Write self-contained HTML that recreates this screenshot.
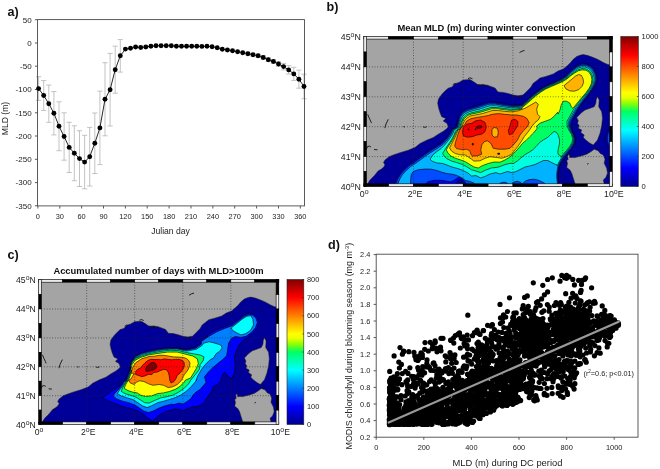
<!DOCTYPE html>
<html lang="en"><head><meta charset="utf-8"><title>MLD figure</title>
<style>html,body{margin:0;padding:0;background:#fff}svg{display:block}</style></head><body>
<svg width="660" height="469" viewBox="0 0 660 469">
<rect width="660" height="469" fill="#fff"/>
<g id="panel-a">
<g stroke="#b8b8b8" stroke-width="0.85" fill="none">
<path d="M38.6 76.7V100.4M36.0 76.7H41.2M36.0 100.4H41.2"/>
<path d="M43.7 80.6V110.4M41.1 80.6H46.3M41.1 110.4H46.3"/>
<path d="M48.8 85.1V122.3M46.2 85.1H51.4M46.2 122.3H51.4"/>
<path d="M53.9 91.6V134.9M51.3 91.6H56.5M51.3 134.9H56.5"/>
<path d="M59.0 101.8V150.7M56.4 101.8H61.6M56.4 150.7H61.6"/>
<path d="M64.1 112.8V160.2M61.5 112.8H66.7M61.5 160.2H66.7"/>
<path d="M69.2 122.3V172.5M66.6 122.3H71.8M66.6 172.5H71.8"/>
<path d="M74.3 125.8V180.7M71.8 125.8H76.9M71.8 180.7H76.9"/>
<path d="M79.5 130.7V186.5M76.9 130.7H82.1M76.9 186.5H82.1"/>
<path d="M84.6 135.3V188.8M82.0 135.3H87.2M82.0 188.8H87.2"/>
<path d="M89.7 127.4V186.0M87.1 127.4H92.3M87.1 186.0H92.3"/>
<path d="M94.8 113.0V173.5M92.2 113.0H97.4M92.2 173.5H97.4"/>
<path d="M99.9 91.1V164.6M97.3 91.1H102.5M97.3 164.6H102.5"/>
<path d="M105.0 62.7V135.8M102.4 62.7H107.6M102.4 135.8H107.6"/>
<path d="M110.1 53.4V126.0M107.5 53.4H112.7M107.5 126.0H112.7"/>
<path d="M115.2 46.2V93.2M112.6 46.2H117.8M112.6 93.2H117.8"/>
<path d="M120.3 39.6V72.1M117.7 39.6H122.9M117.7 72.1H122.9"/>
<path d="M247.9 52.3V55.1M245.3 52.3H250.5M245.3 55.1H250.5"/>
<path d="M253.0 53.4V56.2M250.4 53.4H255.6M250.4 56.2H255.6"/>
<path d="M258.1 54.2V57.5M255.5 54.2H260.7M255.5 57.5H260.7"/>
<path d="M263.2 55.6V59.3M260.6 55.6H265.8M260.6 59.3H265.8"/>
<path d="M268.3 57.8V61.5M265.7 57.8H270.9M265.7 61.5H270.9"/>
<path d="M273.4 59.6V63.3M270.8 59.6H276.0M270.8 63.3H276.0"/>
<path d="M278.5 61.7V66.3M275.9 61.7H281.1M275.9 66.3H281.1"/>
<path d="M283.6 63.4V69.9M281.0 63.4H286.2M281.0 69.9H286.2"/>
<path d="M288.7 65.7V74.0M286.1 65.7H291.3M286.1 74.0H291.3"/>
<path d="M293.8 67.3V80.4M291.2 67.3H296.4M291.2 80.4H296.4"/>
<path d="M298.9 70.1V88.2M296.3 70.1H301.5M296.3 88.2H301.5"/>
<path d="M304.0 74.2V98.8M301.4 74.2H306.6M301.4 98.8H306.6"/>
</g>
<rect x="37.5" y="19.6" width="267.0" height="186.3" fill="none" stroke="#4a4a4a" stroke-width="0.9"/>
<g stroke="#4a4a4a" stroke-width="0.9">
<line x1="37.9" y1="205.9" x2="37.9" y2="208.5"/>
<line x1="59.8" y1="205.9" x2="59.8" y2="208.5"/>
<line x1="81.6" y1="205.9" x2="81.6" y2="208.5"/>
<line x1="103.5" y1="205.9" x2="103.5" y2="208.5"/>
<line x1="125.4" y1="205.9" x2="125.4" y2="208.5"/>
<line x1="147.2" y1="205.9" x2="147.2" y2="208.5"/>
<line x1="169.1" y1="205.9" x2="169.1" y2="208.5"/>
<line x1="191.0" y1="205.9" x2="191.0" y2="208.5"/>
<line x1="212.9" y1="205.9" x2="212.9" y2="208.5"/>
<line x1="234.7" y1="205.9" x2="234.7" y2="208.5"/>
<line x1="256.6" y1="205.9" x2="256.6" y2="208.5"/>
<line x1="278.5" y1="205.9" x2="278.5" y2="208.5"/>
<line x1="300.3" y1="205.9" x2="300.3" y2="208.5"/>
<line x1="34.9" y1="19.7" x2="37.5" y2="19.7"/>
<line x1="34.9" y1="43.0" x2="37.5" y2="43.0"/>
<line x1="34.9" y1="66.2" x2="37.5" y2="66.2"/>
<line x1="34.9" y1="89.5" x2="37.5" y2="89.5"/>
<line x1="34.9" y1="112.8" x2="37.5" y2="112.8"/>
<line x1="34.9" y1="136.0" x2="37.5" y2="136.0"/>
<line x1="34.9" y1="159.3" x2="37.5" y2="159.3"/>
<line x1="34.9" y1="182.6" x2="37.5" y2="182.6"/>
<line x1="34.9" y1="205.8" x2="37.5" y2="205.8"/>
</g>
<polyline points="38.6,88.6 43.7,95.5 48.8,103.7 53.9,113.2 59.0,126.2 64.1,136.5 69.2,147.4 74.3,153.2 79.5,158.6 84.6,162.1 89.7,156.7 94.8,143.2 99.9,127.9 105.0,99.3 110.1,89.7 115.2,69.7 120.3,55.8 125.4,49.1 130.5,48.3 135.6,47.0 140.7,47.5 145.8,47.0 150.9,46.2 156.0,45.8 161.1,45.7 166.2,45.7 171.3,45.7 176.4,46.2 181.5,46.3 186.6,46.3 191.7,46.3 196.8,46.3 201.9,46.4 207.0,46.3 212.1,46.8 217.2,47.8 222.3,49.2 227.4,50.0 232.5,50.8 237.6,51.7 242.7,52.7 247.9,53.7 253.0,54.8 258.1,55.8 263.2,57.5 268.3,59.7 273.4,61.5 278.5,64.0 283.6,66.6 288.7,69.9 293.8,73.9 298.9,79.2 304.0,86.5" fill="none" stroke="#111" stroke-width="0.9"/>
<g fill="#000">
<circle cx="38.6" cy="88.6" r="2.45"/>
<circle cx="43.7" cy="95.5" r="2.45"/>
<circle cx="48.8" cy="103.7" r="2.45"/>
<circle cx="53.9" cy="113.2" r="2.45"/>
<circle cx="59.0" cy="126.2" r="2.45"/>
<circle cx="64.1" cy="136.5" r="2.45"/>
<circle cx="69.2" cy="147.4" r="2.45"/>
<circle cx="74.3" cy="153.2" r="2.45"/>
<circle cx="79.5" cy="158.6" r="2.45"/>
<circle cx="84.6" cy="162.1" r="2.45"/>
<circle cx="89.7" cy="156.7" r="2.45"/>
<circle cx="94.8" cy="143.2" r="2.45"/>
<circle cx="99.9" cy="127.9" r="2.45"/>
<circle cx="105.0" cy="99.3" r="2.45"/>
<circle cx="110.1" cy="89.7" r="2.45"/>
<circle cx="115.2" cy="69.7" r="2.45"/>
<circle cx="120.3" cy="55.8" r="2.45"/>
<circle cx="125.4" cy="49.1" r="2.45"/>
<circle cx="130.5" cy="48.3" r="2.45"/>
<circle cx="135.6" cy="47.0" r="2.45"/>
<circle cx="140.7" cy="47.5" r="2.45"/>
<circle cx="145.8" cy="47.0" r="2.45"/>
<circle cx="150.9" cy="46.2" r="2.45"/>
<circle cx="156.0" cy="45.8" r="2.45"/>
<circle cx="161.1" cy="45.7" r="2.45"/>
<circle cx="166.2" cy="45.7" r="2.45"/>
<circle cx="171.3" cy="45.7" r="2.45"/>
<circle cx="176.4" cy="46.2" r="2.45"/>
<circle cx="181.5" cy="46.3" r="2.45"/>
<circle cx="186.6" cy="46.3" r="2.45"/>
<circle cx="191.7" cy="46.3" r="2.45"/>
<circle cx="196.8" cy="46.3" r="2.45"/>
<circle cx="201.9" cy="46.4" r="2.45"/>
<circle cx="207.0" cy="46.3" r="2.45"/>
<circle cx="212.1" cy="46.8" r="2.45"/>
<circle cx="217.2" cy="47.8" r="2.45"/>
<circle cx="222.3" cy="49.2" r="2.45"/>
<circle cx="227.4" cy="50.0" r="2.45"/>
<circle cx="232.5" cy="50.8" r="2.45"/>
<circle cx="237.6" cy="51.7" r="2.45"/>
<circle cx="242.7" cy="52.7" r="2.45"/>
<circle cx="247.9" cy="53.7" r="2.45"/>
<circle cx="253.0" cy="54.8" r="2.45"/>
<circle cx="258.1" cy="55.8" r="2.45"/>
<circle cx="263.2" cy="57.5" r="2.45"/>
<circle cx="268.3" cy="59.7" r="2.45"/>
<circle cx="273.4" cy="61.5" r="2.45"/>
<circle cx="278.5" cy="64.0" r="2.45"/>
<circle cx="283.6" cy="66.6" r="2.45"/>
<circle cx="288.7" cy="69.9" r="2.45"/>
<circle cx="293.8" cy="73.9" r="2.45"/>
<circle cx="298.9" cy="79.2" r="2.45"/>
<circle cx="304.0" cy="86.5" r="2.45"/>
</g>
<g font-family='"Liberation Sans", Arial, sans-serif' font-size="7.4" fill="#222">
<text x="37.9" y="219.3" text-anchor="middle">0</text>
<text x="59.8" y="219.3" text-anchor="middle">30</text>
<text x="81.6" y="219.3" text-anchor="middle">60</text>
<text x="103.5" y="219.3" text-anchor="middle">90</text>
<text x="125.4" y="219.3" text-anchor="middle">120</text>
<text x="147.2" y="219.3" text-anchor="middle">150</text>
<text x="169.1" y="219.3" text-anchor="middle">180</text>
<text x="191.0" y="219.3" text-anchor="middle">210</text>
<text x="212.9" y="219.3" text-anchor="middle">240</text>
<text x="234.7" y="219.3" text-anchor="middle">270</text>
<text x="256.6" y="219.3" text-anchor="middle">300</text>
<text x="278.5" y="219.3" text-anchor="middle">330</text>
<text x="300.3" y="219.3" text-anchor="middle">360</text>
<text x="31.6" y="22.5" text-anchor="end" font-size="8">50</text>
<text x="31.6" y="45.8" text-anchor="end" font-size="8">0</text>
<text x="31.6" y="69.1" text-anchor="end" font-size="8">-50</text>
<text x="31.6" y="92.3" text-anchor="end" font-size="8">-100</text>
<text x="31.6" y="115.6" text-anchor="end" font-size="8">-150</text>
<text x="31.6" y="138.9" text-anchor="end" font-size="8">-200</text>
<text x="31.6" y="162.1" text-anchor="end" font-size="8">-250</text>
<text x="31.6" y="185.4" text-anchor="end" font-size="8">-300</text>
<text x="31.6" y="208.7" text-anchor="end" font-size="8">-350</text>
</g>
<text x="170.5" y="234.4" text-anchor="middle" font-family='"Liberation Sans", Arial, sans-serif' font-size="8.6" fill="#222">Julian day</text>
<text transform="translate(8.3,118.5) rotate(-90)" text-anchor="middle" font-family='"Liberation Sans", Arial, sans-serif' font-size="8.6" fill="#222">MLD (m)</text>
<text x="7.5" y="16.3" font-family='"Liberation Sans", Arial, sans-serif' font-size="12.6" font-weight="bold" fill="#111">a)</text>
</g>
<g id="map-b">
<clipPath id="clip-map-b"><rect x="363.8" y="36.4" width="248.5" height="150.1"/></clipPath>
<g clip-path="url(#clip-map-b)">
<rect x="363.8" y="36.4" width="248.5" height="150.1" fill="#000098"/>
<polygon points="612.0,128.5 609.7,128.5 607.5,131.0 606.0,135.0 605.6,139.0 606.2,143.0 608.0,146.5 609.7,147.0 612.0,147.0" fill="#0000f4" stroke="#000" stroke-width="0.62" stroke-linejoin="round"/>
<polygon points="612.0,131.0 609.7,131.0 608.2,133.0 607.3,137.0 607.4,141.0 608.6,144.5 609.7,145.0 612.0,145.0" fill="#004dff" stroke="#000" stroke-width="0.62" stroke-linejoin="round"/>
<polygon points="393.9,184.7 396.3,178.4 399.5,173.5 403.2,169.1 408.1,164.8 413.7,161.1 419.3,156.7 424.9,153.0 430.5,149.3 435.5,146.1 440.4,143.0 444.2,139.9 447.3,136.2 449.8,132.5 451.0,130.0 452.8,129.0 456.1,126.7 457.4,121.1 458.6,116.1 461.1,111.8 466.1,108.7 472.3,106.8 478.5,104.9 483.5,103.1 488.4,101.8 494.7,101.8 502.1,103.1 509.6,104.3 517.0,104.9 522.0,104.2 524.0,102.5 525.7,101.0 527.5,99.5 529.2,97.9 530.9,96.4 532.6,94.9 534.3,93.4 536.0,92.1 537.8,90.9 539.5,89.6 541.2,88.5 542.9,87.4 544.6,86.4 547.2,85.1 549.8,83.8 552.4,82.8 554.9,81.8 557.5,80.6 560.1,79.3 561.8,78.2 563.5,77.1 565.3,76.0 567.2,74.1 569.1,72.2 571.1,70.2 573.0,68.3 574.9,66.7 576.9,65.1 579.1,64.1 581.4,63.2 583.6,63.2 585.9,63.2 588.1,64.1 590.4,65.1 592.3,67.0 594.3,69.0 595.5,71.5 596.8,74.1 597.2,76.7 597.5,79.3 596.8,81.2 596.2,83.1 595.5,85.1 594.5,86.8 593.4,88.5 592.3,90.2 591.0,91.9 589.7,93.7 588.5,95.4 587.2,97.1 585.9,98.8 584.6,100.5 583.3,102.2 582.0,104.0 580.7,105.7 579.6,107.4 578.6,109.1 577.5,110.8 576.2,113.4 574.9,116.0 572.5,121.0 571.5,126.0 572.5,131.0 574.5,135.0 575.8,139.0 575.2,143.5 572.5,148.0 569.3,152.0 566.0,156.0 563.5,159.5 561.0,163.5 559.3,167.5 558.5,172.0 558.1,177.0 558.5,181.5 559.3,187.0" fill="#0000f4" stroke="#000" stroke-width="0.62" stroke-linejoin="round"/>
<polygon points="395.5,184.7 397.7,179.0 400.6,174.3 404.3,170.0 409.3,165.6 414.9,161.9 420.4,157.7 426.0,153.8 431.6,150.1 436.6,147.0 441.3,143.9 445.0,140.6 448.1,136.8 450.6,133.0 451.8,130.0 456.9,127.0 458.2,121.5 459.6,116.5 462.3,112.4 467.1,109.6 472.8,107.9 479.0,106.1 484.0,104.4 488.9,103.0 495.2,103.0 502.5,104.3 509.8,105.3 517.0,105.8 522.0,105.0 524.3,102.8 526.1,101.3 527.8,99.8 529.5,98.3 531.2,96.8 532.9,95.3 534.6,93.8 536.3,92.5 538.1,91.3 539.7,90.0 541.5,88.9 543.2,87.8 544.9,86.8 547.4,85.5 550.0,84.3 552.6,83.3 555.1,82.3 557.7,81.0 560.4,79.7 562.1,78.7 563.8,77.6 565.6,76.5 567.6,74.6 569.5,72.7 571.5,70.8 573.4,69.0 575.4,67.5 577.1,66.1 579.4,65.2 581.5,64.3 583.5,64.3 585.8,64.4 587.7,65.2 589.8,66.1 591.8,67.9 593.4,69.5 594.7,72.1 595.8,74.3 596.2,76.9 596.5,79.3 596.0,81.1 595.4,83.0 594.8,84.8 593.8,86.5 592.8,88.2 591.8,89.9 590.5,91.6 589.2,93.3 588.0,95.0 586.7,96.7 585.4,98.4 584.1,100.1 582.7,101.8 581.4,103.5 580.1,105.2 579.0,106.9 577.9,108.6 576.8,110.3 575.7,112.5 574.6,114.7 571.1,121.1 570.4,126.0 571.6,130.9 573.7,134.8 575.0,138.9 574.4,143.2 571.8,147.6 568.6,151.6 565.4,155.5 562.9,158.9 560.4,163.0 558.6,167.0 557.8,171.5 557.4,176.6 557.8,181.2 558.6,187.0" fill="#004dff" stroke="#000" stroke-width="0.62" stroke-linejoin="round"/>
<polygon points="424.3,185.3 428.0,181.6 434.2,180.3 440.4,180.3 445.4,180.9 450.4,181.9 454.1,180.3 457.8,177.8 460.3,177.2 462.8,179.1 465.3,182.2 466.5,185.3" fill="#0000f4" stroke="#000" stroke-width="0.62" stroke-linejoin="round"/>
<polygon points="456.0,185.3 457.8,180.9 460.3,179.1 462.6,180.9 464.0,185.3" fill="#000098" stroke="#000" stroke-width="0.62" stroke-linejoin="round"/>
<polygon points="522.5,185.8 524.2,181.3 528.3,180.0 532.5,181.3 534.2,185.8" fill="#0000f4" stroke="#000" stroke-width="0.62" stroke-linejoin="round"/>
<polygon points="397.6,184.7 399.5,179.7 401.9,175.3 405.7,171.0 410.6,166.6 416.2,162.9 421.8,158.8 427.4,154.8 433.0,151.1 438.0,148.0 442.3,144.9 446.0,141.4 449.1,137.5 451.6,133.7 452.9,130.0 457.7,127.2 459.0,121.8 460.5,117.0 463.5,113.0 468.0,110.5 473.3,109.1 479.5,107.3 484.5,105.6 489.5,104.2 495.7,104.2 502.8,105.4 509.9,106.4 517.0,106.6 522.0,105.9 524.7,103.2 526.4,101.7 528.1,100.2 529.8,98.7 531.5,97.2 533.2,95.7 534.9,94.2 536.6,92.9 538.4,91.6 540.0,90.4 541.7,89.3 543.4,88.3 545.1,87.2 547.6,86.0 550.2,84.8 552.8,83.8 555.3,82.8 557.9,81.5 560.7,80.2 562.4,79.2 564.1,78.1 566.0,76.9 568.0,75.1 569.9,73.3 571.9,71.4 573.9,69.8 575.9,68.3 577.4,67.1 579.7,66.2 581.6,65.5 583.4,65.5 585.6,65.6 587.4,66.2 589.2,67.1 591.2,68.8 592.5,70.1 593.8,72.6 594.8,74.6 595.2,77.1 595.6,79.3 595.1,80.9 594.6,82.9 594.1,84.6 593.2,86.1 592.2,87.9 591.2,89.5 590.0,91.2 588.7,92.9 587.5,94.6 586.2,96.2 584.8,97.9 583.5,99.6 582.2,101.3 580.9,103.0 579.6,104.7 578.4,106.4 577.3,108.1 576.1,109.7 575.1,111.6 574.3,113.3 569.7,121.2 569.4,126.0 570.8,130.8 573.0,134.6 574.2,138.8 573.6,142.9 571.0,147.3 567.9,151.2 564.7,155.0 562.2,158.3 559.7,162.5 557.9,166.4 557.1,171.1 556.7,176.1 557.1,180.9 557.9,187.0 475.5,187.0 474.0,183.0 470.0,181.5 465.3,180.3 461.6,177.8 456.6,175.3 451.6,174.1 446.7,173.5 441.7,172.2 436.7,170.4 430.5,169.1 424.3,169.1 418.1,169.8 413.1,171.6 411.3,174.7 410.6,179.7 410.6,184.7" fill="#00b2ff" stroke="#000" stroke-width="0.62" stroke-linejoin="round"/>
<polygon points="500.0,186.4 500.0,183.3 501.9,182.4 505.0,182.2 507.5,183.3 507.5,186.4" fill="#004dff" stroke="#000" stroke-width="0.62" stroke-linejoin="round"/>
<polygon points="523.0,186.4 523.0,183.3 525.5,180.8 529.8,179.6 534.2,179.2 538.5,180.2 542.2,182.0 544.7,183.3 544.7,186.4" fill="#004dff" stroke="#000" stroke-width="0.62" stroke-linejoin="round"/>
<polygon points="510.9,185.5 513.2,182.4 517.0,181.2 520.8,182.4 523.0,185.5" fill="#004dff" stroke="#000" stroke-width="0.62" stroke-linejoin="round"/>
<polygon points="430.5,158.6 433.0,154.8 436.7,151.7 441.1,148.6 444.2,145.5 447.3,141.8 450.1,138.1 452.6,134.3 454.1,130.0 458.7,127.5 460.0,122.2 461.8,117.5 465.1,113.8 469.3,111.7 474.0,110.5 480.2,108.9 485.2,107.2 490.1,105.8 496.4,105.8 503.2,106.9 510.2,107.7 517.0,107.8 522.0,107.0 525.1,103.7 526.8,102.1 528.5,100.6 530.2,99.1 531.9,97.6 533.7,96.1 535.3,94.7 537.0,93.4 538.7,92.1 540.3,91.0 542.1,89.9 543.8,88.8 545.4,87.8 547.9,86.6 550.5,85.4 553.0,84.4 555.6,83.3 558.2,82.1 561.0,80.8 562.8,79.8 564.5,78.8 566.5,77.5 568.5,75.7 570.4,74.0 572.5,72.2 574.4,70.7 576.5,69.3 577.7,68.3 580.0,67.6 581.7,67.0 583.2,67.0 585.5,67.1 586.9,67.6 588.4,68.4 590.5,69.9 591.3,70.8 592.7,73.2 593.5,74.9 594.0,77.4 594.3,79.3 594.0,80.8 593.5,82.7 593.1,84.3 592.3,85.7 591.4,87.5 590.5,89.1 589.3,90.7 588.1,92.4 586.9,94.0 585.5,95.7 584.2,97.4 582.8,99.1 581.5,100.7 580.2,102.4 578.8,104.1 577.6,105.7 576.4,107.4 575.2,109.0 574.4,110.5 573.8,111.6 568.3,121.4 568.3,126.0 569.9,130.6 572.2,134.4 573.5,138.7 572.8,142.6 570.3,146.9 567.2,150.8 564.0,154.6 561.5,157.8 559.0,162.0 557.2,165.8 556.5,164.6 555.3,164.3 552.2,162.8 547.8,160.5 543.5,160.5 539.8,162.2 534.8,164.6 529.8,165.9 524.8,167.1 519.9,169.6 516.1,171.5 512.4,172.7 507.5,171.5 503.7,172.7 500.0,174.0 495.8,172.6 489.7,174.1 485.2,176.4 480.6,177.9 476.1,175.6 471.5,176.0 467.8,172.9 462.8,170.4 457.8,168.5 452.9,167.3 447.9,165.4 442.9,163.5 436.7,162.9 431.8,161.1 430.3,159.2" fill="#00ffe0" stroke="#000" stroke-width="0.62" stroke-linejoin="round"/>
<polygon points="442.9,153.0 444.8,149.9 447.3,146.1 449.8,142.4 452.2,138.7 454.1,135.0 455.4,131.2 459.7,127.9 461.0,122.7 463.1,118.1 466.8,114.6 470.6,113.0 474.7,112.1 480.9,110.6 485.9,109.0 490.9,107.5 497.1,107.5 503.7,108.5 510.4,109.2 517.0,108.9 522.0,108.1 525.5,104.1 527.2,102.6 528.9,101.1 530.6,99.6 532.4,98.1 534.1,96.6 535.7,95.3 537.4,94.0 539.1,92.7 540.7,91.5 542.4,90.5 544.1,89.4 545.7,88.4 548.2,87.3 550.8,86.1 553.3,85.0 555.9,84.0 558.5,82.8 561.4,81.5 563.1,80.5 564.9,79.5 567.0,78.1 569.0,76.3 571.0,74.7 573.1,73.0 575.0,71.7 577.1,70.3 578.1,69.7 580.4,69.0 581.9,68.5 583.1,68.6 585.3,68.8 586.3,69.0 587.6,69.7 589.7,71.2 590.1,71.5 591.5,73.9 592.2,75.2 592.7,77.7 593.0,79.3 592.8,80.6 592.4,82.6 592.1,84.0 591.5,85.3 590.5,87.1 589.7,88.7 588.6,90.2 587.4,92.0 586.2,93.5 584.9,95.1 583.5,96.8 582.1,98.4 580.7,100.1 579.4,101.8 578.0,103.4 576.8,105.0 575.5,106.7 574.3,108.3 573.6,109.3 573.4,109.8 566.9,121.5 567.2,126.0 569.0,130.5 571.4,134.2 572.7,138.6 572.0,142.3 569.6,146.6 566.5,150.4 563.4,154.1 560.9,157.2 561.1,157.2 560.9,156.0 558.4,154.7 557.8,152.2 558.4,148.5 559.4,144.1 559.6,139.8 558.4,135.5 556.5,132.3 554.0,131.5 550.9,134.2 547.8,137.3 543.5,139.8 539.8,142.3 536.0,146.6 532.9,149.7 529.2,152.2 524.8,154.7 521.1,157.8 517.4,160.9 513.7,163.4 509.9,163.4 505.0,164.6 500.0,166.5 497.3,167.3 491.2,168.0 485.2,170.3 480.6,172.6 476.1,171.1 471.5,169.8 466.5,166.6 461.6,164.2 456.6,162.5 451.6,161.1 446.7,158.6 444.2,156.1 442.7,153.6" fill="#00ff64" stroke="#000" stroke-width="0.62" stroke-linejoin="round"/>
<polygon points="446.7,149.3 448.5,146.1 450.6,143.0 452.9,139.3 454.7,135.6 456.3,131.9 460.6,128.2 461.9,123.1 464.2,118.6 468.1,115.3 471.7,114.0 475.3,113.4 481.5,111.9 486.5,110.4 491.5,108.8 497.7,108.8 504.1,109.8 510.6,110.4 517.0,109.9 522.0,109.1 522.0,107.6 525.3,105.0 530.5,100.5 535.6,96.0 540.8,92.1 545.9,88.9 551.1,86.6 556.2,84.4 561.4,82.2 566.5,79.3 570.4,76.0 574.3,73.2 578.1,70.9 582.0,69.9 585.9,70.2 589.1,72.2 591.0,75.4 591.9,79.3 591.3,83.8 589.1,88.3 585.9,92.8 582.0,97.3 578.8,101.2 575.6,105.0 573.0,108.3 571.4,107.0 569.8,103.1 566.5,101.2 563.3,101.2 561.4,104.4 560.1,109.5 558.2,114.1 557.5,112.3 554.3,116.1 550.5,119.3 545.4,121.2 540.2,123.1 536.4,126.3 537.3,128.0 536.6,129.2 533.5,133.0 529.8,136.7 526.1,140.4 522.4,143.5 519.3,147.3 516.1,151.0 512.4,154.7 508.7,157.8 504.3,160.3 500.0,162.2 494.2,162.0 488.2,163.5 482.1,165.8 478.3,168.0 474.0,167.0 470.3,164.8 465.3,161.7 460.3,159.8 455.4,158.3 451.0,156.1 447.9,153.0 446.4,149.9" fill="#faff00" stroke="#000" stroke-width="0.62" stroke-linejoin="round"/>
<polygon points="449.8,147.4 451.4,144.3 453.1,140.9 455.1,137.2 456.6,133.7 457.8,130.0 461.7,128.5 463.0,123.6 465.5,119.2 469.8,116.1 473.0,115.3 476.0,114.9 482.2,113.6 487.2,112.1 492.2,110.5 498.4,110.5 504.6,111.4 510.8,111.8 517.0,111.1 518.3,110.8 525.0,108.3 530.8,105.0 535.8,102.0 538.3,104.2 536.7,109.2 537.5,114.2 540.0,116.7 538.3,120.0 535.0,122.5 531.7,126.7 528.3,131.7 524.2,136.7 521.7,140.8 518.3,145.8 515.0,150.0 511.7,154.2 506.7,156.7 501.7,158.3 496.7,157.5 490.0,156.7 485.0,158.3 480.0,160.8 474.0,161.1 471.5,159.2 467.8,156.7 464.7,154.8 460.3,154.8 455.4,153.6 451.6,151.1 449.5,148.0" fill="#ffb300" stroke="#000" stroke-width="0.62" stroke-linejoin="round"/>
<polygon points="564.0,85.7 567.8,82.5 571.7,79.3 575.6,76.0 578.8,74.5 581.4,75.4 583.0,78.6 583.6,82.5 582.0,86.4 578.8,89.6 574.3,91.2 569.8,90.9 565.9,88.9" fill="#ffb300" stroke="#000" stroke-width="0.62" stroke-linejoin="round"/>
<polygon points="454.7,146.1 455.4,142.4 456.6,138.7 457.8,135.0 459.1,131.2 461.1,127.5 464.2,125.4 466.7,121.1 471.1,118.6 477.3,117.4 483.5,116.4 488.4,115.5 492.2,114.3 498.4,113.6 504.6,114.3 510.8,114.9 516.7,115.0 523.3,116.3 526.7,118.3 529.2,122.5 527.5,126.7 523.3,130.8 520.0,135.0 517.5,140.0 513.3,145.0 510.0,148.3 505.0,149.2 498.3,149.2 493.3,148.3 490.8,143.3 487.5,140.8 484.2,141.7 481.7,145.0 480.8,150.0 481.7,154.2 477.5,155.8 473.7,155.8 472.7,156.7 470.9,154.2 469.6,150.5 466.5,149.3 461.6,149.6 456.6,148.6" fill="#ff4c00" stroke="#000" stroke-width="0.62" stroke-linejoin="round"/>
<polygon points="492.0,129.2 494.2,127.5 497.5,128.3 498.3,132.5 497.5,136.7 494.2,137.2 492.0,135.0" fill="#ffb300" stroke="#000" stroke-width="0.62" stroke-linejoin="round"/>
<polygon points="463.3,127.5 466.7,124.2 471.7,123.3 475.8,120.8 480.8,120.0 485.0,122.5 486.3,126.7 485.0,131.7 481.7,134.2 476.7,135.0 472.5,136.7 467.5,137.2 463.3,135.8 462.5,131.7" fill="#f40000" stroke="#000" stroke-width="0.62" stroke-linejoin="round"/>
<polygon points="511.7,120.0 515.0,119.2 518.0,121.7 517.5,125.8 515.0,130.0 512.5,133.7 509.2,134.7 508.3,130.8 510.0,125.8 510.8,122.5" fill="#f40000" stroke="#000" stroke-width="0.62" stroke-linejoin="round"/>
<polygon points="476.3,127.0 478.3,125.7 481.3,125.7 482.0,127.0 480.0,128.3 477.3,128.3" fill="#900000" stroke="#000" stroke-width="0.62" stroke-linejoin="round"/>
<polygon points="467.8,129.2 468.8,128.8 469.2,129.8 468.2,130.2" fill="#900000" stroke="#000" stroke-width="0.62" stroke-linejoin="round"/>
<polygon points="475.0,128.8 476.2,128.7 476.2,129.7 475.2,129.8" fill="#900000" stroke="#000" stroke-width="0.62" stroke-linejoin="round"/>
<polygon points="472.3,143.5 473.3,143.5 473.3,145.0 472.3,145.0" fill="#900000" stroke="#000" stroke-width="0.8" stroke-linejoin="round"/>
<polygon points="497.7,153.3 499.5,153.2 499.7,154.2 497.8,154.3" fill="#900000" stroke="#000" stroke-width="0.8" stroke-linejoin="round"/>
<polygon points="360.0,190.0 367.5,183.9 370.0,180.0 374.2,175.8 378.3,170.8 380.8,169.4 383.3,167.5 385.0,165.0 383.5,162.5 385.0,160.0 389.2,156.7 393.3,155.0 400.0,152.7 408.3,150.2 415.0,147.5 420.0,143.6 426.7,140.2 433.3,137.5 438.3,134.2 443.3,131.3 446.7,128.8 448.3,126.8 446.9,123.3 443.2,121.0 445.8,118.5 441.7,116.7 440.0,112.5 438.5,107.5 437.7,103.3 438.5,99.0 441.9,94.2 445.0,91.0 448.2,88.2 452.0,87.0 455.0,83.8 459.0,82.4 463.0,80.0 470.0,79.6 474.0,82.0 478.0,84.8 483.0,84.4 488.0,85.4 495.0,88.0 498.0,92.0 503.0,92.4 507.0,93.2 513.0,95.0 518.0,95.8 523.0,95.0 528.0,90.2 531.0,87.0 533.0,83.4 537.0,80.4 540.0,78.0 546.0,76.4 553.3,74.0 558.0,71.0 563.3,69.0 567.0,66.0 570.0,63.2 573.0,59.6 576.7,56.6 580.0,55.2 583.3,54.6 588.0,55.6 593.3,57.5 598.0,59.6 603.3,62.5 607.0,64.2 611.0,65.3 616.0,65.0 616.0,30.0 360.0,30.0" fill="#a4a4a4" stroke="#1a1a1a" stroke-width="0.5" stroke-linejoin="round"/>
<polygon points="597.5,96.7 599.2,100.0 598.7,106.7 601.7,111.7 602.5,118.3 601.7,125.8 600.0,133.3 597.5,140.0 593.3,145.0 590.0,143.3 585.8,140.0 583.3,137.5 584.2,135.0 580.8,132.5 581.7,130.0 578.3,128.3 579.2,125.8 577.5,123.3 578.3,120.8 576.7,117.5 579.2,115.0 581.7,112.5 585.0,110.0 590.0,108.3 594.2,106.7 595.8,103.3 596.3,99.2" fill="#a4a4a4" stroke="#1a1a1a" stroke-width="0.5" stroke-linejoin="round"/>
<polygon points="575.0,190.0 575.0,183.7 573.3,178.3 571.7,173.3 570.0,170.0 566.7,167.5 567.5,163.3 566.7,160.8 568.2,159.3 567.6,156.2 568.6,154.6 569.6,155.6 569.8,157.6 571.7,157.4 575.0,157.5 581.7,155.8 586.7,154.2 590.8,151.7 594.2,149.2 598.3,150.8 600.0,153.3 603.3,155.0 605.0,159.2 604.2,163.3 606.7,168.3 607.5,173.3 605.8,177.5 603.3,180.0 604.2,183.7 604.2,190.0" fill="#a4a4a4" stroke="#1a1a1a" stroke-width="0.5" stroke-linejoin="round"/>
<polyline points="367.7,114.3 369.2,118.0 370.6,121.0 371.5,123.1" fill="none" stroke="#111" stroke-width="0.9"/>
<polyline points="384.8,128.1 386.0,124.0 388.3,119.3" fill="none" stroke="#111" stroke-width="0.9"/>
<polyline points="403.4,126.7 405.0,127.0" fill="none" stroke="#111" stroke-width="0.9"/>
<polyline points="423.0,126.9 425.0,127.3 426.8,126.7" fill="none" stroke="#111" stroke-width="0.9"/>
<polyline points="366.5,149.0 367.5,146.5 369.5,146.2 371.0,147.0" fill="none" stroke="#111" stroke-width="0.9"/>
<polyline points="374.0,149.5 377.5,149.8" fill="none" stroke="#111" stroke-width="0.9"/>
<polyline points="519.5,52.6 522.0,51.2 524.5,50.4" fill="none" stroke="#111" stroke-width="0.9"/>
<polyline points="587.5,164.5 588.3,163.0" fill="none" stroke="#111" stroke-width="0.9"/>
<polyline points="468.0,78.6 470.0,77.8 472.5,78.8" fill="none" stroke="#111" stroke-width="0.9"/>
<polyline points="452.8,84.8 454.5,83.6 455.8,83.8" fill="none" stroke="#111" stroke-width="0.9"/>
<polyline points="478.0,84.5 480.5,85.8 483.0,85.2 485.5,86.2 487.5,85.4" fill="none" stroke="#111" stroke-width="0.9"/>
<polyline points="516.8,96.8 519.5,97.2 522.5,96.6" fill="none" stroke="#111" stroke-width="0.9"/>
<polyline points="607.4,95.8 608.4,96.4" fill="none" stroke="#111" stroke-width="0.9"/>
<polyline points="594.6,147.6 596.4,148.6 597.6,148.2" fill="none" stroke="#111" stroke-width="0.9"/>
<g stroke="#222" stroke-width="0.7" stroke-dasharray="0.8 1.9">
<line x1="413.5" y1="36.4" x2="413.5" y2="186.5"/>
<line x1="463.2" y1="36.4" x2="463.2" y2="186.5"/>
<line x1="512.9" y1="36.4" x2="512.9" y2="186.5"/>
<line x1="562.6" y1="36.4" x2="562.6" y2="186.5"/>
<line x1="363.8" y1="156.6" x2="612.3" y2="156.6"/>
<line x1="363.8" y1="126.7" x2="612.3" y2="126.7"/>
<line x1="363.8" y1="96.8" x2="612.3" y2="96.8"/>
<line x1="363.8" y1="66.9" x2="612.3" y2="66.9"/>
</g>
</g>
<g stroke="#000" stroke-width="0.6">
<rect x="363.8" y="36.4" width="24.9" height="2.7" fill="#ebebeb"/>
<rect x="363.8" y="183.8" width="24.9" height="2.7" fill="#000"/>
<rect x="388.7" y="36.4" width="24.8" height="2.7" fill="#000"/>
<rect x="388.7" y="183.8" width="24.8" height="2.7" fill="#ebebeb"/>
<rect x="413.5" y="36.4" width="24.9" height="2.7" fill="#ebebeb"/>
<rect x="413.5" y="183.8" width="24.9" height="2.7" fill="#000"/>
<rect x="438.4" y="36.4" width="24.9" height="2.7" fill="#000"/>
<rect x="438.4" y="183.8" width="24.9" height="2.7" fill="#ebebeb"/>
<rect x="463.2" y="36.4" width="24.8" height="2.7" fill="#ebebeb"/>
<rect x="463.2" y="183.8" width="24.8" height="2.7" fill="#000"/>
<rect x="488.1" y="36.4" width="24.9" height="2.7" fill="#000"/>
<rect x="488.1" y="183.8" width="24.9" height="2.7" fill="#ebebeb"/>
<rect x="512.9" y="36.4" width="24.8" height="2.7" fill="#ebebeb"/>
<rect x="512.9" y="183.8" width="24.8" height="2.7" fill="#000"/>
<rect x="537.8" y="36.4" width="24.9" height="2.7" fill="#000"/>
<rect x="537.8" y="183.8" width="24.9" height="2.7" fill="#ebebeb"/>
<rect x="562.6" y="36.4" width="24.9" height="2.7" fill="#ebebeb"/>
<rect x="562.6" y="183.8" width="24.9" height="2.7" fill="#000"/>
<rect x="587.5" y="36.4" width="24.8" height="2.7" fill="#000"/>
<rect x="587.5" y="183.8" width="24.8" height="2.7" fill="#ebebeb"/>
<rect x="363.8" y="36.4" width="2.7" height="15.6" fill="#ebebeb"/>
<rect x="609.6" y="36.4" width="2.7" height="15.6" fill="#000"/>
<rect x="363.8" y="52.0" width="2.7" height="15.0" fill="#000"/>
<rect x="609.6" y="52.0" width="2.7" height="15.0" fill="#ebebeb"/>
<rect x="363.8" y="66.9" width="2.7" height="14.9" fill="#ebebeb"/>
<rect x="609.6" y="66.9" width="2.7" height="14.9" fill="#000"/>
<rect x="363.8" y="81.8" width="2.7" height="15.0" fill="#000"/>
<rect x="609.6" y="81.8" width="2.7" height="15.0" fill="#ebebeb"/>
<rect x="363.8" y="96.8" width="2.7" height="15.0" fill="#ebebeb"/>
<rect x="609.6" y="96.8" width="2.7" height="15.0" fill="#000"/>
<rect x="363.8" y="111.8" width="2.7" height="14.9" fill="#000"/>
<rect x="609.6" y="111.8" width="2.7" height="14.9" fill="#ebebeb"/>
<rect x="363.8" y="126.7" width="2.7" height="14.9" fill="#ebebeb"/>
<rect x="609.6" y="126.7" width="2.7" height="14.9" fill="#000"/>
<rect x="363.8" y="141.6" width="2.7" height="15.0" fill="#000"/>
<rect x="609.6" y="141.6" width="2.7" height="15.0" fill="#ebebeb"/>
<rect x="363.8" y="156.6" width="2.7" height="14.9" fill="#ebebeb"/>
<rect x="609.6" y="156.6" width="2.7" height="14.9" fill="#000"/>
<rect x="363.8" y="171.5" width="2.7" height="15.0" fill="#000"/>
<rect x="609.6" y="171.5" width="2.7" height="15.0" fill="#ebebeb"/>
</g>
<g font-family='"Liberation Sans", Arial, sans-serif' font-size="8.8" fill="#222">
<text x="360.8" y="189.8" text-anchor="end">40<tspan dy="-3" font-size="7.0">o</tspan><tspan dy="3">N</tspan></text>
<text x="360.8" y="159.9" text-anchor="end">41<tspan dy="-3" font-size="7.0">o</tspan><tspan dy="3">N</tspan></text>
<text x="360.8" y="130.0" text-anchor="end">42<tspan dy="-3" font-size="7.0">o</tspan><tspan dy="3">N</tspan></text>
<text x="360.8" y="100.1" text-anchor="end">43<tspan dy="-3" font-size="7.0">o</tspan><tspan dy="3">N</tspan></text>
<text x="360.8" y="70.2" text-anchor="end">44<tspan dy="-3" font-size="7.0">o</tspan><tspan dy="3">N</tspan></text>
<text x="360.8" y="40.3" text-anchor="end">45<tspan dy="-3" font-size="7.0">o</tspan><tspan dy="3">N</tspan></text>
<text x="364.2" y="196.7" text-anchor="middle">0<tspan dy="-3" font-size="7.0">o</tspan></text>
<text x="415.0" y="196.7" text-anchor="middle">2<tspan dy="-3" font-size="7.0">o</tspan><tspan dy="3">E</tspan></text>
<text x="464.7" y="196.7" text-anchor="middle">4<tspan dy="-3" font-size="7.0">o</tspan><tspan dy="3">E</tspan></text>
<text x="514.4" y="196.7" text-anchor="middle">6<tspan dy="-3" font-size="7.0">o</tspan><tspan dy="3">E</tspan></text>
<text x="564.1" y="196.7" text-anchor="middle">8<tspan dy="-3" font-size="7.0">o</tspan><tspan dy="3">E</tspan></text>
<text x="613.8" y="196.7" text-anchor="middle">10<tspan dy="-3" font-size="7.0">o</tspan><tspan dy="3">E</tspan></text>
</g>
<text x="486.5" y="30.8" text-anchor="middle" font-family='"Liberation Sans", Arial, sans-serif' font-size="9.4" font-weight="bold" fill="#111">Mean MLD (m) during winter convection</text>
</g>
<defs><linearGradient id="cbB" x1="0" y1="1" x2="0" y2="0">
<stop offset="0.0000" stop-color="#00008f"/>
<stop offset="0.0312" stop-color="#0000ab"/>
<stop offset="0.0625" stop-color="#0000c7"/>
<stop offset="0.0938" stop-color="#0000e3"/>
<stop offset="0.1250" stop-color="#0000ff"/>
<stop offset="0.1562" stop-color="#0020ff"/>
<stop offset="0.1875" stop-color="#0040ff"/>
<stop offset="0.2188" stop-color="#0060ff"/>
<stop offset="0.2500" stop-color="#0080ff"/>
<stop offset="0.2812" stop-color="#009fff"/>
<stop offset="0.3125" stop-color="#00bfff"/>
<stop offset="0.3438" stop-color="#00dfff"/>
<stop offset="0.3750" stop-color="#00ffff"/>
<stop offset="0.4062" stop-color="#00ffd8"/>
<stop offset="0.4375" stop-color="#00ffb2"/>
<stop offset="0.4688" stop-color="#00ff8b"/>
<stop offset="0.5000" stop-color="#00ff64"/>
<stop offset="0.5312" stop-color="#51ff26"/>
<stop offset="0.5625" stop-color="#a0ff00"/>
<stop offset="0.5938" stop-color="#ebff00"/>
<stop offset="0.6250" stop-color="#ffff00"/>
<stop offset="0.6562" stop-color="#ffdf00"/>
<stop offset="0.6875" stop-color="#ffbf00"/>
<stop offset="0.7188" stop-color="#ff9f00"/>
<stop offset="0.7500" stop-color="#ff8000"/>
<stop offset="0.7812" stop-color="#ff6000"/>
<stop offset="0.8125" stop-color="#ff4000"/>
<stop offset="0.8438" stop-color="#ff2000"/>
<stop offset="0.8750" stop-color="#ff0000"/>
<stop offset="0.9062" stop-color="#df0000"/>
<stop offset="0.9375" stop-color="#c00000"/>
<stop offset="0.9688" stop-color="#a00000"/>
<stop offset="1.0000" stop-color="#800000"/>
</linearGradient></defs>
<rect x="620.8" y="36.5" width="17.5" height="150.0" fill="url(#cbB)" stroke="#222" stroke-width="0.6"/>
<g font-family='"Liberation Sans", Arial, sans-serif' font-size="7.6" fill="#222">
<line x1="636.8" y1="186.5" x2="638.3" y2="186.5" stroke="#222" stroke-width="0.6"/>
<text x="641.5" y="189.2">0</text>
<line x1="636.8" y1="156.5" x2="638.3" y2="156.5" stroke="#222" stroke-width="0.6"/>
<text x="641.5" y="159.2">200</text>
<line x1="636.8" y1="126.5" x2="638.3" y2="126.5" stroke="#222" stroke-width="0.6"/>
<text x="641.5" y="129.2">400</text>
<line x1="636.8" y1="96.5" x2="638.3" y2="96.5" stroke="#222" stroke-width="0.6"/>
<text x="641.5" y="99.2">600</text>
<line x1="636.8" y1="66.5" x2="638.3" y2="66.5" stroke="#222" stroke-width="0.6"/>
<text x="641.5" y="69.2">800</text>
<line x1="636.8" y1="36.5" x2="638.3" y2="36.5" stroke="#222" stroke-width="0.6"/>
<text x="641.5" y="39.2">1000</text>
</g>
<text x="326.6" y="11.2" font-family='"Liberation Sans", Arial, sans-serif' font-size="12.6" font-weight="bold" fill="#111">b)</text>
<g id="map-c">
<clipPath id="clip-map-c"><rect x="38.7" y="279.5" width="240.1" height="145.1"/></clipPath>
<g clip-path="url(#clip-map-c)">
<rect x="38.7" y="279.5" width="240.1" height="145.1" fill="#000098"/>
<polygon points="102.7,397.9 106.1,395.2 110.6,392.1 115.2,389.1 119.7,386.1 122.7,382.3 125.5,380.2 128.0,374.2 130.2,368.2 131.1,362.6 134.0,356.9 140.7,353.0 148.4,350.7 158.0,348.8 167.6,347.7 177.2,347.7 186.8,349.2 194.5,347.3 200.2,343.4 206.0,339.6 208.4,334.5 216.1,329.8 223.7,326.9 231.4,324.0 238.1,319.2 243.9,315.0 248.7,313.1 253.5,313.8 257.3,317.3 259.3,322.1 257.3,327.8 253.5,332.6 247.7,337.4 242.9,340.3 239.1,345.1 236.2,350.9 234.3,357.6 235.3,365.3 234.3,372.9 231.4,378.7 227.6,375.8 224.7,372.0 221.8,375.8 220.9,380.6 218.0,384.5 213.2,386.4 212.0,391.0 209.0,395.0 206.0,399.0 204.0,402.5 201.0,405.0 197.0,406.5 192.0,407.0 187.0,409.0 183.0,410.5 179.0,409.5 175.8,408.8 169.7,410.3 163.6,412.6 158.3,415.6 155.3,418.6 152.3,420.9 147.7,417.9 143.2,414.1 137.9,411.1 131.8,408.8 124.2,407.0 116.7,404.2 109.1,401.2" fill="#0000ff" stroke="#000" stroke-width="0.62" stroke-linejoin="round"/>
<polygon points="112.9,395.9 115.2,392.9 118.9,389.1 122.0,385.3 124.2,381.5 126.0,380.6 128.5,374.6 130.6,368.8 132.1,361.7 135.0,356.9 141.7,353.4 149.3,351.5 158.9,349.6 168.5,348.4 177.2,348.4 186.8,350.2 195.4,348.2 201.2,344.4 201.7,341.3 209.3,336.1 217.0,331.7 224.7,328.4 231.8,325.9 238.7,320.7 244.5,316.3 248.7,314.6 252.9,315.4 256.0,318.2 257.3,322.6 255.4,327.8 251.6,332.2 246.4,336.1 241.0,337.4 235.3,336.5 231.4,338.4 228.5,343.2 227.6,349.9 226.6,355.7 222.8,359.5 218.0,363.3 213.2,367.2 208.4,372.0 204.5,376.8 206.0,382.5 203.0,386.0 200.0,389.5 196.0,392.0 193.0,395.0 191.0,398.5 187.0,401.5 183.0,404.0 179.0,403.0 174.0,404.5 171.2,404.2 165.2,405.8 159.1,408.0 153.0,411.1 148.5,412.6 143.9,411.1 139.4,408.0 134.8,405.0 128.8,402.7 122.7,401.2 116.7,398.9" fill="#0080ff" stroke="#000" stroke-width="0.62" stroke-linejoin="round"/>
<polygon points="117.4,393.6 119.7,389.8 122.7,386.1 125.0,382.3 126.5,381.0 129.0,375.0 131.0,369.3 131.5,362.6 134.6,358.4 141.7,354.6 150.3,352.3 159.9,350.3 169.5,349.2 177.2,349.2 186.8,351.1 196.4,349.2 202.1,345.4 203.6,343.2 209.3,341.8 215.1,343.2 220.9,345.1 222.2,348.0 219.5,351.4 216.1,353.7 213.8,357.6 209.3,360.5 205.5,364.3 201.7,369.1 197.8,375.8 195.9,380.6 197.0,380.0 195.5,381.5 191.7,386.1 187.1,390.6 181.8,394.4 175.8,397.4 169.7,399.4 163.6,401.2 157.6,402.7 151.5,405.8 147.0,407.6 142.4,405.8 137.9,402.7 133.3,399.7 127.3,397.9 121.2,395.9" fill="#00ffff" stroke="#000" stroke-width="0.62" stroke-linejoin="round"/>
<polygon points="231.4,327.8 236.2,324.0 242.0,319.2 246.8,316.3 250.6,315.7 252.9,319.2 253.5,325.0 250.6,330.3 245.8,333.6 241.0,334.9 236.2,332.6 232.4,330.3" fill="#00ffff" stroke="#000" stroke-width="0.62" stroke-linejoin="round"/>
<polygon points="121.2,391.4 122.7,387.6 125.0,383.8 126.5,380.8 127.0,381.4 129.5,375.4 131.4,369.8 130.7,365.5 133.0,360.7 136.9,357.8 142.6,355.5 151.3,353.2 160.9,351.3 170.5,350.2 179.1,350.7 186.8,352.6 194.5,354.0 200.2,355.0 204.0,356.9 203.1,360.7 200.2,364.5 199.3,369.3 196.4,373.2 192.5,378.0 190.9,380.0 188.6,383.8 184.1,388.3 178.8,392.1 172.7,395.2 166.7,396.7 160.6,397.9 154.5,400.5 149.2,403.0 144.7,402.7 140.2,399.7 135.6,397.0 130.3,395.2 125.0,393.6" fill="#00ff64" stroke="#000" stroke-width="0.62" stroke-linejoin="round"/>
<polygon points="124.2,388.3 125.8,384.5 127.3,381.5 127.8,381.8 130.2,375.8 132.0,370.3 130.7,370.3 132.1,364.5 135.0,360.3 140.7,357.4 148.4,355.0 158.0,353.4 167.6,352.1 177.2,352.1 184.9,354.0 192.5,355.9 197.3,358.8 198.3,363.6 196.4,368.4 193.5,373.2 190.6,378.0 185.6,380.0 184.1,382.3 180.3,386.1 175.8,389.1 169.7,391.4 163.6,392.9 157.6,393.6 151.5,395.9 145.5,396.4 140.9,395.2 137.1,392.9 132.6,392.1 128.0,390.6" fill="#ffff00" stroke="#000" stroke-width="0.62" stroke-linejoin="round"/>
<polygon points="128.8,380.0 130.8,379.2 134.2,373.3 131.1,373.2 132.6,367.4 135.9,362.6 141.7,358.8 149.3,356.5 154.5,356.2 159.1,355.3 163.6,355.3 168.2,356.0 173.6,356.9 179.1,357.1 183.6,357.5 186.4,358.5 188.6,360.3 190.0,363.0 189.5,366.2 188.2,369.4 186.4,372.1 184.5,374.4 183.2,376.6 182.2,379.0 181.1,380.8 177.3,384.5 172.7,386.8 168.2,387.6 163.6,385.3 159.1,384.5 153.0,385.3 148.5,383.8 143.9,381.5 139.4,380.8 136.4,382.3 134.1,384.5 130.3,383.0" fill="#ff8000" stroke="#000" stroke-width="0.62" stroke-linejoin="round"/>
<polygon points="135.7,371.6 137.4,369.5 140.8,367.8 143.0,364.8 145.1,362.7 147.7,360.5 151.1,359.3 155.0,359.6 157.3,359.4 160.9,359.8 164.5,358.9 168.2,359.4 171.8,359.8 175.5,359.4 179.1,359.4 182.3,360.3 184.1,362.5 184.4,365.7 183.2,368.9 181.4,371.6 179.1,373.9 177.3,375.3 176.0,378.5 174.0,381.5 171.0,383.0 169.8,380.5 169.5,378.0 169.1,375.3 168.2,372.1 166.4,369.8 163.6,369.4 160.0,370.7 157.3,372.1 153.6,372.4 151.9,374.6 148.5,374.4 145.1,375.9 141.7,376.7 138.7,375.5 135.7,374.6" fill="#ff0000" stroke="#000" stroke-width="0.62" stroke-linejoin="round"/>
<polygon points="145.5,369.1 146.8,366.5 149.4,363.9 151.9,362.5 154.0,362.3 155.5,363.5 156.8,365.7 155.9,368.5 153.2,370.0 150.0,370.8 148.0,371.3 146.0,371.2" fill="#800000" stroke="#000" stroke-width="0.62" stroke-linejoin="round"/>
<polygon points="35.0,428.0 42.3,422.1 44.7,418.3 48.7,414.3 52.7,409.4 55.1,408.1 57.5,406.2 59.2,403.8 57.7,401.4 59.2,399.0 63.2,395.8 67.2,394.2 73.7,391.9 81.7,389.5 88.2,386.9 93.0,383.1 99.5,379.8 105.9,377.2 110.7,374.0 115.5,371.2 118.8,368.8 120.3,366.9 119.0,363.5 115.4,361.3 117.9,358.9 114.0,357.1 112.3,353.1 110.9,348.2 110.1,344.2 110.9,340.0 114.2,335.4 117.2,332.3 120.2,329.6 123.9,328.4 126.8,325.3 130.7,324.0 134.5,321.7 141.3,321.3 145.2,323.6 149.0,326.3 153.9,325.9 158.7,326.9 165.5,329.4 168.4,333.3 173.2,333.6 177.1,334.4 182.9,336.2 187.7,336.9 192.5,336.2 197.3,331.5 200.2,328.4 202.2,324.9 206.0,322.0 208.9,319.7 214.7,318.2 221.8,315.9 226.3,313.0 231.5,311.0 235.0,308.1 237.9,305.4 240.8,301.9 244.4,299.0 247.6,297.7 250.8,297.1 255.3,298.1 260.4,299.9 265.0,301.9 270.1,304.7 273.7,306.4 277.5,307.5 282.4,307.2 282.4,273.3 35.0,273.3" fill="#a4a4a4" stroke="#1a1a1a" stroke-width="0.5" stroke-linejoin="round"/>
<polygon points="264.5,337.8 266.1,341.0 265.7,347.5 268.6,352.3 269.3,358.7 268.6,365.9 266.9,373.2 264.5,379.7 260.4,384.5 257.3,382.8 253.2,379.7 250.8,377.2 251.6,374.8 248.4,372.4 249.2,370.0 245.9,368.3 246.8,365.9 245.2,363.5 245.9,361.1 244.4,357.9 246.8,355.5 249.2,353.1 252.4,350.7 257.3,349.0 261.3,347.5 262.9,344.2 263.3,340.2" fill="#a4a4a4" stroke="#1a1a1a" stroke-width="0.5" stroke-linejoin="round"/>
<polygon points="242.8,428.0 242.8,421.9 241.1,416.7 239.6,411.8 237.9,408.7 234.7,406.2 235.5,402.2 234.7,399.8 236.2,398.3 235.6,395.3 236.6,393.8 237.5,394.7 237.7,396.7 239.6,396.5 242.8,396.6 249.2,394.9 254.1,393.4 258.0,391.0 261.3,388.5 265.3,390.1 266.9,392.5 270.1,394.2 271.7,398.2 271.0,402.2 273.4,407.0 274.2,411.8 272.5,415.9 270.1,418.3 271.0,421.9 271.0,428.0" fill="#a4a4a4" stroke="#1a1a1a" stroke-width="0.5" stroke-linejoin="round"/>
<polyline points="42.5,354.8 43.9,358.4 45.3,361.3 46.1,363.3" fill="none" stroke="#111" stroke-width="0.9"/>
<polyline points="59.0,368.2 60.1,364.2 62.4,359.6" fill="none" stroke="#111" stroke-width="0.9"/>
<polyline points="77.0,366.8 78.5,367.1" fill="none" stroke="#111" stroke-width="0.9"/>
<polyline points="95.9,367.0 97.8,367.4 99.6,366.8" fill="none" stroke="#111" stroke-width="0.9"/>
<polyline points="41.3,388.4 42.3,385.9 44.2,385.6 45.7,386.4" fill="none" stroke="#111" stroke-width="0.9"/>
<polyline points="48.6,388.8 51.9,389.1" fill="none" stroke="#111" stroke-width="0.9"/>
<polyline points="189.1,295.2 191.6,293.8 194.0,293.1" fill="none" stroke="#111" stroke-width="0.9"/>
<polyline points="254.8,403.3 255.6,401.9" fill="none" stroke="#111" stroke-width="0.9"/>
<polyline points="139.4,320.3 141.3,319.5 143.7,320.5" fill="none" stroke="#111" stroke-width="0.9"/>
<polyline points="124.7,326.3 126.3,325.1 127.6,325.3" fill="none" stroke="#111" stroke-width="0.9"/>
<polyline points="149.0,326.0 151.5,327.3 153.9,326.7 156.3,327.7 158.2,326.9" fill="none" stroke="#111" stroke-width="0.9"/>
<polyline points="186.5,337.9 189.1,338.3 192.0,337.7" fill="none" stroke="#111" stroke-width="0.9"/>
<polyline points="274.1,336.9 275.0,337.5" fill="none" stroke="#111" stroke-width="0.9"/>
<polyline points="261.7,387.0 263.4,388.0 264.6,387.6" fill="none" stroke="#111" stroke-width="0.9"/>
<g stroke="#222" stroke-width="0.7" stroke-dasharray="0.8 1.9">
<line x1="86.7" y1="279.5" x2="86.7" y2="424.6"/>
<line x1="134.7" y1="279.5" x2="134.7" y2="424.6"/>
<line x1="182.8" y1="279.5" x2="182.8" y2="424.6"/>
<line x1="230.8" y1="279.5" x2="230.8" y2="424.6"/>
<line x1="38.7" y1="395.7" x2="278.8" y2="395.7"/>
<line x1="38.7" y1="366.8" x2="278.8" y2="366.8"/>
<line x1="38.7" y1="337.9" x2="278.8" y2="337.9"/>
<line x1="38.7" y1="309.0" x2="278.8" y2="309.0"/>
</g>
</g>
<g stroke="#000" stroke-width="0.6">
<rect x="38.7" y="279.5" width="24.0" height="2.7" fill="#ebebeb"/>
<rect x="38.7" y="421.9" width="24.0" height="2.7" fill="#000"/>
<rect x="62.7" y="279.5" width="24.0" height="2.7" fill="#000"/>
<rect x="62.7" y="421.9" width="24.0" height="2.7" fill="#ebebeb"/>
<rect x="86.7" y="279.5" width="24.0" height="2.7" fill="#ebebeb"/>
<rect x="86.7" y="421.9" width="24.0" height="2.7" fill="#000"/>
<rect x="110.7" y="279.5" width="24.0" height="2.7" fill="#000"/>
<rect x="110.7" y="421.9" width="24.0" height="2.7" fill="#ebebeb"/>
<rect x="134.7" y="279.5" width="24.0" height="2.7" fill="#ebebeb"/>
<rect x="134.7" y="421.9" width="24.0" height="2.7" fill="#000"/>
<rect x="158.8" y="279.5" width="24.0" height="2.7" fill="#000"/>
<rect x="158.8" y="421.9" width="24.0" height="2.7" fill="#ebebeb"/>
<rect x="182.8" y="279.5" width="24.0" height="2.7" fill="#ebebeb"/>
<rect x="182.8" y="421.9" width="24.0" height="2.7" fill="#000"/>
<rect x="206.8" y="279.5" width="24.0" height="2.7" fill="#000"/>
<rect x="206.8" y="421.9" width="24.0" height="2.7" fill="#ebebeb"/>
<rect x="230.8" y="279.5" width="24.0" height="2.7" fill="#ebebeb"/>
<rect x="230.8" y="421.9" width="24.0" height="2.7" fill="#000"/>
<rect x="254.8" y="279.5" width="24.0" height="2.7" fill="#000"/>
<rect x="254.8" y="421.9" width="24.0" height="2.7" fill="#ebebeb"/>
<rect x="38.7" y="279.5" width="2.7" height="15.1" fill="#ebebeb"/>
<rect x="276.1" y="279.5" width="2.7" height="15.1" fill="#000"/>
<rect x="38.7" y="294.6" width="2.7" height="14.4" fill="#000"/>
<rect x="276.1" y="294.6" width="2.7" height="14.4" fill="#ebebeb"/>
<rect x="38.7" y="309.0" width="2.7" height="14.5" fill="#ebebeb"/>
<rect x="276.1" y="309.0" width="2.7" height="14.5" fill="#000"/>
<rect x="38.7" y="323.5" width="2.7" height="14.4" fill="#000"/>
<rect x="276.1" y="323.5" width="2.7" height="14.4" fill="#ebebeb"/>
<rect x="38.7" y="337.9" width="2.7" height="14.4" fill="#ebebeb"/>
<rect x="276.1" y="337.9" width="2.7" height="14.4" fill="#000"/>
<rect x="38.7" y="352.4" width="2.7" height="14.4" fill="#000"/>
<rect x="276.1" y="352.4" width="2.7" height="14.4" fill="#ebebeb"/>
<rect x="38.7" y="366.8" width="2.7" height="14.4" fill="#ebebeb"/>
<rect x="276.1" y="366.8" width="2.7" height="14.4" fill="#000"/>
<rect x="38.7" y="381.2" width="2.7" height="14.5" fill="#000"/>
<rect x="276.1" y="381.2" width="2.7" height="14.5" fill="#ebebeb"/>
<rect x="38.7" y="395.7" width="2.7" height="14.4" fill="#ebebeb"/>
<rect x="276.1" y="395.7" width="2.7" height="14.4" fill="#000"/>
<rect x="38.7" y="410.1" width="2.7" height="14.5" fill="#000"/>
<rect x="276.1" y="410.1" width="2.7" height="14.5" fill="#ebebeb"/>
</g>
<g font-family='"Liberation Sans", Arial, sans-serif' font-size="8.6" fill="#222">
<text x="35.7" y="427.9" text-anchor="end">40<tspan dy="-3" font-size="6.9">o</tspan><tspan dy="3">N</tspan></text>
<text x="35.7" y="399.0" text-anchor="end">41<tspan dy="-3" font-size="6.9">o</tspan><tspan dy="3">N</tspan></text>
<text x="35.7" y="370.1" text-anchor="end">42<tspan dy="-3" font-size="6.9">o</tspan><tspan dy="3">N</tspan></text>
<text x="35.7" y="341.2" text-anchor="end">43<tspan dy="-3" font-size="6.9">o</tspan><tspan dy="3">N</tspan></text>
<text x="35.7" y="312.3" text-anchor="end">44<tspan dy="-3" font-size="6.9">o</tspan><tspan dy="3">N</tspan></text>
<text x="35.7" y="283.4" text-anchor="end">45<tspan dy="-3" font-size="6.9">o</tspan><tspan dy="3">N</tspan></text>
<text x="39.1" y="434.8" text-anchor="middle">0<tspan dy="-3" font-size="6.9">o</tspan></text>
<text x="88.2" y="434.8" text-anchor="middle">2<tspan dy="-3" font-size="6.9">o</tspan><tspan dy="3">E</tspan></text>
<text x="136.2" y="434.8" text-anchor="middle">4<tspan dy="-3" font-size="6.9">o</tspan><tspan dy="3">E</tspan></text>
<text x="184.3" y="434.8" text-anchor="middle">6<tspan dy="-3" font-size="6.9">o</tspan><tspan dy="3">E</tspan></text>
<text x="232.3" y="434.8" text-anchor="middle">8<tspan dy="-3" font-size="6.9">o</tspan><tspan dy="3">E</tspan></text>
<text x="280.3" y="434.8" text-anchor="middle">10<tspan dy="-3" font-size="6.9">o</tspan><tspan dy="3">E</tspan></text>
</g>
<text x="158.5" y="273.9" text-anchor="middle" font-family='"Liberation Sans", Arial, sans-serif' font-size="9.4" font-weight="bold" fill="#111">Accumulated number of days with MLD&gt;1000m</text>
</g>
<defs><linearGradient id="cbC" x1="0" y1="1" x2="0" y2="0">
<stop offset="0.0000" stop-color="#00008f"/>
<stop offset="0.0312" stop-color="#0000ab"/>
<stop offset="0.0625" stop-color="#0000c7"/>
<stop offset="0.0938" stop-color="#0000e3"/>
<stop offset="0.1250" stop-color="#0000ff"/>
<stop offset="0.1562" stop-color="#0020ff"/>
<stop offset="0.1875" stop-color="#0040ff"/>
<stop offset="0.2188" stop-color="#0060ff"/>
<stop offset="0.2500" stop-color="#0080ff"/>
<stop offset="0.2812" stop-color="#009fff"/>
<stop offset="0.3125" stop-color="#00bfff"/>
<stop offset="0.3438" stop-color="#00dfff"/>
<stop offset="0.3750" stop-color="#00ffff"/>
<stop offset="0.4062" stop-color="#00ffd8"/>
<stop offset="0.4375" stop-color="#00ffb2"/>
<stop offset="0.4688" stop-color="#00ff8b"/>
<stop offset="0.5000" stop-color="#00ff64"/>
<stop offset="0.5312" stop-color="#51ff26"/>
<stop offset="0.5625" stop-color="#a0ff00"/>
<stop offset="0.5938" stop-color="#ebff00"/>
<stop offset="0.6250" stop-color="#ffff00"/>
<stop offset="0.6562" stop-color="#ffdf00"/>
<stop offset="0.6875" stop-color="#ffbf00"/>
<stop offset="0.7188" stop-color="#ff9f00"/>
<stop offset="0.7500" stop-color="#ff8000"/>
<stop offset="0.7812" stop-color="#ff6000"/>
<stop offset="0.8125" stop-color="#ff4000"/>
<stop offset="0.8438" stop-color="#ff2000"/>
<stop offset="0.8750" stop-color="#ff0000"/>
<stop offset="0.9062" stop-color="#df0000"/>
<stop offset="0.9375" stop-color="#c00000"/>
<stop offset="0.9688" stop-color="#a00000"/>
<stop offset="1.0000" stop-color="#800000"/>
</linearGradient></defs>
<rect x="287.0" y="279.5" width="16.8" height="145.0" fill="url(#cbC)" stroke="#222" stroke-width="0.6"/>
<g font-family='"Liberation Sans", Arial, sans-serif' font-size="7.4" fill="#222">
<line x1="302.3" y1="424.5" x2="303.8" y2="424.5" stroke="#222" stroke-width="0.6"/>
<text x="307.0" y="427.2">0</text>
<line x1="302.3" y1="406.4" x2="303.8" y2="406.4" stroke="#222" stroke-width="0.6"/>
<text x="307.0" y="409.0">100</text>
<line x1="302.3" y1="388.2" x2="303.8" y2="388.2" stroke="#222" stroke-width="0.6"/>
<text x="307.0" y="390.9">200</text>
<line x1="302.3" y1="370.1" x2="303.8" y2="370.1" stroke="#222" stroke-width="0.6"/>
<text x="307.0" y="372.8">300</text>
<line x1="302.3" y1="352.0" x2="303.8" y2="352.0" stroke="#222" stroke-width="0.6"/>
<text x="307.0" y="354.7">400</text>
<line x1="302.3" y1="333.9" x2="303.8" y2="333.9" stroke="#222" stroke-width="0.6"/>
<text x="307.0" y="336.5">500</text>
<line x1="302.3" y1="315.8" x2="303.8" y2="315.8" stroke="#222" stroke-width="0.6"/>
<text x="307.0" y="318.4">600</text>
<line x1="302.3" y1="297.6" x2="303.8" y2="297.6" stroke="#222" stroke-width="0.6"/>
<text x="307.0" y="300.3">700</text>
<line x1="302.3" y1="279.5" x2="303.8" y2="279.5" stroke="#222" stroke-width="0.6"/>
<text x="307.0" y="282.2">800</text>
</g>
<text x="7.5" y="258.5" font-family='"Liberation Sans", Arial, sans-serif' font-size="12.6" font-weight="bold" fill="#111">c)</text>
<g id="panel-d">
<g fill="#000">
<circle cx="448.0" cy="407.6" r="2.6"/>
<circle cx="509.2" cy="387.7" r="2.6"/>
<circle cx="455.2" cy="404.9" r="2.6"/>
<circle cx="413.2" cy="416.8" r="2.6"/>
<circle cx="471.0" cy="392.4" r="2.6"/>
<circle cx="401.5" cy="421.6" r="2.6"/>
<circle cx="401.1" cy="416.5" r="2.6"/>
<circle cx="479.2" cy="418.2" r="2.6"/>
<circle cx="516.7" cy="365.4" r="2.6"/>
<circle cx="474.1" cy="398.2" r="2.6"/>
<circle cx="409.7" cy="424.5" r="2.6"/>
<circle cx="457.8" cy="422.7" r="2.6"/>
<circle cx="414.0" cy="420.9" r="2.6"/>
<circle cx="393.2" cy="421.6" r="2.6"/>
<circle cx="446.4" cy="399.5" r="2.6"/>
<circle cx="456.6" cy="402.7" r="2.6"/>
<circle cx="454.1" cy="402.6" r="2.6"/>
<circle cx="448.6" cy="416.1" r="2.6"/>
<circle cx="518.7" cy="363.3" r="2.6"/>
<circle cx="498.3" cy="382.8" r="2.6"/>
<circle cx="430.2" cy="419.5" r="2.6"/>
<circle cx="426.8" cy="423.2" r="2.6"/>
<circle cx="488.7" cy="398.8" r="2.6"/>
<circle cx="499.1" cy="394.3" r="2.6"/>
<circle cx="513.6" cy="371.3" r="2.6"/>
<circle cx="389.4" cy="423.7" r="2.6"/>
<circle cx="507.4" cy="388.2" r="2.6"/>
<circle cx="516.5" cy="387.6" r="2.6"/>
<circle cx="398.8" cy="419.0" r="2.6"/>
<circle cx="490.3" cy="402.8" r="2.6"/>
<circle cx="400.6" cy="421.4" r="2.6"/>
<circle cx="514.3" cy="374.4" r="2.6"/>
<circle cx="404.6" cy="421.9" r="2.6"/>
<circle cx="402.4" cy="424.1" r="2.6"/>
<circle cx="492.7" cy="404.8" r="2.6"/>
<circle cx="461.8" cy="408.3" r="2.6"/>
<circle cx="414.0" cy="413.2" r="2.6"/>
<circle cx="406.3" cy="416.8" r="2.6"/>
<circle cx="404.4" cy="419.9" r="2.6"/>
<circle cx="416.9" cy="420.1" r="2.6"/>
<circle cx="515.2" cy="372.3" r="2.6"/>
<circle cx="428.7" cy="405.1" r="2.6"/>
<circle cx="416.6" cy="418.1" r="2.6"/>
<circle cx="500.1" cy="384.5" r="2.6"/>
<circle cx="402.3" cy="414.2" r="2.6"/>
<circle cx="416.9" cy="420.3" r="2.6"/>
<circle cx="489.5" cy="401.0" r="2.6"/>
<circle cx="427.7" cy="423.1" r="2.6"/>
<circle cx="401.0" cy="418.9" r="2.6"/>
<circle cx="420.8" cy="413.5" r="2.6"/>
<circle cx="437.5" cy="412.9" r="2.6"/>
<circle cx="513.7" cy="385.3" r="2.6"/>
<circle cx="463.8" cy="392.2" r="2.6"/>
<circle cx="413.0" cy="422.4" r="2.6"/>
<circle cx="507.1" cy="375.1" r="2.6"/>
<circle cx="421.7" cy="421.1" r="2.6"/>
<circle cx="485.2" cy="380.1" r="2.6"/>
<circle cx="414.8" cy="409.4" r="2.6"/>
<circle cx="503.7" cy="384.5" r="2.6"/>
<circle cx="444.0" cy="421.7" r="2.6"/>
<circle cx="394.3" cy="417.8" r="2.6"/>
<circle cx="420.2" cy="411.7" r="2.6"/>
<circle cx="422.6" cy="408.6" r="2.6"/>
<circle cx="466.7" cy="413.3" r="2.6"/>
<circle cx="412.0" cy="414.0" r="2.6"/>
<circle cx="398.2" cy="422.7" r="2.6"/>
<circle cx="461.8" cy="393.4" r="2.6"/>
<circle cx="469.0" cy="413.6" r="2.6"/>
<circle cx="508.3" cy="397.9" r="2.6"/>
<circle cx="391.4" cy="423.2" r="2.6"/>
<circle cx="447.1" cy="422.9" r="2.6"/>
<circle cx="412.2" cy="419.2" r="2.6"/>
<circle cx="463.5" cy="419.8" r="2.6"/>
<circle cx="436.3" cy="402.0" r="2.6"/>
<circle cx="516.5" cy="377.5" r="2.6"/>
<circle cx="478.9" cy="396.9" r="2.6"/>
<circle cx="407.5" cy="424.3" r="2.6"/>
<circle cx="391.6" cy="419.3" r="2.6"/>
<circle cx="480.2" cy="381.4" r="2.6"/>
<circle cx="392.0" cy="420.8" r="2.6"/>
<circle cx="451.8" cy="401.1" r="2.6"/>
<circle cx="430.7" cy="401.7" r="2.6"/>
<circle cx="399.1" cy="419.7" r="2.6"/>
<circle cx="484.9" cy="381.7" r="2.6"/>
<circle cx="484.9" cy="389.3" r="2.6"/>
<circle cx="492.2" cy="377.9" r="2.6"/>
<circle cx="434.9" cy="407.6" r="2.6"/>
<circle cx="506.1" cy="373.5" r="2.6"/>
<circle cx="443.4" cy="402.1" r="2.6"/>
<circle cx="501.3" cy="386.6" r="2.6"/>
<circle cx="470.4" cy="409.3" r="2.6"/>
<circle cx="464.9" cy="401.6" r="2.6"/>
<circle cx="399.7" cy="418.6" r="2.6"/>
<circle cx="518.1" cy="368.1" r="2.6"/>
<circle cx="483.7" cy="402.0" r="2.6"/>
<circle cx="484.6" cy="394.1" r="2.6"/>
<circle cx="446.4" cy="399.6" r="2.6"/>
<circle cx="400.2" cy="417.4" r="2.6"/>
<circle cx="393.2" cy="420.7" r="2.6"/>
<circle cx="451.7" cy="417.3" r="2.6"/>
<circle cx="479.9" cy="399.9" r="2.6"/>
<circle cx="469.0" cy="388.0" r="2.6"/>
<circle cx="422.5" cy="424.5" r="2.6"/>
<circle cx="428.3" cy="409.8" r="2.6"/>
<circle cx="415.6" cy="422.0" r="2.6"/>
<circle cx="506.8" cy="381.2" r="2.6"/>
<circle cx="446.6" cy="397.9" r="2.6"/>
<circle cx="431.7" cy="409.1" r="2.6"/>
<circle cx="415.0" cy="417.7" r="2.6"/>
<circle cx="493.8" cy="377.1" r="2.6"/>
<circle cx="503.5" cy="392.8" r="2.6"/>
<circle cx="464.9" cy="412.7" r="2.6"/>
<circle cx="407.0" cy="418.4" r="2.6"/>
<circle cx="497.9" cy="377.8" r="2.6"/>
<circle cx="481.5" cy="381.3" r="2.6"/>
<circle cx="425.2" cy="421.2" r="2.6"/>
<circle cx="447.7" cy="416.3" r="2.6"/>
<circle cx="417.1" cy="417.7" r="2.6"/>
<circle cx="470.5" cy="404.7" r="2.6"/>
<circle cx="430.2" cy="405.5" r="2.6"/>
<circle cx="516.7" cy="385.4" r="2.6"/>
<circle cx="399.0" cy="424.5" r="2.6"/>
<circle cx="502.5" cy="406.0" r="2.6"/>
<circle cx="481.2" cy="396.3" r="2.6"/>
<circle cx="429.4" cy="406.9" r="2.6"/>
<circle cx="391.8" cy="423.9" r="2.6"/>
<circle cx="448.3" cy="424.0" r="2.6"/>
<circle cx="496.9" cy="400.6" r="2.6"/>
<circle cx="407.6" cy="424.1" r="2.6"/>
<circle cx="470.9" cy="406.6" r="2.6"/>
<circle cx="471.0" cy="398.1" r="2.6"/>
<circle cx="494.0" cy="375.4" r="2.6"/>
<circle cx="478.1" cy="412.7" r="2.6"/>
<circle cx="450.9" cy="419.0" r="2.6"/>
<circle cx="390.7" cy="422.1" r="2.6"/>
<circle cx="481.9" cy="411.2" r="2.6"/>
<circle cx="424.6" cy="417.7" r="2.6"/>
<circle cx="479.7" cy="399.0" r="2.6"/>
<circle cx="469.0" cy="394.6" r="2.6"/>
<circle cx="440.3" cy="403.1" r="2.6"/>
<circle cx="506.8" cy="402.9" r="2.6"/>
<circle cx="510.3" cy="377.4" r="2.6"/>
<circle cx="406.1" cy="419.1" r="2.6"/>
<circle cx="470.4" cy="387.9" r="2.6"/>
<circle cx="438.2" cy="409.7" r="2.6"/>
<circle cx="503.3" cy="377.4" r="2.6"/>
<circle cx="511.8" cy="386.8" r="2.6"/>
<circle cx="473.8" cy="415.0" r="2.6"/>
<circle cx="482.9" cy="385.8" r="2.6"/>
<circle cx="472.5" cy="394.8" r="2.6"/>
<circle cx="417.0" cy="409.4" r="2.6"/>
<circle cx="516.5" cy="365.0" r="2.6"/>
<circle cx="458.9" cy="396.7" r="2.6"/>
<circle cx="430.8" cy="403.7" r="2.6"/>
<circle cx="500.3" cy="395.3" r="2.6"/>
<circle cx="400.0" cy="420.5" r="2.6"/>
<circle cx="460.7" cy="396.9" r="2.6"/>
<circle cx="452.5" cy="423.8" r="2.6"/>
<circle cx="494.2" cy="408.1" r="2.6"/>
<circle cx="493.0" cy="404.8" r="2.6"/>
<circle cx="432.7" cy="405.8" r="2.6"/>
<circle cx="407.5" cy="422.8" r="2.6"/>
<circle cx="456.3" cy="399.9" r="2.6"/>
<circle cx="498.2" cy="383.5" r="2.6"/>
<circle cx="512.0" cy="385.6" r="2.6"/>
<circle cx="512.4" cy="401.1" r="2.6"/>
<circle cx="418.0" cy="415.5" r="2.6"/>
<circle cx="426.9" cy="409.1" r="2.6"/>
<circle cx="472.2" cy="403.0" r="2.6"/>
<circle cx="498.7" cy="388.1" r="2.6"/>
<circle cx="429.7" cy="416.1" r="2.6"/>
<circle cx="498.9" cy="375.4" r="2.6"/>
<circle cx="416.3" cy="410.4" r="2.6"/>
<circle cx="514.9" cy="383.3" r="2.6"/>
<circle cx="463.6" cy="417.2" r="2.6"/>
<circle cx="458.8" cy="406.9" r="2.6"/>
<circle cx="467.8" cy="423.7" r="2.6"/>
<circle cx="515.0" cy="383.5" r="2.6"/>
<circle cx="441.2" cy="402.5" r="2.6"/>
<circle cx="462.3" cy="406.6" r="2.6"/>
<circle cx="478.9" cy="417.4" r="2.6"/>
<circle cx="459.2" cy="410.0" r="2.6"/>
<circle cx="513.4" cy="368.4" r="2.6"/>
<circle cx="424.2" cy="415.2" r="2.6"/>
<circle cx="405.8" cy="419.5" r="2.6"/>
<circle cx="495.1" cy="377.1" r="2.6"/>
<circle cx="451.1" cy="414.6" r="2.6"/>
<circle cx="414.1" cy="414.9" r="2.6"/>
<circle cx="509.3" cy="400.4" r="2.6"/>
<circle cx="490.4" cy="412.0" r="2.6"/>
<circle cx="414.5" cy="421.1" r="2.6"/>
<circle cx="478.4" cy="407.6" r="2.6"/>
<circle cx="435.4" cy="409.2" r="2.6"/>
<circle cx="402.9" cy="416.7" r="2.6"/>
<circle cx="405.2" cy="418.6" r="2.6"/>
<circle cx="421.8" cy="421.0" r="2.6"/>
<circle cx="458.1" cy="409.4" r="2.6"/>
<circle cx="438.0" cy="413.9" r="2.6"/>
<circle cx="458.0" cy="419.2" r="2.6"/>
<circle cx="415.8" cy="414.3" r="2.6"/>
<circle cx="472.1" cy="402.7" r="2.6"/>
<circle cx="499.7" cy="385.8" r="2.6"/>
<circle cx="500.4" cy="399.6" r="2.6"/>
<circle cx="485.4" cy="385.0" r="2.6"/>
<circle cx="506.4" cy="394.4" r="2.6"/>
<circle cx="430.1" cy="403.6" r="2.6"/>
<circle cx="417.6" cy="407.4" r="2.6"/>
<circle cx="504.4" cy="401.9" r="2.6"/>
<circle cx="420.3" cy="411.3" r="2.6"/>
<circle cx="422.9" cy="422.8" r="2.6"/>
<circle cx="497.2" cy="393.7" r="2.6"/>
<circle cx="491.8" cy="407.3" r="2.6"/>
<circle cx="441.5" cy="405.7" r="2.6"/>
<circle cx="391.6" cy="423.5" r="2.6"/>
<circle cx="477.8" cy="384.5" r="2.6"/>
<circle cx="514.9" cy="399.1" r="2.6"/>
<circle cx="454.9" cy="399.2" r="2.6"/>
<circle cx="454.5" cy="401.8" r="2.6"/>
<circle cx="413.8" cy="423.6" r="2.6"/>
<circle cx="403.1" cy="424.3" r="2.6"/>
<circle cx="460.8" cy="406.1" r="2.6"/>
<circle cx="463.1" cy="419.3" r="2.6"/>
<circle cx="413.2" cy="421.6" r="2.6"/>
<circle cx="498.3" cy="372.4" r="2.6"/>
<circle cx="509.5" cy="401.7" r="2.6"/>
<circle cx="397.3" cy="416.7" r="2.6"/>
<circle cx="449.2" cy="400.9" r="2.6"/>
<circle cx="431.7" cy="413.8" r="2.6"/>
<circle cx="456.1" cy="410.0" r="2.6"/>
<circle cx="467.2" cy="424.2" r="2.6"/>
<circle cx="480.2" cy="386.1" r="2.6"/>
<circle cx="412.8" cy="417.8" r="2.6"/>
<circle cx="485.2" cy="400.6" r="2.6"/>
<circle cx="414.6" cy="422.1" r="2.6"/>
<circle cx="455.8" cy="424.2" r="2.6"/>
<circle cx="505.1" cy="376.5" r="2.6"/>
<circle cx="480.7" cy="385.2" r="2.6"/>
<circle cx="470.9" cy="408.3" r="2.6"/>
<circle cx="467.1" cy="405.1" r="2.6"/>
<circle cx="516.8" cy="371.6" r="2.6"/>
<circle cx="422.8" cy="406.8" r="2.6"/>
<circle cx="485.9" cy="386.0" r="2.6"/>
<circle cx="495.0" cy="395.2" r="2.6"/>
<circle cx="505.6" cy="373.4" r="2.6"/>
<circle cx="479.4" cy="389.5" r="2.6"/>
<circle cx="488.5" cy="398.7" r="2.6"/>
<circle cx="483.0" cy="414.7" r="2.6"/>
<circle cx="433.6" cy="413.3" r="2.6"/>
<circle cx="390.7" cy="422.8" r="2.6"/>
<circle cx="472.1" cy="398.8" r="2.6"/>
<circle cx="419.4" cy="407.6" r="2.6"/>
<circle cx="475.7" cy="408.5" r="2.6"/>
<circle cx="474.9" cy="399.6" r="2.6"/>
<circle cx="458.4" cy="411.0" r="2.6"/>
<circle cx="519.0" cy="377.1" r="2.6"/>
<circle cx="480.2" cy="389.3" r="2.6"/>
<circle cx="516.4" cy="402.3" r="2.6"/>
<circle cx="469.1" cy="395.3" r="2.6"/>
<circle cx="422.6" cy="416.9" r="2.6"/>
<circle cx="395.8" cy="423.2" r="2.6"/>
<circle cx="438.0" cy="422.2" r="2.6"/>
<circle cx="421.8" cy="407.3" r="2.6"/>
<circle cx="460.6" cy="406.4" r="2.6"/>
<circle cx="514.7" cy="381.6" r="2.6"/>
<circle cx="518.4" cy="377.5" r="2.6"/>
<circle cx="494.3" cy="407.6" r="2.6"/>
<circle cx="466.8" cy="395.2" r="2.6"/>
<circle cx="395.1" cy="417.7" r="2.6"/>
<circle cx="410.0" cy="418.1" r="2.6"/>
<circle cx="411.2" cy="417.5" r="2.6"/>
<circle cx="468.6" cy="422.4" r="2.6"/>
<circle cx="511.9" cy="388.4" r="2.6"/>
<circle cx="457.6" cy="403.9" r="2.6"/>
<circle cx="436.7" cy="417.4" r="2.6"/>
<circle cx="474.3" cy="400.3" r="2.6"/>
<circle cx="426.1" cy="409.6" r="2.6"/>
<circle cx="427.7" cy="424.4" r="2.6"/>
<circle cx="421.1" cy="423.9" r="2.6"/>
<circle cx="409.6" cy="414.3" r="2.6"/>
<circle cx="439.9" cy="400.4" r="2.6"/>
<circle cx="486.4" cy="413.4" r="2.6"/>
<circle cx="517.5" cy="365.8" r="2.6"/>
<circle cx="398.8" cy="416.5" r="2.6"/>
<circle cx="445.0" cy="410.7" r="2.6"/>
<circle cx="515.5" cy="393.9" r="2.6"/>
<circle cx="457.2" cy="392.2" r="2.6"/>
<circle cx="483.0" cy="399.3" r="2.6"/>
<circle cx="516.3" cy="371.3" r="2.6"/>
<circle cx="467.6" cy="420.2" r="2.6"/>
<circle cx="470.3" cy="406.3" r="2.6"/>
<circle cx="415.7" cy="423.9" r="2.6"/>
<circle cx="457.8" cy="420.4" r="2.6"/>
<circle cx="446.7" cy="404.6" r="2.6"/>
<circle cx="448.4" cy="416.7" r="2.6"/>
<circle cx="464.8" cy="408.8" r="2.6"/>
<circle cx="490.2" cy="393.1" r="2.6"/>
<circle cx="518.7" cy="365.0" r="2.6"/>
<circle cx="484.5" cy="407.3" r="2.6"/>
<circle cx="404.1" cy="414.5" r="2.6"/>
<circle cx="491.0" cy="389.2" r="2.6"/>
<circle cx="435.9" cy="417.9" r="2.6"/>
<circle cx="478.1" cy="398.1" r="2.6"/>
<circle cx="466.0" cy="400.3" r="2.6"/>
<circle cx="487.0" cy="407.7" r="2.6"/>
<circle cx="421.6" cy="406.0" r="2.6"/>
<circle cx="508.1" cy="372.4" r="2.6"/>
<circle cx="394.4" cy="424.3" r="2.6"/>
<circle cx="424.4" cy="416.1" r="2.6"/>
<circle cx="470.1" cy="420.6" r="2.6"/>
<circle cx="459.5" cy="422.2" r="2.6"/>
<circle cx="400.5" cy="418.1" r="2.6"/>
<circle cx="460.7" cy="401.9" r="2.6"/>
<circle cx="437.7" cy="412.2" r="2.6"/>
<circle cx="416.6" cy="418.9" r="2.6"/>
<circle cx="485.9" cy="383.6" r="2.6"/>
<circle cx="398.9" cy="423.6" r="2.6"/>
<circle cx="494.2" cy="387.6" r="2.6"/>
<circle cx="489.0" cy="405.7" r="2.6"/>
<circle cx="444.3" cy="417.2" r="2.6"/>
<circle cx="494.3" cy="396.9" r="2.6"/>
<circle cx="474.1" cy="383.1" r="2.6"/>
<circle cx="431.5" cy="411.9" r="2.6"/>
<circle cx="486.1" cy="380.4" r="2.6"/>
<circle cx="444.8" cy="413.9" r="2.6"/>
<circle cx="401.9" cy="415.6" r="2.6"/>
<circle cx="399.5" cy="424.0" r="2.6"/>
<circle cx="462.5" cy="406.8" r="2.6"/>
<circle cx="478.2" cy="408.6" r="2.6"/>
<circle cx="489.9" cy="410.3" r="2.6"/>
<circle cx="417.0" cy="413.4" r="2.6"/>
<circle cx="399.9" cy="421.8" r="2.6"/>
<circle cx="483.3" cy="390.4" r="2.6"/>
<circle cx="426.0" cy="421.7" r="2.6"/>
<circle cx="435.7" cy="406.4" r="2.6"/>
<circle cx="436.8" cy="421.7" r="2.6"/>
<circle cx="481.3" cy="396.3" r="2.6"/>
<circle cx="508.4" cy="369.9" r="2.6"/>
<circle cx="507.8" cy="389.2" r="2.6"/>
<circle cx="493.5" cy="399.7" r="2.6"/>
<circle cx="430.5" cy="415.6" r="2.6"/>
<circle cx="510.5" cy="370.7" r="2.6"/>
<circle cx="421.5" cy="417.8" r="2.6"/>
<circle cx="436.7" cy="415.4" r="2.6"/>
<circle cx="440.6" cy="414.1" r="2.6"/>
<circle cx="414.6" cy="415.7" r="2.6"/>
<circle cx="492.7" cy="391.5" r="2.6"/>
<circle cx="497.8" cy="388.3" r="2.6"/>
<circle cx="412.2" cy="413.4" r="2.6"/>
<circle cx="503.6" cy="396.7" r="2.6"/>
<circle cx="392.2" cy="421.5" r="2.6"/>
<circle cx="459.9" cy="404.4" r="2.6"/>
<circle cx="514.6" cy="378.4" r="2.6"/>
<circle cx="493.6" cy="408.5" r="2.6"/>
<circle cx="460.2" cy="396.4" r="2.6"/>
<circle cx="400.2" cy="424.0" r="2.6"/>
<circle cx="484.9" cy="381.8" r="2.6"/>
<circle cx="400.3" cy="418.5" r="2.6"/>
<circle cx="408.0" cy="414.9" r="2.6"/>
<circle cx="473.5" cy="413.5" r="2.6"/>
<circle cx="417.9" cy="411.4" r="2.6"/>
<circle cx="456.9" cy="398.3" r="2.6"/>
<circle cx="440.4" cy="415.5" r="2.6"/>
<circle cx="514.9" cy="377.5" r="2.6"/>
<circle cx="453.3" cy="407.0" r="2.6"/>
<circle cx="482.8" cy="390.1" r="2.6"/>
<circle cx="508.0" cy="390.2" r="2.6"/>
<circle cx="496.5" cy="385.0" r="2.6"/>
<circle cx="500.0" cy="378.5" r="2.6"/>
<circle cx="497.4" cy="376.5" r="2.6"/>
<circle cx="513.5" cy="379.3" r="2.6"/>
<circle cx="457.2" cy="400.1" r="2.6"/>
<circle cx="493.4" cy="395.5" r="2.6"/>
<circle cx="443.8" cy="420.5" r="2.6"/>
<circle cx="485.4" cy="378.0" r="2.6"/>
<circle cx="438.0" cy="420.3" r="2.6"/>
<circle cx="415.8" cy="417.7" r="2.6"/>
<circle cx="427.2" cy="403.8" r="2.6"/>
<circle cx="397.0" cy="422.2" r="2.6"/>
<circle cx="404.2" cy="417.3" r="2.6"/>
<circle cx="489.9" cy="406.4" r="2.6"/>
<circle cx="397.4" cy="420.8" r="2.6"/>
<circle cx="465.0" cy="390.1" r="2.6"/>
<circle cx="394.0" cy="424.0" r="2.6"/>
<circle cx="413.2" cy="421.4" r="2.6"/>
<circle cx="419.8" cy="411.6" r="2.6"/>
<circle cx="466.4" cy="416.1" r="2.6"/>
<circle cx="413.3" cy="420.4" r="2.6"/>
<circle cx="411.7" cy="413.6" r="2.6"/>
<circle cx="429.7" cy="412.3" r="2.6"/>
<circle cx="495.3" cy="392.3" r="2.6"/>
<circle cx="423.1" cy="407.2" r="2.6"/>
<circle cx="507.9" cy="392.8" r="2.6"/>
<circle cx="460.3" cy="390.2" r="2.6"/>
<circle cx="451.9" cy="417.6" r="2.6"/>
<circle cx="395.7" cy="417.3" r="2.6"/>
<circle cx="493.2" cy="396.9" r="2.6"/>
<circle cx="457.7" cy="406.7" r="2.6"/>
<circle cx="424.9" cy="404.4" r="2.6"/>
<circle cx="474.6" cy="413.2" r="2.6"/>
<circle cx="390.7" cy="422.1" r="2.6"/>
<circle cx="437.5" cy="404.0" r="2.6"/>
<circle cx="481.8" cy="394.6" r="2.6"/>
<circle cx="409.7" cy="422.6" r="2.6"/>
<circle cx="431.0" cy="418.7" r="2.6"/>
<circle cx="502.0" cy="388.4" r="2.6"/>
<circle cx="471.9" cy="383.9" r="2.6"/>
<circle cx="423.9" cy="414.0" r="2.6"/>
<circle cx="408.8" cy="414.3" r="2.6"/>
<circle cx="389.5" cy="420.6" r="2.6"/>
<circle cx="499.0" cy="378.3" r="2.6"/>
<circle cx="400.0" cy="422.1" r="2.6"/>
<circle cx="482.2" cy="414.2" r="2.6"/>
<circle cx="451.6" cy="409.6" r="2.6"/>
<circle cx="513.2" cy="381.5" r="2.6"/>
<circle cx="500.5" cy="396.9" r="2.6"/>
<circle cx="491.7" cy="396.6" r="2.6"/>
<circle cx="508.2" cy="402.3" r="2.6"/>
<circle cx="496.5" cy="401.8" r="2.6"/>
<circle cx="459.8" cy="405.9" r="2.6"/>
<circle cx="409.7" cy="413.2" r="2.6"/>
<circle cx="429.7" cy="417.7" r="2.6"/>
<circle cx="399.2" cy="421.9" r="2.6"/>
<circle cx="449.9" cy="402.2" r="2.6"/>
<circle cx="435.9" cy="407.3" r="2.6"/>
<circle cx="403.0" cy="420.4" r="2.6"/>
<circle cx="449.2" cy="394.6" r="2.6"/>
<circle cx="496.9" cy="385.3" r="2.6"/>
<circle cx="390.9" cy="422.6" r="2.6"/>
<circle cx="481.4" cy="409.2" r="2.6"/>
<circle cx="462.5" cy="407.8" r="2.6"/>
<circle cx="390.6" cy="419.2" r="2.6"/>
<circle cx="493.0" cy="403.6" r="2.6"/>
<circle cx="469.2" cy="413.1" r="2.6"/>
<circle cx="438.1" cy="410.5" r="2.6"/>
<circle cx="428.0" cy="417.4" r="2.6"/>
<circle cx="440.2" cy="406.6" r="2.6"/>
<circle cx="422.6" cy="420.8" r="2.6"/>
<circle cx="484.2" cy="404.1" r="2.6"/>
<circle cx="511.9" cy="382.9" r="2.6"/>
<circle cx="483.2" cy="404.5" r="2.6"/>
<circle cx="496.5" cy="406.0" r="2.6"/>
<circle cx="407.6" cy="423.5" r="2.6"/>
<circle cx="477.2" cy="392.9" r="2.6"/>
<circle cx="412.6" cy="418.6" r="2.6"/>
<circle cx="497.8" cy="387.2" r="2.6"/>
<circle cx="401.0" cy="422.5" r="2.6"/>
<circle cx="409.7" cy="423.0" r="2.6"/>
<circle cx="442.1" cy="422.7" r="2.6"/>
<circle cx="508.7" cy="389.3" r="2.6"/>
<circle cx="455.6" cy="402.7" r="2.6"/>
<circle cx="488.8" cy="383.0" r="2.6"/>
<circle cx="439.4" cy="415.8" r="2.6"/>
<circle cx="442.7" cy="424.3" r="2.6"/>
<circle cx="441.3" cy="405.3" r="2.6"/>
<circle cx="516.7" cy="372.2" r="2.6"/>
<circle cx="474.9" cy="398.0" r="2.6"/>
<circle cx="391.7" cy="422.7" r="2.6"/>
<circle cx="433.7" cy="408.9" r="2.6"/>
<circle cx="403.1" cy="420.6" r="2.6"/>
<circle cx="455.4" cy="398.0" r="2.6"/>
<circle cx="496.3" cy="387.1" r="2.6"/>
<circle cx="409.8" cy="414.0" r="2.6"/>
<circle cx="506.4" cy="385.6" r="2.6"/>
<circle cx="435.0" cy="412.2" r="2.6"/>
<circle cx="407.7" cy="415.4" r="2.6"/>
<circle cx="517.3" cy="382.7" r="2.6"/>
<circle cx="482.1" cy="385.5" r="2.6"/>
<circle cx="414.9" cy="409.5" r="2.6"/>
<circle cx="470.6" cy="416.7" r="2.6"/>
<circle cx="400.1" cy="422.4" r="2.6"/>
<circle cx="464.1" cy="398.5" r="2.6"/>
<circle cx="432.0" cy="402.7" r="2.6"/>
<circle cx="436.1" cy="412.9" r="2.6"/>
<circle cx="405.4" cy="413.0" r="2.6"/>
<circle cx="406.9" cy="413.3" r="2.6"/>
<circle cx="459.8" cy="404.7" r="2.6"/>
<circle cx="462.0" cy="415.0" r="2.6"/>
<circle cx="507.2" cy="368.4" r="2.6"/>
<circle cx="495.3" cy="387.9" r="2.6"/>
<circle cx="405.2" cy="414.9" r="2.6"/>
<circle cx="426.7" cy="405.6" r="2.6"/>
<circle cx="420.5" cy="414.0" r="2.6"/>
<circle cx="497.0" cy="402.4" r="2.6"/>
<circle cx="460.4" cy="422.0" r="2.6"/>
<circle cx="393.4" cy="423.5" r="2.6"/>
<circle cx="517.3" cy="366.1" r="2.6"/>
<circle cx="474.7" cy="410.3" r="2.6"/>
<circle cx="476.4" cy="392.1" r="2.6"/>
<circle cx="438.8" cy="409.0" r="2.6"/>
<circle cx="493.6" cy="410.2" r="2.6"/>
<circle cx="415.2" cy="417.1" r="2.6"/>
<circle cx="407.8" cy="419.7" r="2.6"/>
<circle cx="463.2" cy="418.3" r="2.6"/>
<circle cx="456.7" cy="415.7" r="2.6"/>
<circle cx="463.0" cy="412.4" r="2.6"/>
<circle cx="472.5" cy="422.5" r="2.6"/>
<circle cx="476.3" cy="415.9" r="2.6"/>
<circle cx="513.7" cy="380.8" r="2.6"/>
<circle cx="450.2" cy="411.7" r="2.6"/>
<circle cx="470.2" cy="396.9" r="2.6"/>
<circle cx="487.6" cy="386.1" r="2.6"/>
<circle cx="452.3" cy="392.4" r="2.6"/>
<circle cx="498.0" cy="377.5" r="2.6"/>
<circle cx="442.3" cy="412.5" r="2.6"/>
<circle cx="462.7" cy="391.1" r="2.6"/>
<circle cx="457.5" cy="406.5" r="2.6"/>
<circle cx="445.4" cy="398.0" r="2.6"/>
<circle cx="430.9" cy="423.5" r="2.6"/>
<circle cx="483.4" cy="382.4" r="2.6"/>
<circle cx="484.2" cy="393.7" r="2.6"/>
<circle cx="486.8" cy="403.5" r="2.6"/>
<circle cx="466.3" cy="422.1" r="2.6"/>
<circle cx="405.4" cy="419.4" r="2.6"/>
<circle cx="454.5" cy="411.4" r="2.6"/>
<circle cx="396.0" cy="419.2" r="2.6"/>
<circle cx="457.5" cy="416.4" r="2.6"/>
<circle cx="429.0" cy="415.9" r="2.6"/>
<circle cx="419.9" cy="423.5" r="2.6"/>
<circle cx="507.5" cy="369.3" r="2.6"/>
<circle cx="475.6" cy="387.3" r="2.6"/>
<circle cx="444.0" cy="401.5" r="2.6"/>
<circle cx="418.1" cy="411.6" r="2.6"/>
<circle cx="462.8" cy="391.2" r="2.6"/>
<circle cx="402.1" cy="416.4" r="2.6"/>
<circle cx="405.3" cy="418.3" r="2.6"/>
<circle cx="512.6" cy="404.3" r="2.6"/>
<circle cx="420.9" cy="419.1" r="2.6"/>
<circle cx="431.4" cy="423.3" r="2.6"/>
<circle cx="505.4" cy="375.9" r="2.6"/>
<circle cx="440.8" cy="414.9" r="2.6"/>
<circle cx="465.2" cy="423.0" r="2.6"/>
<circle cx="393.3" cy="418.7" r="2.6"/>
<circle cx="429.2" cy="413.6" r="2.6"/>
<circle cx="510.4" cy="367.6" r="2.6"/>
<circle cx="450.6" cy="418.2" r="2.6"/>
<circle cx="427.6" cy="404.7" r="2.6"/>
<circle cx="505.6" cy="399.2" r="2.6"/>
<circle cx="498.0" cy="395.9" r="2.6"/>
<circle cx="450.6" cy="419.3" r="2.6"/>
<circle cx="503.4" cy="370.0" r="2.6"/>
<circle cx="415.5" cy="414.3" r="2.6"/>
<circle cx="414.1" cy="410.8" r="2.6"/>
<circle cx="395.8" cy="423.9" r="2.6"/>
<circle cx="483.4" cy="405.1" r="2.6"/>
<circle cx="506.1" cy="373.6" r="2.6"/>
<circle cx="481.8" cy="413.0" r="2.6"/>
<circle cx="479.6" cy="382.7" r="2.6"/>
<circle cx="447.0" cy="422.4" r="2.6"/>
<circle cx="418.2" cy="419.3" r="2.6"/>
<circle cx="481.5" cy="410.8" r="2.6"/>
<circle cx="412.8" cy="421.2" r="2.6"/>
<circle cx="475.5" cy="390.4" r="2.6"/>
<circle cx="437.6" cy="407.4" r="2.6"/>
<circle cx="504.0" cy="384.9" r="2.6"/>
<circle cx="419.0" cy="419.3" r="2.6"/>
<circle cx="509.5" cy="379.9" r="2.6"/>
<circle cx="425.2" cy="411.5" r="2.6"/>
<circle cx="401.0" cy="414.8" r="2.6"/>
<circle cx="446.4" cy="408.9" r="2.6"/>
<circle cx="458.1" cy="423.2" r="2.6"/>
<circle cx="467.1" cy="413.6" r="2.6"/>
<circle cx="421.8" cy="409.3" r="2.6"/>
<circle cx="400.6" cy="421.9" r="2.6"/>
<circle cx="487.3" cy="405.4" r="2.6"/>
<circle cx="425.5" cy="413.3" r="2.6"/>
<circle cx="413.5" cy="410.8" r="2.6"/>
<circle cx="517.4" cy="401.5" r="2.6"/>
<circle cx="449.2" cy="401.3" r="2.6"/>
<circle cx="439.2" cy="399.8" r="2.6"/>
<circle cx="454.1" cy="418.7" r="2.6"/>
<circle cx="461.4" cy="401.2" r="2.6"/>
<circle cx="435.9" cy="408.0" r="2.6"/>
<circle cx="490.9" cy="393.3" r="2.6"/>
<circle cx="454.9" cy="396.3" r="2.6"/>
<circle cx="478.0" cy="399.9" r="2.6"/>
<circle cx="512.7" cy="397.6" r="2.6"/>
<circle cx="490.4" cy="406.6" r="2.6"/>
<circle cx="468.2" cy="415.5" r="2.6"/>
<circle cx="446.4" cy="401.6" r="2.6"/>
<circle cx="491.3" cy="382.9" r="2.6"/>
<circle cx="419.9" cy="415.8" r="2.6"/>
<circle cx="418.0" cy="414.6" r="2.6"/>
<circle cx="454.0" cy="423.6" r="2.6"/>
<circle cx="466.7" cy="397.0" r="2.6"/>
<circle cx="463.6" cy="392.0" r="2.6"/>
<circle cx="412.6" cy="422.4" r="2.6"/>
<circle cx="391.6" cy="421.8" r="2.6"/>
<circle cx="445.7" cy="411.6" r="2.6"/>
<circle cx="423.4" cy="408.8" r="2.6"/>
<circle cx="398.7" cy="416.5" r="2.6"/>
<circle cx="463.1" cy="404.5" r="2.6"/>
<circle cx="492.0" cy="403.0" r="2.6"/>
<circle cx="408.3" cy="420.6" r="2.6"/>
<circle cx="394.8" cy="422.4" r="2.6"/>
<circle cx="469.9" cy="403.6" r="2.6"/>
<circle cx="423.6" cy="413.0" r="2.6"/>
<circle cx="400.8" cy="416.5" r="2.6"/>
<circle cx="411.5" cy="421.0" r="2.6"/>
<circle cx="410.0" cy="415.0" r="2.6"/>
<circle cx="497.1" cy="380.4" r="2.6"/>
<circle cx="397.2" cy="421.3" r="2.6"/>
<circle cx="436.6" cy="419.2" r="2.6"/>
<circle cx="515.2" cy="401.9" r="2.6"/>
<circle cx="452.8" cy="399.8" r="2.6"/>
<circle cx="517.2" cy="397.2" r="2.6"/>
<circle cx="448.3" cy="401.8" r="2.6"/>
<circle cx="394.4" cy="423.0" r="2.6"/>
<circle cx="504.7" cy="401.5" r="2.6"/>
<circle cx="440.3" cy="416.6" r="2.6"/>
<circle cx="444.3" cy="422.5" r="2.6"/>
<circle cx="393.7" cy="417.8" r="2.6"/>
<circle cx="488.3" cy="386.5" r="2.6"/>
<circle cx="419.1" cy="420.2" r="2.6"/>
<circle cx="460.9" cy="416.0" r="2.6"/>
<circle cx="449.2" cy="395.7" r="2.6"/>
<circle cx="436.5" cy="416.1" r="2.6"/>
<circle cx="516.6" cy="379.2" r="2.6"/>
<circle cx="394.4" cy="421.8" r="2.6"/>
<circle cx="473.6" cy="421.0" r="2.6"/>
<circle cx="433.8" cy="407.7" r="2.6"/>
<circle cx="501.4" cy="385.9" r="2.6"/>
<circle cx="504.3" cy="389.6" r="2.6"/>
<circle cx="440.3" cy="401.7" r="2.6"/>
<circle cx="438.7" cy="403.9" r="2.6"/>
<circle cx="417.2" cy="418.8" r="2.6"/>
<circle cx="413.1" cy="416.3" r="2.6"/>
<circle cx="410.5" cy="421.8" r="2.6"/>
<circle cx="417.1" cy="416.7" r="2.6"/>
<circle cx="429.3" cy="414.7" r="2.6"/>
<circle cx="518.1" cy="376.0" r="2.6"/>
<circle cx="501.2" cy="400.3" r="2.6"/>
<circle cx="439.0" cy="422.8" r="2.6"/>
<circle cx="479.0" cy="405.7" r="2.6"/>
<circle cx="424.9" cy="424.4" r="2.6"/>
<circle cx="412.9" cy="420.7" r="2.6"/>
<circle cx="440.3" cy="399.5" r="2.6"/>
<circle cx="482.1" cy="407.6" r="2.6"/>
<circle cx="436.1" cy="420.8" r="2.6"/>
<circle cx="510.8" cy="391.1" r="2.6"/>
<circle cx="488.6" cy="386.7" r="2.6"/>
<circle cx="506.9" cy="405.4" r="2.6"/>
<circle cx="431.1" cy="415.8" r="2.6"/>
<circle cx="400.1" cy="416.2" r="2.6"/>
<circle cx="431.5" cy="406.7" r="2.6"/>
<circle cx="456.6" cy="422.9" r="2.6"/>
<circle cx="440.4" cy="418.2" r="2.6"/>
<circle cx="394.6" cy="423.6" r="2.6"/>
<circle cx="466.5" cy="423.5" r="2.6"/>
<circle cx="429.8" cy="415.1" r="2.6"/>
<circle cx="459.9" cy="419.9" r="2.6"/>
<circle cx="480.9" cy="408.6" r="2.6"/>
<circle cx="483.4" cy="391.5" r="2.6"/>
<circle cx="408.4" cy="422.0" r="2.6"/>
<circle cx="425.7" cy="409.8" r="2.6"/>
<circle cx="441.9" cy="413.9" r="2.6"/>
<circle cx="501.6" cy="399.4" r="2.6"/>
<circle cx="427.2" cy="417.3" r="2.6"/>
<circle cx="417.3" cy="424.0" r="2.6"/>
<circle cx="392.5" cy="420.7" r="2.6"/>
<circle cx="462.7" cy="394.7" r="2.6"/>
<circle cx="515.8" cy="391.7" r="2.6"/>
<circle cx="476.3" cy="384.9" r="2.6"/>
<circle cx="417.3" cy="412.9" r="2.6"/>
<circle cx="475.8" cy="383.7" r="2.6"/>
<circle cx="501.9" cy="399.0" r="2.6"/>
<circle cx="471.3" cy="421.1" r="2.6"/>
<circle cx="444.8" cy="413.3" r="2.6"/>
<circle cx="397.1" cy="421.5" r="2.6"/>
<circle cx="431.9" cy="413.0" r="2.6"/>
<circle cx="425.6" cy="421.4" r="2.6"/>
<circle cx="441.5" cy="411.5" r="2.6"/>
<circle cx="410.9" cy="415.1" r="2.6"/>
<circle cx="420.4" cy="423.0" r="2.6"/>
<circle cx="433.6" cy="414.4" r="2.6"/>
<circle cx="408.8" cy="416.9" r="2.6"/>
<circle cx="480.3" cy="397.5" r="2.6"/>
<circle cx="480.1" cy="418.4" r="2.6"/>
<circle cx="440.1" cy="414.8" r="2.6"/>
<circle cx="397.5" cy="421.3" r="2.6"/>
<circle cx="396.4" cy="420.7" r="2.6"/>
<circle cx="465.3" cy="406.8" r="2.6"/>
<circle cx="431.5" cy="418.8" r="2.6"/>
<circle cx="392.3" cy="422.6" r="2.6"/>
<circle cx="505.0" cy="385.5" r="2.6"/>
<circle cx="423.3" cy="411.5" r="2.6"/>
<circle cx="413.4" cy="417.5" r="2.6"/>
<circle cx="469.1" cy="386.6" r="2.6"/>
<circle cx="436.3" cy="410.0" r="2.6"/>
<circle cx="511.5" cy="375.0" r="2.6"/>
<circle cx="470.7" cy="399.5" r="2.6"/>
<circle cx="442.6" cy="413.0" r="2.6"/>
<circle cx="425.1" cy="407.6" r="2.6"/>
<circle cx="503.4" cy="392.9" r="2.6"/>
<circle cx="507.3" cy="404.6" r="2.6"/>
<circle cx="406.9" cy="418.3" r="2.6"/>
<circle cx="429.3" cy="416.6" r="2.6"/>
<circle cx="516.0" cy="397.4" r="2.6"/>
<circle cx="414.3" cy="421.1" r="2.6"/>
<circle cx="477.5" cy="411.6" r="2.6"/>
<circle cx="389.4" cy="422.0" r="2.6"/>
<circle cx="440.4" cy="418.2" r="2.6"/>
<circle cx="453.3" cy="403.3" r="2.6"/>
<circle cx="460.4" cy="402.2" r="2.6"/>
<circle cx="462.0" cy="394.1" r="2.6"/>
<circle cx="515.0" cy="390.7" r="2.6"/>
<circle cx="434.3" cy="402.9" r="2.6"/>
<circle cx="429.9" cy="408.4" r="2.6"/>
<circle cx="479.5" cy="392.6" r="2.6"/>
<circle cx="514.3" cy="371.8" r="2.6"/>
<circle cx="410.0" cy="416.0" r="2.6"/>
<circle cx="452.9" cy="406.2" r="2.6"/>
<circle cx="437.2" cy="417.3" r="2.6"/>
<circle cx="486.4" cy="395.0" r="2.6"/>
<circle cx="420.0" cy="420.2" r="2.6"/>
<circle cx="431.4" cy="420.6" r="2.6"/>
<circle cx="455.9" cy="420.4" r="2.6"/>
<circle cx="397.5" cy="424.2" r="2.6"/>
<circle cx="402.5" cy="417.1" r="2.6"/>
<circle cx="403.9" cy="419.6" r="2.6"/>
<circle cx="489.4" cy="395.4" r="2.6"/>
<circle cx="410.4" cy="412.4" r="2.6"/>
<circle cx="502.1" cy="405.6" r="2.6"/>
<circle cx="422.2" cy="414.9" r="2.6"/>
<circle cx="492.6" cy="397.0" r="2.6"/>
<circle cx="482.2" cy="408.2" r="2.6"/>
<circle cx="482.1" cy="405.3" r="2.6"/>
<circle cx="432.6" cy="406.6" r="2.6"/>
<circle cx="498.6" cy="378.2" r="2.6"/>
<circle cx="462.9" cy="409.1" r="2.6"/>
<circle cx="481.0" cy="394.4" r="2.6"/>
<circle cx="497.1" cy="379.9" r="2.6"/>
<circle cx="405.5" cy="420.2" r="2.6"/>
<circle cx="476.1" cy="412.5" r="2.6"/>
<circle cx="413.2" cy="424.5" r="2.6"/>
<circle cx="465.2" cy="388.8" r="2.6"/>
<circle cx="515.2" cy="398.3" r="2.6"/>
<circle cx="478.5" cy="403.7" r="2.6"/>
<circle cx="471.2" cy="408.5" r="2.6"/>
<circle cx="510.4" cy="367.2" r="2.6"/>
<circle cx="395.6" cy="419.2" r="2.6"/>
<circle cx="404.6" cy="424.3" r="2.6"/>
<circle cx="426.4" cy="409.2" r="2.6"/>
<circle cx="518.2" cy="397.9" r="2.6"/>
<circle cx="432.1" cy="424.1" r="2.6"/>
<circle cx="459.7" cy="407.5" r="2.6"/>
<circle cx="437.7" cy="416.7" r="2.6"/>
<circle cx="493.1" cy="380.3" r="2.6"/>
<circle cx="426.1" cy="416.5" r="2.6"/>
<circle cx="469.4" cy="394.1" r="2.6"/>
<circle cx="516.5" cy="387.9" r="2.6"/>
<circle cx="479.3" cy="398.3" r="2.6"/>
<circle cx="493.1" cy="405.7" r="2.6"/>
<circle cx="412.0" cy="423.2" r="2.6"/>
<circle cx="510.4" cy="395.4" r="2.6"/>
<circle cx="452.6" cy="420.8" r="2.6"/>
<circle cx="431.3" cy="424.3" r="2.6"/>
<circle cx="462.7" cy="419.4" r="2.6"/>
<circle cx="470.4" cy="413.7" r="2.6"/>
<circle cx="418.8" cy="416.1" r="2.6"/>
<circle cx="436.7" cy="418.1" r="2.6"/>
<circle cx="395.9" cy="424.2" r="2.6"/>
<circle cx="505.1" cy="395.1" r="2.6"/>
<circle cx="399.5" cy="423.0" r="2.6"/>
<circle cx="452.0" cy="392.4" r="2.6"/>
<circle cx="415.5" cy="410.5" r="2.6"/>
<circle cx="452.1" cy="411.3" r="2.6"/>
<circle cx="494.0" cy="396.1" r="2.6"/>
<circle cx="396.8" cy="420.2" r="2.6"/>
<circle cx="474.5" cy="397.7" r="2.6"/>
<circle cx="425.2" cy="405.3" r="2.6"/>
<circle cx="501.4" cy="370.9" r="2.6"/>
<circle cx="446.8" cy="399.6" r="2.6"/>
<circle cx="483.3" cy="410.5" r="2.6"/>
<circle cx="392.8" cy="423.7" r="2.6"/>
<circle cx="404.7" cy="423.9" r="2.6"/>
<circle cx="435.8" cy="405.6" r="2.6"/>
<circle cx="429.5" cy="413.1" r="2.6"/>
<circle cx="390.6" cy="423.6" r="2.6"/>
<circle cx="513.7" cy="403.6" r="2.6"/>
<circle cx="457.7" cy="396.5" r="2.6"/>
<circle cx="492.1" cy="384.6" r="2.6"/>
<circle cx="441.1" cy="402.5" r="2.6"/>
<circle cx="496.6" cy="381.3" r="2.6"/>
<circle cx="517.2" cy="399.0" r="2.6"/>
<circle cx="512.6" cy="388.9" r="2.6"/>
<circle cx="480.8" cy="409.1" r="2.6"/>
<circle cx="507.3" cy="405.1" r="2.6"/>
<circle cx="464.1" cy="416.2" r="2.6"/>
<circle cx="439.7" cy="414.8" r="2.6"/>
<circle cx="474.5" cy="390.1" r="2.6"/>
<circle cx="436.6" cy="408.4" r="2.6"/>
<circle cx="435.2" cy="417.7" r="2.6"/>
<circle cx="506.7" cy="394.0" r="2.6"/>
<circle cx="401.5" cy="421.3" r="2.6"/>
<circle cx="485.5" cy="407.8" r="2.6"/>
<circle cx="485.7" cy="394.9" r="2.6"/>
<circle cx="477.5" cy="413.9" r="2.6"/>
<circle cx="403.0" cy="423.2" r="2.6"/>
<circle cx="434.7" cy="414.0" r="2.6"/>
<circle cx="390.5" cy="422.0" r="2.6"/>
<circle cx="441.6" cy="415.8" r="2.6"/>
<circle cx="459.0" cy="391.0" r="2.6"/>
<circle cx="415.8" cy="410.1" r="2.6"/>
<circle cx="430.9" cy="407.2" r="2.6"/>
<circle cx="403.3" cy="413.7" r="2.6"/>
<circle cx="445.1" cy="396.4" r="2.6"/>
<circle cx="417.8" cy="417.6" r="2.6"/>
<circle cx="480.9" cy="411.8" r="2.6"/>
<circle cx="424.7" cy="410.9" r="2.6"/>
<circle cx="512.2" cy="392.1" r="2.6"/>
<circle cx="413.1" cy="419.2" r="2.6"/>
<circle cx="517.6" cy="397.0" r="2.6"/>
<circle cx="471.6" cy="409.2" r="2.6"/>
<circle cx="472.8" cy="415.2" r="2.6"/>
<circle cx="469.2" cy="389.3" r="2.6"/>
<circle cx="500.4" cy="384.9" r="2.6"/>
<circle cx="454.8" cy="405.6" r="2.6"/>
<circle cx="404.1" cy="415.1" r="2.6"/>
<circle cx="478.8" cy="402.2" r="2.6"/>
<circle cx="475.6" cy="405.3" r="2.6"/>
<circle cx="439.2" cy="418.6" r="2.6"/>
<circle cx="467.2" cy="402.4" r="2.6"/>
<circle cx="456.1" cy="423.6" r="2.6"/>
<circle cx="470.7" cy="406.6" r="2.6"/>
<circle cx="466.3" cy="401.8" r="2.6"/>
<circle cx="510.1" cy="399.3" r="2.6"/>
<circle cx="450.1" cy="393.4" r="2.6"/>
<circle cx="485.0" cy="404.2" r="2.6"/>
<circle cx="484.9" cy="378.3" r="2.6"/>
<circle cx="441.4" cy="400.6" r="2.6"/>
<circle cx="405.7" cy="412.7" r="2.6"/>
<circle cx="453.0" cy="417.1" r="2.6"/>
<circle cx="498.3" cy="385.0" r="2.6"/>
<circle cx="510.9" cy="373.1" r="2.6"/>
<circle cx="492.8" cy="392.5" r="2.6"/>
<circle cx="518.2" cy="400.1" r="2.6"/>
<circle cx="502.2" cy="381.1" r="2.6"/>
<circle cx="421.8" cy="409.2" r="2.6"/>
<circle cx="448.2" cy="408.2" r="2.6"/>
<circle cx="501.6" cy="400.5" r="2.6"/>
<circle cx="425.6" cy="411.3" r="2.6"/>
<circle cx="398.8" cy="419.7" r="2.6"/>
<circle cx="491.4" cy="394.0" r="2.6"/>
<circle cx="420.7" cy="409.8" r="2.6"/>
<circle cx="500.2" cy="379.7" r="2.6"/>
<circle cx="460.5" cy="392.0" r="2.6"/>
<circle cx="492.6" cy="405.8" r="2.6"/>
<circle cx="436.7" cy="422.2" r="2.6"/>
<circle cx="394.1" cy="422.3" r="2.6"/>
<circle cx="501.5" cy="376.8" r="2.6"/>
<circle cx="404.5" cy="422.6" r="2.6"/>
<circle cx="439.7" cy="401.8" r="2.6"/>
<circle cx="469.3" cy="388.7" r="2.6"/>
<circle cx="398.6" cy="415.8" r="2.6"/>
<circle cx="416.1" cy="414.2" r="2.6"/>
<circle cx="503.0" cy="380.2" r="2.6"/>
<circle cx="414.9" cy="413.9" r="2.6"/>
<circle cx="445.2" cy="424.3" r="2.6"/>
<circle cx="433.3" cy="417.1" r="2.6"/>
<circle cx="471.0" cy="413.4" r="2.6"/>
<circle cx="467.5" cy="397.5" r="2.6"/>
<circle cx="412.7" cy="422.8" r="2.6"/>
<circle cx="479.3" cy="401.4" r="2.6"/>
<circle cx="406.0" cy="423.3" r="2.6"/>
<circle cx="511.4" cy="381.3" r="2.6"/>
<circle cx="435.7" cy="419.8" r="2.6"/>
<circle cx="518.3" cy="375.4" r="2.6"/>
<circle cx="484.8" cy="402.5" r="2.6"/>
<circle cx="429.5" cy="415.5" r="2.6"/>
<circle cx="408.3" cy="416.4" r="2.6"/>
<circle cx="444.4" cy="400.9" r="2.6"/>
<circle cx="442.3" cy="411.9" r="2.6"/>
<circle cx="455.0" cy="393.0" r="2.6"/>
<circle cx="434.2" cy="407.4" r="2.6"/>
<circle cx="419.8" cy="414.1" r="2.6"/>
<circle cx="426.2" cy="406.3" r="2.6"/>
<circle cx="426.5" cy="406.6" r="2.6"/>
<circle cx="477.1" cy="403.1" r="2.6"/>
<circle cx="510.4" cy="390.2" r="2.6"/>
<circle cx="485.7" cy="392.8" r="2.6"/>
<circle cx="447.5" cy="422.8" r="2.6"/>
<circle cx="443.7" cy="416.7" r="2.6"/>
<circle cx="446.5" cy="396.1" r="2.6"/>
<circle cx="427.3" cy="409.7" r="2.6"/>
<circle cx="476.5" cy="411.8" r="2.6"/>
<circle cx="442.7" cy="421.0" r="2.6"/>
<circle cx="505.4" cy="397.1" r="2.6"/>
<circle cx="443.9" cy="414.9" r="2.6"/>
<circle cx="495.7" cy="378.6" r="2.6"/>
<circle cx="465.9" cy="403.7" r="2.6"/>
<circle cx="402.2" cy="415.2" r="2.6"/>
<circle cx="400.8" cy="421.1" r="2.6"/>
<circle cx="437.9" cy="405.8" r="2.6"/>
<circle cx="476.1" cy="408.0" r="2.6"/>
<circle cx="505.8" cy="370.7" r="2.6"/>
<circle cx="392.3" cy="420.8" r="2.6"/>
<circle cx="450.1" cy="413.3" r="2.6"/>
<circle cx="449.6" cy="414.8" r="2.6"/>
<circle cx="476.3" cy="397.4" r="2.6"/>
<circle cx="515.2" cy="365.6" r="2.6"/>
<circle cx="518.0" cy="387.1" r="2.6"/>
<circle cx="496.8" cy="385.5" r="2.6"/>
<circle cx="480.2" cy="380.1" r="2.6"/>
<circle cx="397.9" cy="420.7" r="2.6"/>
<circle cx="441.3" cy="406.5" r="2.6"/>
<circle cx="417.6" cy="407.6" r="2.6"/>
<circle cx="416.5" cy="418.5" r="2.6"/>
<circle cx="407.8" cy="419.6" r="2.6"/>
<circle cx="485.5" cy="412.7" r="2.6"/>
<circle cx="410.9" cy="415.4" r="2.6"/>
<circle cx="470.1" cy="394.8" r="2.6"/>
<circle cx="422.2" cy="409.0" r="2.6"/>
<circle cx="484.1" cy="386.9" r="2.6"/>
<circle cx="404.8" cy="419.2" r="2.6"/>
<circle cx="391.3" cy="419.7" r="2.6"/>
<circle cx="511.8" cy="370.1" r="2.6"/>
<circle cx="392.4" cy="422.5" r="2.6"/>
<circle cx="458.8" cy="405.9" r="2.6"/>
<circle cx="403.7" cy="415.8" r="2.6"/>
<circle cx="428.4" cy="413.5" r="2.6"/>
<circle cx="405.5" cy="417.9" r="2.6"/>
<circle cx="406.1" cy="423.7" r="2.6"/>
<circle cx="455.7" cy="414.7" r="2.6"/>
<circle cx="490.1" cy="403.8" r="2.6"/>
<circle cx="443.0" cy="423.2" r="2.6"/>
<circle cx="417.5" cy="416.9" r="2.6"/>
<circle cx="461.7" cy="407.9" r="2.6"/>
<circle cx="499.6" cy="404.6" r="2.6"/>
<circle cx="499.6" cy="402.7" r="2.6"/>
<circle cx="515.1" cy="383.1" r="2.6"/>
<circle cx="442.0" cy="407.6" r="2.6"/>
<circle cx="501.3" cy="372.1" r="2.6"/>
<circle cx="442.9" cy="424.4" r="2.6"/>
<circle cx="409.2" cy="413.5" r="2.6"/>
<circle cx="484.6" cy="389.1" r="2.6"/>
<circle cx="409.6" cy="417.4" r="2.6"/>
<circle cx="393.0" cy="424.0" r="2.6"/>
<circle cx="428.3" cy="403.4" r="2.6"/>
<circle cx="472.7" cy="389.4" r="2.6"/>
<circle cx="395.3" cy="421.6" r="2.6"/>
<circle cx="399.5" cy="422.3" r="2.6"/>
<circle cx="403.8" cy="414.3" r="2.6"/>
<circle cx="431.9" cy="413.2" r="2.6"/>
<circle cx="474.1" cy="387.2" r="2.6"/>
<circle cx="512.1" cy="382.7" r="2.6"/>
<circle cx="454.3" cy="394.5" r="2.6"/>
<circle cx="440.5" cy="416.6" r="2.6"/>
<circle cx="485.2" cy="406.2" r="2.6"/>
<circle cx="437.0" cy="413.6" r="2.6"/>
<circle cx="451.1" cy="413.3" r="2.6"/>
<circle cx="393.1" cy="422.4" r="2.6"/>
<circle cx="391.1" cy="385.2" r="2.6"/>
<circle cx="393.6" cy="398.8" r="2.6"/>
<circle cx="391.1" cy="405.8" r="2.6"/>
<circle cx="389.6" cy="407.2" r="2.6"/>
<circle cx="391.0" cy="409.9" r="2.6"/>
<circle cx="392.0" cy="389.3" r="2.6"/>
<circle cx="389.6" cy="401.7" r="2.6"/>
<circle cx="393.2" cy="379.0" r="2.6"/>
<circle cx="389.5" cy="424.4" r="2.6"/>
<circle cx="397.4" cy="407.5" r="2.6"/>
<circle cx="394.7" cy="396.5" r="2.6"/>
<circle cx="391.5" cy="395.9" r="2.6"/>
<circle cx="391.7" cy="396.9" r="2.6"/>
<circle cx="391.1" cy="400.3" r="2.6"/>
<circle cx="393.4" cy="389.1" r="2.6"/>
<circle cx="390.9" cy="412.8" r="2.6"/>
<circle cx="389.8" cy="412.0" r="2.6"/>
<circle cx="390.4" cy="384.1" r="2.6"/>
<circle cx="393.1" cy="405.7" r="2.6"/>
<circle cx="390.6" cy="420.7" r="2.6"/>
<circle cx="394.9" cy="378.2" r="2.6"/>
<circle cx="391.0" cy="409.7" r="2.6"/>
<circle cx="392.3" cy="386.0" r="2.6"/>
<circle cx="390.6" cy="422.1" r="2.6"/>
<circle cx="394.6" cy="388.6" r="2.6"/>
<circle cx="394.4" cy="398.6" r="2.6"/>
<circle cx="390.9" cy="380.9" r="2.6"/>
<circle cx="389.8" cy="380.5" r="2.6"/>
<circle cx="389.9" cy="389.1" r="2.6"/>
<circle cx="389.6" cy="389.9" r="2.6"/>
<circle cx="389.5" cy="405.0" r="2.6"/>
<circle cx="394.0" cy="381.4" r="2.6"/>
<circle cx="399.2" cy="421.2" r="2.6"/>
<circle cx="390.1" cy="389.2" r="2.6"/>
<circle cx="393.3" cy="406.9" r="2.6"/>
<circle cx="393.2" cy="419.2" r="2.6"/>
<circle cx="390.6" cy="409.6" r="2.6"/>
<circle cx="389.4" cy="419.3" r="2.6"/>
<circle cx="390.7" cy="385.3" r="2.6"/>
<circle cx="391.7" cy="419.4" r="2.6"/>
<circle cx="393.4" cy="419.1" r="2.6"/>
<circle cx="392.8" cy="398.2" r="2.6"/>
<circle cx="398.1" cy="381.1" r="2.6"/>
<circle cx="390.2" cy="399.4" r="2.6"/>
<circle cx="393.1" cy="385.0" r="2.6"/>
<circle cx="394.8" cy="402.4" r="2.6"/>
<circle cx="394.7" cy="423.3" r="2.6"/>
<circle cx="392.7" cy="392.8" r="2.6"/>
<circle cx="390.8" cy="380.8" r="2.6"/>
<circle cx="395.1" cy="406.4" r="2.6"/>
<circle cx="389.5" cy="387.9" r="2.6"/>
<circle cx="394.2" cy="416.9" r="2.6"/>
<circle cx="393.1" cy="397.0" r="2.6"/>
<circle cx="390.3" cy="417.0" r="2.6"/>
<circle cx="392.6" cy="408.2" r="2.6"/>
<circle cx="393.2" cy="406.4" r="2.6"/>
<circle cx="391.8" cy="397.6" r="2.6"/>
<circle cx="391.3" cy="397.1" r="2.6"/>
<circle cx="392.3" cy="402.0" r="2.6"/>
<circle cx="392.7" cy="391.8" r="2.6"/>
<circle cx="389.7" cy="413.7" r="2.6"/>
<circle cx="389.7" cy="397.5" r="2.6"/>
<circle cx="395.4" cy="412.6" r="2.6"/>
<circle cx="395.8" cy="406.9" r="2.6"/>
<circle cx="392.1" cy="390.9" r="2.6"/>
<circle cx="394.1" cy="398.3" r="2.6"/>
<circle cx="391.5" cy="378.6" r="2.6"/>
<circle cx="392.8" cy="401.7" r="2.6"/>
<circle cx="391.5" cy="413.8" r="2.6"/>
<circle cx="389.3" cy="410.2" r="2.6"/>
<circle cx="391.1" cy="384.7" r="2.6"/>
<circle cx="395.0" cy="397.9" r="2.6"/>
<circle cx="390.6" cy="398.7" r="2.6"/>
<circle cx="390.4" cy="379.8" r="2.6"/>
<circle cx="391.2" cy="388.6" r="2.6"/>
<circle cx="389.9" cy="387.7" r="2.6"/>
<circle cx="390.9" cy="414.4" r="2.6"/>
<circle cx="390.8" cy="395.9" r="2.6"/>
<circle cx="393.8" cy="419.0" r="2.6"/>
<circle cx="389.8" cy="382.2" r="2.6"/>
<circle cx="394.3" cy="381.0" r="2.6"/>
<circle cx="390.6" cy="379.8" r="2.6"/>
<circle cx="392.7" cy="390.8" r="2.6"/>
<circle cx="391.2" cy="390.4" r="2.6"/>
<circle cx="396.6" cy="412.2" r="2.6"/>
<circle cx="389.3" cy="399.3" r="2.6"/>
<circle cx="390.1" cy="412.8" r="2.6"/>
<circle cx="390.1" cy="418.5" r="2.6"/>
<circle cx="392.1" cy="401.8" r="2.6"/>
<circle cx="389.7" cy="411.6" r="2.6"/>
<circle cx="392.4" cy="400.7" r="2.6"/>
<circle cx="390.9" cy="384.1" r="2.6"/>
<circle cx="390.9" cy="384.3" r="2.6"/>
<circle cx="393.0" cy="390.0" r="2.6"/>
<circle cx="392.3" cy="399.5" r="2.6"/>
<circle cx="393.9" cy="388.1" r="2.6"/>
<circle cx="396.5" cy="412.5" r="2.6"/>
<circle cx="397.7" cy="407.6" r="2.6"/>
<circle cx="392.3" cy="387.5" r="2.6"/>
<circle cx="389.7" cy="407.2" r="2.6"/>
<circle cx="393.4" cy="390.3" r="2.6"/>
<circle cx="393.5" cy="398.0" r="2.6"/>
<circle cx="390.9" cy="408.3" r="2.6"/>
<circle cx="390.3" cy="419.5" r="2.6"/>
<circle cx="398.5" cy="380.3" r="2.6"/>
<circle cx="390.1" cy="382.1" r="2.6"/>
<circle cx="390.5" cy="419.9" r="2.6"/>
<circle cx="391.1" cy="378.0" r="2.6"/>
<circle cx="390.1" cy="410.1" r="2.6"/>
<circle cx="390.2" cy="393.2" r="2.6"/>
<circle cx="390.3" cy="421.5" r="2.6"/>
<circle cx="394.2" cy="378.3" r="2.6"/>
<circle cx="390.2" cy="392.3" r="2.6"/>
<circle cx="393.4" cy="400.1" r="2.6"/>
<circle cx="394.6" cy="421.1" r="2.6"/>
<circle cx="391.7" cy="399.8" r="2.6"/>
<circle cx="389.7" cy="408.0" r="2.6"/>
<circle cx="391.8" cy="391.4" r="2.6"/>
<circle cx="389.3" cy="405.0" r="2.6"/>
<circle cx="390.8" cy="401.7" r="2.6"/>
<circle cx="389.4" cy="398.4" r="2.6"/>
<circle cx="394.1" cy="418.4" r="2.6"/>
<circle cx="390.1" cy="410.5" r="2.6"/>
<circle cx="392.3" cy="380.3" r="2.6"/>
<circle cx="394.4" cy="378.6" r="2.6"/>
<circle cx="397.5" cy="384.1" r="2.6"/>
<circle cx="392.0" cy="380.5" r="2.6"/>
<circle cx="393.7" cy="396.8" r="2.6"/>
<circle cx="389.8" cy="392.3" r="2.6"/>
<circle cx="393.3" cy="380.6" r="2.6"/>
<circle cx="392.7" cy="420.7" r="2.6"/>
<circle cx="398.9" cy="423.2" r="2.6"/>
<circle cx="390.5" cy="419.5" r="2.6"/>
<circle cx="395.8" cy="423.6" r="2.6"/>
<circle cx="396.3" cy="423.2" r="2.6"/>
<circle cx="392.1" cy="400.2" r="2.6"/>
<circle cx="394.4" cy="397.3" r="2.6"/>
<circle cx="389.6" cy="424.7" r="2.6"/>
<circle cx="396.2" cy="421.5" r="2.6"/>
<circle cx="492.3" cy="324.7" r="2.6"/>
<circle cx="497.4" cy="364.3" r="2.6"/>
<circle cx="432.8" cy="394.1" r="2.6"/>
<circle cx="391.2" cy="388.9" r="2.6"/>
<circle cx="423.3" cy="384.4" r="2.6"/>
<circle cx="457.5" cy="384.2" r="2.6"/>
<circle cx="476.8" cy="371.1" r="2.6"/>
<circle cx="419.7" cy="357.9" r="2.6"/>
<circle cx="412.1" cy="408.6" r="2.6"/>
<circle cx="422.2" cy="391.9" r="2.6"/>
<circle cx="490.9" cy="370.0" r="2.6"/>
<circle cx="420.2" cy="380.3" r="2.6"/>
<circle cx="423.0" cy="388.9" r="2.6"/>
<circle cx="422.4" cy="357.4" r="2.6"/>
<circle cx="413.2" cy="406.3" r="2.6"/>
<circle cx="428.4" cy="396.6" r="2.6"/>
<circle cx="483.5" cy="355.2" r="2.6"/>
<circle cx="491.8" cy="360.4" r="2.6"/>
<circle cx="399.5" cy="378.8" r="2.6"/>
<circle cx="421.0" cy="403.3" r="2.6"/>
<circle cx="443.0" cy="338.3" r="2.6"/>
<circle cx="437.4" cy="391.8" r="2.6"/>
<circle cx="507.5" cy="311.5" r="2.6"/>
<circle cx="439.5" cy="396.9" r="2.6"/>
<circle cx="491.7" cy="343.5" r="2.6"/>
<circle cx="433.2" cy="363.3" r="2.6"/>
<circle cx="438.5" cy="393.8" r="2.6"/>
<circle cx="466.2" cy="356.5" r="2.6"/>
<circle cx="451.0" cy="354.8" r="2.6"/>
<circle cx="391.1" cy="407.0" r="2.6"/>
<circle cx="438.6" cy="398.0" r="2.6"/>
<circle cx="507.9" cy="366.9" r="2.6"/>
<circle cx="416.0" cy="359.7" r="2.6"/>
<circle cx="513.9" cy="313.1" r="2.6"/>
<circle cx="433.6" cy="347.9" r="2.6"/>
<circle cx="407.7" cy="379.9" r="2.6"/>
<circle cx="511.9" cy="364.2" r="2.6"/>
<circle cx="406.9" cy="383.6" r="2.6"/>
<circle cx="503.8" cy="341.0" r="2.6"/>
<circle cx="512.4" cy="354.5" r="2.6"/>
<circle cx="437.6" cy="397.9" r="2.6"/>
<circle cx="424.7" cy="349.3" r="2.6"/>
<circle cx="398.6" cy="413.9" r="2.6"/>
<circle cx="434.4" cy="399.9" r="2.6"/>
<circle cx="429.1" cy="400.6" r="2.6"/>
<circle cx="405.2" cy="396.0" r="2.6"/>
<circle cx="459.4" cy="371.9" r="2.6"/>
<circle cx="488.2" cy="362.7" r="2.6"/>
<circle cx="512.1" cy="365.7" r="2.6"/>
<circle cx="418.2" cy="406.8" r="2.6"/>
<circle cx="429.4" cy="367.4" r="2.6"/>
<circle cx="509.2" cy="353.4" r="2.6"/>
<circle cx="410.1" cy="404.4" r="2.6"/>
<circle cx="463.0" cy="383.2" r="2.6"/>
<circle cx="492.1" cy="325.1" r="2.6"/>
<circle cx="448.9" cy="373.6" r="2.6"/>
<circle cx="499.0" cy="360.9" r="2.6"/>
<circle cx="414.0" cy="352.4" r="2.6"/>
<circle cx="516.1" cy="364.2" r="2.6"/>
<circle cx="488.2" cy="368.7" r="2.6"/>
<circle cx="396.0" cy="415.5" r="2.6"/>
<circle cx="411.7" cy="376.3" r="2.6"/>
<circle cx="416.7" cy="407.7" r="2.6"/>
<circle cx="417.8" cy="367.7" r="2.6"/>
<circle cx="454.0" cy="368.0" r="2.6"/>
<circle cx="449.6" cy="391.7" r="2.6"/>
<circle cx="391.3" cy="414.6" r="2.6"/>
<circle cx="394.7" cy="414.0" r="2.6"/>
<circle cx="469.5" cy="377.9" r="2.6"/>
<circle cx="450.6" cy="371.4" r="2.6"/>
<circle cx="430.4" cy="394.7" r="2.6"/>
<circle cx="503.9" cy="351.6" r="2.6"/>
<circle cx="443.4" cy="379.9" r="2.6"/>
<circle cx="449.0" cy="387.9" r="2.6"/>
<circle cx="507.8" cy="365.2" r="2.6"/>
<circle cx="510.7" cy="324.3" r="2.6"/>
<circle cx="503.7" cy="368.4" r="2.6"/>
<circle cx="455.3" cy="335.6" r="2.6"/>
<circle cx="426.7" cy="401.8" r="2.6"/>
<circle cx="483.1" cy="376.1" r="2.6"/>
<circle cx="465.0" cy="385.5" r="2.6"/>
<circle cx="512.2" cy="361.7" r="2.6"/>
<circle cx="401.9" cy="384.7" r="2.6"/>
<circle cx="434.3" cy="382.1" r="2.6"/>
<circle cx="453.8" cy="343.1" r="2.6"/>
<circle cx="456.0" cy="383.1" r="2.6"/>
<circle cx="389.5" cy="408.3" r="2.6"/>
<circle cx="424.2" cy="384.9" r="2.6"/>
<circle cx="471.3" cy="373.1" r="2.6"/>
<circle cx="401.0" cy="399.7" r="2.6"/>
<circle cx="451.8" cy="369.7" r="2.6"/>
<circle cx="515.1" cy="360.5" r="2.6"/>
<circle cx="446.7" cy="394.3" r="2.6"/>
<circle cx="493.0" cy="371.8" r="2.6"/>
<circle cx="496.8" cy="339.6" r="2.6"/>
<circle cx="422.3" cy="354.4" r="2.6"/>
<circle cx="454.7" cy="381.6" r="2.6"/>
<circle cx="461.3" cy="338.3" r="2.6"/>
<circle cx="452.8" cy="379.5" r="2.6"/>
<circle cx="427.0" cy="359.9" r="2.6"/>
<circle cx="454.5" cy="385.2" r="2.6"/>
<circle cx="414.8" cy="406.1" r="2.6"/>
<circle cx="497.5" cy="338.7" r="2.6"/>
<circle cx="516.2" cy="312.9" r="2.6"/>
<circle cx="478.2" cy="347.3" r="2.6"/>
<circle cx="481.6" cy="344.9" r="2.6"/>
<circle cx="493.2" cy="372.9" r="2.6"/>
<circle cx="495.0" cy="369.2" r="2.6"/>
<circle cx="421.0" cy="352.9" r="2.6"/>
<circle cx="392.3" cy="405.4" r="2.6"/>
<circle cx="433.8" cy="362.9" r="2.6"/>
<circle cx="468.5" cy="339.9" r="2.6"/>
<circle cx="510.2" cy="343.4" r="2.6"/>
<circle cx="397.7" cy="389.8" r="2.6"/>
<circle cx="403.5" cy="351.2" r="2.6"/>
<circle cx="502.3" cy="365.5" r="2.6"/>
<circle cx="413.4" cy="379.5" r="2.6"/>
<circle cx="487.6" cy="325.3" r="2.6"/>
<circle cx="470.1" cy="383.7" r="2.6"/>
<circle cx="483.6" cy="378.4" r="2.6"/>
<circle cx="501.8" cy="338.7" r="2.6"/>
<circle cx="491.2" cy="335.4" r="2.6"/>
<circle cx="463.1" cy="338.0" r="2.6"/>
<circle cx="472.2" cy="371.2" r="2.6"/>
<circle cx="439.2" cy="391.2" r="2.6"/>
<circle cx="392.3" cy="417.3" r="2.6"/>
<circle cx="492.5" cy="372.2" r="2.6"/>
<circle cx="474.1" cy="350.8" r="2.6"/>
<circle cx="479.4" cy="366.9" r="2.6"/>
<circle cx="430.3" cy="397.8" r="2.6"/>
<circle cx="413.6" cy="383.5" r="2.6"/>
<circle cx="478.3" cy="333.2" r="2.6"/>
<circle cx="432.2" cy="348.7" r="2.6"/>
<circle cx="507.5" cy="363.7" r="2.6"/>
<circle cx="512.8" cy="343.8" r="2.6"/>
<circle cx="514.1" cy="329.7" r="2.6"/>
<circle cx="432.5" cy="396.6" r="2.6"/>
<circle cx="457.1" cy="377.5" r="2.6"/>
<circle cx="393.9" cy="376.8" r="2.6"/>
<circle cx="458.7" cy="377.6" r="2.6"/>
<circle cx="485.9" cy="374.6" r="2.6"/>
<circle cx="415.1" cy="388.1" r="2.6"/>
<circle cx="420.6" cy="400.0" r="2.6"/>
<circle cx="398.4" cy="415.7" r="2.6"/>
<circle cx="435.4" cy="383.8" r="2.6"/>
<circle cx="512.4" cy="342.5" r="2.6"/>
<circle cx="443.0" cy="387.3" r="2.6"/>
<circle cx="419.8" cy="393.2" r="2.6"/>
<circle cx="513.7" cy="364.6" r="2.6"/>
<circle cx="445.5" cy="368.6" r="2.6"/>
<circle cx="488.2" cy="361.1" r="2.6"/>
<circle cx="472.5" cy="335.7" r="2.6"/>
<circle cx="506.4" cy="365.4" r="2.6"/>
<circle cx="459.5" cy="332.9" r="2.6"/>
<circle cx="457.7" cy="388.1" r="2.6"/>
<circle cx="488.7" cy="376.1" r="2.6"/>
<circle cx="408.8" cy="392.8" r="2.6"/>
<circle cx="424.6" cy="372.8" r="2.6"/>
<circle cx="483.6" cy="373.6" r="2.6"/>
<circle cx="488.8" cy="354.9" r="2.6"/>
<circle cx="480.9" cy="369.3" r="2.6"/>
<circle cx="445.4" cy="394.7" r="2.6"/>
<circle cx="450.9" cy="340.4" r="2.6"/>
<circle cx="504.5" cy="369.2" r="2.6"/>
<circle cx="398.5" cy="411.7" r="2.6"/>
<circle cx="479.4" cy="370.8" r="2.6"/>
<circle cx="405.9" cy="401.8" r="2.6"/>
<circle cx="463.6" cy="357.2" r="2.6"/>
<circle cx="441.6" cy="372.8" r="2.6"/>
<circle cx="477.7" cy="361.6" r="2.6"/>
<circle cx="395.3" cy="388.8" r="2.6"/>
<circle cx="406.0" cy="412.3" r="2.6"/>
<circle cx="450.7" cy="392.9" r="2.6"/>
<circle cx="398.7" cy="406.8" r="2.6"/>
<circle cx="450.1" cy="392.6" r="2.6"/>
<circle cx="513.0" cy="322.6" r="2.6"/>
<circle cx="452.4" cy="373.3" r="2.6"/>
<circle cx="430.2" cy="342.3" r="2.6"/>
<circle cx="404.8" cy="407.6" r="2.6"/>
<circle cx="417.9" cy="360.4" r="2.6"/>
<circle cx="455.3" cy="382.1" r="2.6"/>
<circle cx="441.0" cy="350.8" r="2.6"/>
<circle cx="422.7" cy="366.6" r="2.6"/>
<circle cx="481.1" cy="369.6" r="2.6"/>
<circle cx="436.7" cy="388.4" r="2.6"/>
<circle cx="448.1" cy="388.9" r="2.6"/>
<circle cx="470.2" cy="375.9" r="2.6"/>
<circle cx="428.7" cy="366.5" r="2.6"/>
<circle cx="448.3" cy="381.8" r="2.6"/>
<circle cx="503.4" cy="359.1" r="2.6"/>
<circle cx="438.1" cy="350.4" r="2.6"/>
<circle cx="515.9" cy="327.3" r="2.6"/>
<circle cx="441.4" cy="371.2" r="2.6"/>
<circle cx="485.4" cy="373.6" r="2.6"/>
<circle cx="483.2" cy="330.7" r="2.6"/>
<circle cx="474.3" cy="359.2" r="2.6"/>
<circle cx="445.7" cy="371.1" r="2.6"/>
<circle cx="418.6" cy="370.3" r="2.6"/>
<circle cx="459.2" cy="335.0" r="2.6"/>
<circle cx="433.6" cy="370.5" r="2.6"/>
<circle cx="391.5" cy="410.5" r="2.6"/>
<circle cx="488.7" cy="373.1" r="2.6"/>
<circle cx="468.9" cy="382.6" r="2.6"/>
<circle cx="441.0" cy="338.3" r="2.6"/>
<circle cx="414.8" cy="356.0" r="2.6"/>
<circle cx="397.0" cy="396.9" r="2.6"/>
<circle cx="495.8" cy="336.9" r="2.6"/>
<circle cx="440.0" cy="377.8" r="2.6"/>
<circle cx="481.7" cy="349.1" r="2.6"/>
<circle cx="486.1" cy="360.5" r="2.6"/>
<circle cx="421.9" cy="375.2" r="2.6"/>
<circle cx="462.1" cy="372.3" r="2.6"/>
<circle cx="517.3" cy="362.8" r="2.6"/>
<circle cx="490.5" cy="370.5" r="2.6"/>
<circle cx="483.5" cy="330.5" r="2.6"/>
<circle cx="424.9" cy="385.1" r="2.6"/>
<circle cx="457.8" cy="376.8" r="2.6"/>
<circle cx="411.0" cy="386.4" r="2.6"/>
<circle cx="505.2" cy="345.1" r="2.6"/>
<circle cx="426.8" cy="363.7" r="2.6"/>
<circle cx="443.8" cy="394.9" r="2.6"/>
<circle cx="467.9" cy="374.6" r="2.6"/>
<circle cx="458.0" cy="334.1" r="2.6"/>
<circle cx="463.2" cy="336.9" r="2.6"/>
<circle cx="435.0" cy="365.7" r="2.6"/>
<circle cx="399.1" cy="410.4" r="2.6"/>
<circle cx="479.0" cy="355.8" r="2.6"/>
<circle cx="496.7" cy="365.8" r="2.6"/>
<circle cx="424.8" cy="397.0" r="2.6"/>
<circle cx="459.0" cy="389.2" r="2.6"/>
<circle cx="437.9" cy="373.6" r="2.6"/>
<circle cx="408.6" cy="405.8" r="2.6"/>
<circle cx="502.5" cy="322.1" r="2.6"/>
<circle cx="421.7" cy="403.9" r="2.6"/>
<circle cx="404.6" cy="412.7" r="2.6"/>
<circle cx="492.3" cy="346.8" r="2.6"/>
<circle cx="423.6" cy="390.7" r="2.6"/>
<circle cx="479.5" cy="380.3" r="2.6"/>
<circle cx="495.5" cy="335.0" r="2.6"/>
<circle cx="416.7" cy="377.4" r="2.6"/>
<circle cx="480.0" cy="374.6" r="2.6"/>
<circle cx="503.2" cy="367.6" r="2.6"/>
<circle cx="450.8" cy="387.8" r="2.6"/>
<circle cx="446.6" cy="356.9" r="2.6"/>
<circle cx="463.2" cy="367.7" r="2.6"/>
<circle cx="517.3" cy="361.1" r="2.6"/>
<circle cx="418.2" cy="383.9" r="2.6"/>
<circle cx="408.8" cy="351.7" r="2.6"/>
<circle cx="433.6" cy="389.5" r="2.6"/>
<circle cx="445.2" cy="355.8" r="2.6"/>
<circle cx="508.0" cy="342.2" r="2.6"/>
<circle cx="411.5" cy="402.7" r="2.6"/>
<circle cx="480.9" cy="377.5" r="2.6"/>
<circle cx="503.8" cy="327.5" r="2.6"/>
<circle cx="418.7" cy="399.3" r="2.6"/>
<circle cx="419.0" cy="375.1" r="2.6"/>
<circle cx="395.4" cy="390.0" r="2.6"/>
<circle cx="397.4" cy="373.7" r="2.6"/>
<circle cx="459.8" cy="370.8" r="2.6"/>
<circle cx="401.6" cy="414.3" r="2.6"/>
<circle cx="435.1" cy="340.9" r="2.6"/>
<circle cx="467.1" cy="345.3" r="2.6"/>
<circle cx="397.4" cy="415.7" r="2.6"/>
<circle cx="392.0" cy="393.7" r="2.6"/>
<circle cx="412.2" cy="405.6" r="2.6"/>
<circle cx="475.8" cy="356.6" r="2.6"/>
<circle cx="431.1" cy="389.0" r="2.6"/>
<circle cx="426.8" cy="384.8" r="2.6"/>
<circle cx="435.5" cy="392.5" r="2.6"/>
<circle cx="421.6" cy="400.9" r="2.6"/>
<circle cx="423.1" cy="404.9" r="2.6"/>
<circle cx="429.6" cy="381.6" r="2.6"/>
<circle cx="424.1" cy="403.9" r="2.6"/>
<circle cx="499.0" cy="360.7" r="2.6"/>
<circle cx="455.7" cy="385.8" r="2.6"/>
<circle cx="504.4" cy="338.2" r="2.6"/>
<circle cx="470.1" cy="361.6" r="2.6"/>
<circle cx="479.1" cy="367.9" r="2.6"/>
<circle cx="442.9" cy="388.1" r="2.6"/>
<circle cx="454.7" cy="379.5" r="2.6"/>
<circle cx="457.9" cy="374.6" r="2.6"/>
<circle cx="491.6" cy="333.5" r="2.6"/>
<circle cx="418.3" cy="407.0" r="2.6"/>
<circle cx="428.3" cy="402.6" r="2.6"/>
<circle cx="492.6" cy="355.2" r="2.6"/>
<circle cx="426.3" cy="401.6" r="2.6"/>
<circle cx="502.0" cy="332.4" r="2.6"/>
<circle cx="478.0" cy="356.1" r="2.6"/>
<circle cx="485.9" cy="367.3" r="2.6"/>
<circle cx="440.8" cy="380.0" r="2.6"/>
<circle cx="503.5" cy="314.8" r="2.6"/>
<circle cx="508.2" cy="327.9" r="2.6"/>
<circle cx="398.9" cy="412.2" r="2.6"/>
<circle cx="515.2" cy="347.7" r="2.6"/>
<circle cx="456.1" cy="385.7" r="2.6"/>
<circle cx="501.1" cy="357.1" r="2.6"/>
<circle cx="517.7" cy="363.3" r="2.6"/>
<circle cx="518.1" cy="363.4" r="2.6"/>
<circle cx="408.5" cy="402.5" r="2.6"/>
<circle cx="472.2" cy="382.9" r="2.6"/>
<circle cx="462.2" cy="338.7" r="2.6"/>
<circle cx="445.8" cy="361.9" r="2.6"/>
<circle cx="466.1" cy="368.4" r="2.6"/>
<circle cx="411.8" cy="397.2" r="2.6"/>
<circle cx="506.1" cy="343.7" r="2.6"/>
<circle cx="417.4" cy="395.8" r="2.6"/>
<circle cx="459.8" cy="383.2" r="2.6"/>
<circle cx="464.2" cy="365.8" r="2.6"/>
<circle cx="391.6" cy="416.6" r="2.6"/>
<circle cx="474.5" cy="380.3" r="2.6"/>
<circle cx="398.7" cy="380.0" r="2.6"/>
<circle cx="432.6" cy="344.9" r="2.6"/>
<circle cx="461.8" cy="387.6" r="2.6"/>
<circle cx="471.9" cy="380.3" r="2.6"/>
<circle cx="494.9" cy="346.9" r="2.6"/>
<circle cx="487.7" cy="376.6" r="2.6"/>
<circle cx="393.7" cy="383.2" r="2.6"/>
<circle cx="407.5" cy="409.5" r="2.6"/>
<circle cx="393.2" cy="416.8" r="2.6"/>
<circle cx="450.7" cy="340.0" r="2.6"/>
<circle cx="431.0" cy="397.9" r="2.6"/>
<circle cx="496.7" cy="371.2" r="2.6"/>
<circle cx="471.7" cy="364.1" r="2.6"/>
<circle cx="510.6" cy="366.6" r="2.6"/>
<circle cx="462.3" cy="380.3" r="2.6"/>
<circle cx="496.1" cy="370.1" r="2.6"/>
<circle cx="482.0" cy="377.6" r="2.6"/>
<circle cx="453.5" cy="338.0" r="2.6"/>
<circle cx="420.4" cy="401.8" r="2.6"/>
<circle cx="508.3" cy="342.3" r="2.6"/>
<circle cx="397.8" cy="414.2" r="2.6"/>
<circle cx="420.1" cy="401.6" r="2.6"/>
<circle cx="498.8" cy="346.2" r="2.6"/>
<circle cx="516.4" cy="337.6" r="2.6"/>
<circle cx="470.7" cy="376.8" r="2.6"/>
<circle cx="482.3" cy="366.9" r="2.6"/>
<circle cx="396.9" cy="402.8" r="2.6"/>
<circle cx="439.1" cy="382.1" r="2.6"/>
<circle cx="395.6" cy="417.0" r="2.6"/>
<circle cx="516.8" cy="356.2" r="2.6"/>
<circle cx="432.1" cy="399.9" r="2.6"/>
<circle cx="466.1" cy="340.2" r="2.6"/>
<circle cx="412.7" cy="394.6" r="2.6"/>
<circle cx="454.1" cy="358.7" r="2.6"/>
<circle cx="462.6" cy="384.9" r="2.6"/>
<circle cx="413.9" cy="376.6" r="2.6"/>
<circle cx="399.4" cy="368.0" r="2.6"/>
<circle cx="393.6" cy="416.2" r="2.6"/>
<circle cx="450.0" cy="352.6" r="2.6"/>
<circle cx="469.7" cy="355.0" r="2.6"/>
<circle cx="488.0" cy="349.8" r="2.6"/>
<circle cx="396.0" cy="377.4" r="2.6"/>
<circle cx="408.5" cy="410.0" r="2.6"/>
<circle cx="394.2" cy="417.6" r="2.6"/>
<circle cx="503.0" cy="362.6" r="2.6"/>
<circle cx="400.5" cy="414.7" r="2.6"/>
<circle cx="499.1" cy="353.1" r="2.6"/>
<circle cx="508.1" cy="367.7" r="2.6"/>
<circle cx="403.9" cy="408.7" r="2.6"/>
<circle cx="414.1" cy="408.3" r="2.6"/>
<circle cx="415.3" cy="383.4" r="2.6"/>
<circle cx="411.1" cy="408.7" r="2.6"/>
<circle cx="458.8" cy="382.1" r="2.6"/>
<circle cx="408.7" cy="391.7" r="2.6"/>
<circle cx="455.2" cy="383.1" r="2.6"/>
<circle cx="450.8" cy="392.8" r="2.6"/>
<circle cx="469.1" cy="383.1" r="2.6"/>
<circle cx="432.8" cy="400.7" r="2.6"/>
<circle cx="504.4" cy="350.9" r="2.6"/>
<circle cx="440.2" cy="381.0" r="2.6"/>
<circle cx="511.2" cy="365.6" r="2.6"/>
<circle cx="439.0" cy="369.0" r="2.6"/>
<circle cx="437.6" cy="369.6" r="2.6"/>
<circle cx="507.1" cy="368.1" r="2.6"/>
<circle cx="426.2" cy="398.9" r="2.6"/>
<circle cx="486.6" cy="345.2" r="2.6"/>
<circle cx="480.0" cy="334.4" r="2.6"/>
<circle cx="413.4" cy="400.2" r="2.6"/>
<circle cx="499.9" cy="340.3" r="2.6"/>
<circle cx="403.9" cy="351.4" r="2.6"/>
<circle cx="485.3" cy="338.3" r="2.6"/>
<circle cx="436.3" cy="378.1" r="2.6"/>
<circle cx="513.6" cy="317.1" r="2.6"/>
<circle cx="464.1" cy="343.4" r="2.6"/>
<circle cx="518.9" cy="319.7" r="2.6"/>
<circle cx="474.4" cy="332.7" r="2.6"/>
<circle cx="407.9" cy="402.0" r="2.6"/>
<circle cx="462.5" cy="386.9" r="2.6"/>
<circle cx="490.6" cy="375.3" r="2.6"/>
<circle cx="470.8" cy="380.3" r="2.6"/>
<circle cx="431.2" cy="379.9" r="2.6"/>
<circle cx="414.1" cy="397.1" r="2.6"/>
<circle cx="500.5" cy="317.9" r="2.6"/>
<circle cx="423.3" cy="397.2" r="2.6"/>
<circle cx="479.3" cy="378.7" r="2.6"/>
<circle cx="499.4" cy="369.7" r="2.6"/>
<circle cx="461.5" cy="382.4" r="2.6"/>
<circle cx="389.4" cy="419.7" r="2.6"/>
<circle cx="389.5" cy="414.9" r="2.6"/>
<circle cx="425.0" cy="342.6" r="2.6"/>
<circle cx="472.0" cy="383.4" r="2.6"/>
<circle cx="482.2" cy="376.6" r="2.6"/>
<circle cx="451.7" cy="363.3" r="2.6"/>
<circle cx="500.4" cy="323.6" r="2.6"/>
<circle cx="443.9" cy="390.5" r="2.6"/>
<circle cx="440.8" cy="392.0" r="2.6"/>
<circle cx="485.5" cy="367.1" r="2.6"/>
<circle cx="478.2" cy="379.8" r="2.6"/>
<circle cx="490.8" cy="326.1" r="2.6"/>
<circle cx="415.6" cy="385.2" r="2.6"/>
<circle cx="410.3" cy="410.5" r="2.6"/>
<circle cx="443.0" cy="394.6" r="2.6"/>
<circle cx="484.1" cy="361.7" r="2.6"/>
<circle cx="476.8" cy="331.0" r="2.6"/>
<circle cx="396.8" cy="416.0" r="2.6"/>
<circle cx="393.9" cy="406.8" r="2.6"/>
<circle cx="496.2" cy="349.2" r="2.6"/>
<circle cx="460.3" cy="348.0" r="2.6"/>
<circle cx="437.6" cy="398.0" r="2.6"/>
<circle cx="472.5" cy="383.3" r="2.6"/>
<circle cx="419.0" cy="406.7" r="2.6"/>
<circle cx="410.3" cy="410.4" r="2.6"/>
<circle cx="458.2" cy="388.8" r="2.6"/>
<circle cx="467.6" cy="348.8" r="2.6"/>
<circle cx="434.0" cy="399.5" r="2.6"/>
<circle cx="476.4" cy="353.8" r="2.6"/>
<circle cx="504.0" cy="353.3" r="2.6"/>
<circle cx="464.8" cy="345.9" r="2.6"/>
<circle cx="477.1" cy="330.1" r="2.6"/>
<circle cx="426.5" cy="367.0" r="2.6"/>
<circle cx="471.4" cy="372.7" r="2.6"/>
<circle cx="390.7" cy="408.4" r="2.6"/>
<circle cx="423.5" cy="383.2" r="2.6"/>
<circle cx="455.4" cy="376.9" r="2.6"/>
<circle cx="396.9" cy="415.6" r="2.6"/>
<circle cx="468.0" cy="360.7" r="2.6"/>
<circle cx="517.8" cy="325.3" r="2.6"/>
<circle cx="426.9" cy="391.3" r="2.6"/>
<circle cx="454.9" cy="354.9" r="2.6"/>
<circle cx="440.5" cy="347.2" r="2.6"/>
<circle cx="452.1" cy="384.0" r="2.6"/>
<circle cx="451.5" cy="385.9" r="2.6"/>
<circle cx="519.0" cy="362.9" r="2.6"/>
<circle cx="441.1" cy="396.8" r="2.6"/>
<circle cx="477.2" cy="380.3" r="2.6"/>
<circle cx="408.6" cy="400.7" r="2.6"/>
<circle cx="467.4" cy="354.3" r="2.6"/>
<circle cx="446.9" cy="390.0" r="2.6"/>
<circle cx="437.0" cy="351.8" r="2.6"/>
<circle cx="416.9" cy="407.6" r="2.6"/>
<circle cx="504.2" cy="357.3" r="2.6"/>
<circle cx="406.4" cy="411.3" r="2.6"/>
<circle cx="504.8" cy="338.4" r="2.6"/>
<circle cx="397.6" cy="389.2" r="2.6"/>
<circle cx="417.0" cy="396.0" r="2.6"/>
<circle cx="467.8" cy="385.3" r="2.6"/>
<circle cx="510.6" cy="360.7" r="2.6"/>
<circle cx="408.0" cy="373.4" r="2.6"/>
<circle cx="403.4" cy="413.5" r="2.6"/>
<circle cx="473.9" cy="371.6" r="2.6"/>
<circle cx="506.1" cy="333.7" r="2.6"/>
<circle cx="416.1" cy="407.9" r="2.6"/>
<circle cx="467.6" cy="374.2" r="2.6"/>
<circle cx="428.3" cy="351.0" r="2.6"/>
<circle cx="416.3" cy="382.8" r="2.6"/>
<circle cx="398.8" cy="362.1" r="2.6"/>
<circle cx="512.4" cy="344.1" r="2.6"/>
<circle cx="430.8" cy="370.3" r="2.6"/>
<circle cx="506.5" cy="333.1" r="2.6"/>
<circle cx="394.6" cy="403.9" r="2.6"/>
<circle cx="407.4" cy="393.7" r="2.6"/>
<circle cx="512.5" cy="321.6" r="2.6"/>
<circle cx="421.6" cy="387.5" r="2.6"/>
<circle cx="430.5" cy="400.3" r="2.6"/>
<circle cx="485.8" cy="347.7" r="2.6"/>
<circle cx="433.0" cy="390.7" r="2.6"/>
<circle cx="479.6" cy="352.6" r="2.6"/>
<circle cx="449.4" cy="392.8" r="2.6"/>
<circle cx="401.7" cy="412.8" r="2.6"/>
<circle cx="496.5" cy="360.7" r="2.6"/>
<circle cx="472.9" cy="376.6" r="2.6"/>
<circle cx="437.1" cy="397.2" r="2.6"/>
<circle cx="515.7" cy="343.0" r="2.6"/>
<circle cx="406.0" cy="381.7" r="2.6"/>
<circle cx="466.8" cy="366.0" r="2.6"/>
<circle cx="489.2" cy="357.4" r="2.6"/>
<circle cx="503.0" cy="317.7" r="2.6"/>
<circle cx="442.0" cy="372.8" r="2.6"/>
<circle cx="437.8" cy="389.2" r="2.6"/>
<circle cx="436.8" cy="374.7" r="2.6"/>
<circle cx="435.0" cy="393.0" r="2.6"/>
<circle cx="499.1" cy="337.8" r="2.6"/>
<circle cx="477.0" cy="343.6" r="2.6"/>
<circle cx="439.4" cy="374.2" r="2.6"/>
<circle cx="421.9" cy="399.9" r="2.6"/>
<circle cx="402.3" cy="373.6" r="2.6"/>
<circle cx="508.8" cy="362.7" r="2.6"/>
<circle cx="438.4" cy="397.6" r="2.6"/>
<circle cx="407.7" cy="386.6" r="2.6"/>
<circle cx="505.0" cy="368.8" r="2.6"/>
<circle cx="422.3" cy="370.0" r="2.6"/>
<circle cx="418.6" cy="358.8" r="2.6"/>
<circle cx="435.1" cy="387.1" r="2.6"/>
<circle cx="415.4" cy="403.6" r="2.6"/>
<circle cx="444.4" cy="391.6" r="2.6"/>
<circle cx="483.9" cy="378.3" r="2.6"/>
<circle cx="472.1" cy="349.2" r="2.6"/>
<circle cx="431.6" cy="399.3" r="2.6"/>
<circle cx="404.8" cy="412.7" r="2.6"/>
<circle cx="492.0" cy="356.6" r="2.6"/>
<circle cx="391.3" cy="409.0" r="2.6"/>
<circle cx="466.9" cy="380.7" r="2.6"/>
<circle cx="393.8" cy="408.7" r="2.6"/>
<circle cx="435.2" cy="342.5" r="2.6"/>
<circle cx="436.0" cy="348.2" r="2.6"/>
<circle cx="501.9" cy="353.2" r="2.6"/>
<circle cx="405.6" cy="371.4" r="2.6"/>
<circle cx="401.0" cy="395.6" r="2.6"/>
<circle cx="401.9" cy="413.8" r="2.6"/>
<circle cx="442.5" cy="395.2" r="2.6"/>
<circle cx="518.0" cy="343.7" r="2.6"/>
<circle cx="505.7" cy="317.0" r="2.6"/>
<circle cx="487.6" cy="355.5" r="2.6"/>
<circle cx="450.6" cy="358.8" r="2.6"/>
<circle cx="476.1" cy="380.6" r="2.6"/>
<circle cx="458.0" cy="380.8" r="2.6"/>
<circle cx="456.2" cy="362.5" r="2.6"/>
<circle cx="478.7" cy="364.1" r="2.6"/>
<circle cx="491.6" cy="339.8" r="2.6"/>
<circle cx="401.3" cy="413.4" r="2.6"/>
<circle cx="395.4" cy="415.8" r="2.6"/>
<circle cx="513.7" cy="360.2" r="2.6"/>
<circle cx="446.2" cy="383.1" r="2.6"/>
<circle cx="462.5" cy="383.9" r="2.6"/>
<circle cx="490.3" cy="370.3" r="2.6"/>
<circle cx="499.0" cy="337.6" r="2.6"/>
<circle cx="389.4" cy="405.8" r="2.6"/>
<circle cx="401.4" cy="364.4" r="2.6"/>
<circle cx="398.3" cy="411.9" r="2.6"/>
<circle cx="489.0" cy="358.6" r="2.6"/>
<circle cx="475.8" cy="373.4" r="2.6"/>
<circle cx="456.8" cy="388.2" r="2.6"/>
<circle cx="449.3" cy="390.2" r="2.6"/>
<circle cx="476.9" cy="380.9" r="2.6"/>
<circle cx="407.1" cy="409.8" r="2.6"/>
<circle cx="458.4" cy="371.4" r="2.6"/>
<circle cx="389.7" cy="371.4" r="2.6"/>
<circle cx="497.6" cy="365.3" r="2.6"/>
<circle cx="409.9" cy="367.8" r="2.6"/>
<circle cx="516.0" cy="362.7" r="2.6"/>
<circle cx="487.4" cy="342.0" r="2.6"/>
<circle cx="510.9" cy="364.3" r="2.6"/>
<circle cx="404.9" cy="411.5" r="2.6"/>
<circle cx="419.3" cy="355.9" r="2.6"/>
<circle cx="507.3" cy="356.1" r="2.6"/>
<circle cx="405.8" cy="405.3" r="2.6"/>
<circle cx="420.6" cy="380.6" r="2.6"/>
<circle cx="482.7" cy="347.5" r="2.6"/>
<circle cx="446.0" cy="383.6" r="2.6"/>
<circle cx="450.0" cy="386.0" r="2.6"/>
<circle cx="448.3" cy="367.6" r="2.6"/>
<circle cx="481.6" cy="374.3" r="2.6"/>
<circle cx="462.8" cy="386.6" r="2.6"/>
<circle cx="395.2" cy="409.3" r="2.6"/>
<circle cx="435.9" cy="399.3" r="2.6"/>
<circle cx="399.6" cy="404.5" r="2.6"/>
<circle cx="511.5" cy="325.3" r="2.6"/>
<circle cx="393.2" cy="413.1" r="2.6"/>
<circle cx="437.1" cy="393.6" r="2.6"/>
<circle cx="407.1" cy="390.7" r="2.6"/>
<circle cx="498.1" cy="365.0" r="2.6"/>
<circle cx="412.2" cy="409.2" r="2.6"/>
<circle cx="391.3" cy="389.3" r="2.6"/>
<circle cx="419.2" cy="374.5" r="2.6"/>
<circle cx="491.9" cy="374.6" r="2.6"/>
<circle cx="413.8" cy="403.4" r="2.6"/>
<circle cx="489.0" cy="348.2" r="2.6"/>
<circle cx="428.6" cy="390.9" r="2.6"/>
<circle cx="435.3" cy="387.1" r="2.6"/>
<circle cx="492.2" cy="371.6" r="2.6"/>
<circle cx="494.4" cy="329.7" r="2.6"/>
<circle cx="467.2" cy="335.1" r="2.6"/>
<circle cx="511.0" cy="365.1" r="2.6"/>
<circle cx="517.9" cy="361.3" r="2.6"/>
<circle cx="493.7" cy="373.5" r="2.6"/>
<circle cx="428.6" cy="391.4" r="2.6"/>
<circle cx="498.1" cy="348.2" r="2.6"/>
<circle cx="415.7" cy="357.4" r="2.6"/>
<circle cx="501.5" cy="357.2" r="2.6"/>
<circle cx="395.9" cy="412.7" r="2.6"/>
<circle cx="427.2" cy="393.1" r="2.6"/>
<circle cx="511.6" cy="346.2" r="2.6"/>
<circle cx="495.6" cy="373.0" r="2.6"/>
<circle cx="421.1" cy="373.1" r="2.6"/>
<circle cx="433.5" cy="397.7" r="2.6"/>
<circle cx="397.5" cy="416.1" r="2.6"/>
<circle cx="442.8" cy="379.7" r="2.6"/>
<circle cx="441.2" cy="379.1" r="2.6"/>
<circle cx="427.0" cy="403.2" r="2.6"/>
<circle cx="476.8" cy="376.0" r="2.6"/>
<circle cx="544.6" cy="365.0" r="2.6"/>
<circle cx="528.8" cy="361.7" r="2.6"/>
<circle cx="530.7" cy="367.1" r="2.6"/>
<circle cx="517.7" cy="366.2" r="2.6"/>
<circle cx="543.8" cy="354.7" r="2.6"/>
<circle cx="572.2" cy="352.8" r="2.6"/>
<circle cx="541.2" cy="372.9" r="2.6"/>
<circle cx="511.2" cy="370.1" r="2.6"/>
<circle cx="565.6" cy="366.6" r="2.6"/>
<circle cx="544.7" cy="363.6" r="2.6"/>
<circle cx="563.1" cy="365.0" r="2.6"/>
<circle cx="566.1" cy="384.2" r="2.6"/>
<circle cx="573.3" cy="371.8" r="2.6"/>
<circle cx="557.6" cy="364.7" r="2.6"/>
<circle cx="547.6" cy="373.9" r="2.6"/>
<circle cx="547.0" cy="388.3" r="2.6"/>
<circle cx="570.7" cy="343.4" r="2.6"/>
<circle cx="563.2" cy="371.6" r="2.6"/>
<circle cx="552.2" cy="393.6" r="2.6"/>
<circle cx="513.0" cy="379.9" r="2.6"/>
<circle cx="536.3" cy="397.8" r="2.6"/>
<circle cx="521.2" cy="380.4" r="2.6"/>
<circle cx="519.8" cy="389.5" r="2.6"/>
<circle cx="544.4" cy="383.5" r="2.6"/>
<circle cx="531.4" cy="394.4" r="2.6"/>
<circle cx="510.0" cy="373.2" r="2.6"/>
<circle cx="561.8" cy="390.5" r="2.6"/>
<circle cx="565.0" cy="352.8" r="2.6"/>
<circle cx="515.3" cy="388.9" r="2.6"/>
<circle cx="561.7" cy="347.6" r="2.6"/>
<circle cx="576.2" cy="355.3" r="2.6"/>
<circle cx="511.9" cy="380.5" r="2.6"/>
<circle cx="533.6" cy="360.5" r="2.6"/>
<circle cx="572.7" cy="386.2" r="2.6"/>
<circle cx="518.3" cy="376.7" r="2.6"/>
<circle cx="529.0" cy="383.4" r="2.6"/>
<circle cx="517.3" cy="373.3" r="2.6"/>
<circle cx="538.8" cy="371.2" r="2.6"/>
<circle cx="540.6" cy="376.7" r="2.6"/>
<circle cx="576.6" cy="372.8" r="2.6"/>
<circle cx="574.3" cy="377.8" r="2.6"/>
<circle cx="525.8" cy="367.3" r="2.6"/>
<circle cx="542.3" cy="378.7" r="2.6"/>
<circle cx="552.8" cy="360.9" r="2.6"/>
<circle cx="580.3" cy="343.3" r="2.6"/>
<circle cx="510.9" cy="370.0" r="2.6"/>
<circle cx="524.4" cy="387.4" r="2.6"/>
<circle cx="569.5" cy="343.8" r="2.6"/>
<circle cx="526.4" cy="367.0" r="2.6"/>
<circle cx="565.6" cy="389.0" r="2.6"/>
<circle cx="528.3" cy="362.7" r="2.6"/>
<circle cx="578.5" cy="364.5" r="2.6"/>
<circle cx="560.6" cy="364.4" r="2.6"/>
<circle cx="562.8" cy="381.8" r="2.6"/>
<circle cx="545.8" cy="360.3" r="2.6"/>
<circle cx="547.0" cy="378.7" r="2.6"/>
<circle cx="532.6" cy="380.9" r="2.6"/>
<circle cx="520.0" cy="400.7" r="2.6"/>
<circle cx="524.6" cy="367.2" r="2.6"/>
<circle cx="578.0" cy="363.9" r="2.6"/>
<circle cx="575.5" cy="374.5" r="2.6"/>
<circle cx="570.1" cy="380.3" r="2.6"/>
<circle cx="549.9" cy="352.9" r="2.6"/>
<circle cx="561.7" cy="387.3" r="2.6"/>
<circle cx="569.3" cy="343.9" r="2.6"/>
<circle cx="513.9" cy="390.4" r="2.6"/>
<circle cx="544.3" cy="393.4" r="2.6"/>
<circle cx="580.2" cy="346.6" r="2.6"/>
<circle cx="557.7" cy="376.5" r="2.6"/>
<circle cx="559.0" cy="359.6" r="2.6"/>
<circle cx="555.1" cy="350.5" r="2.6"/>
<circle cx="573.7" cy="371.4" r="2.6"/>
<circle cx="566.8" cy="360.7" r="2.6"/>
<circle cx="524.1" cy="375.0" r="2.6"/>
<circle cx="558.1" cy="369.3" r="2.6"/>
<circle cx="517.2" cy="366.3" r="2.6"/>
<circle cx="537.9" cy="362.5" r="2.6"/>
<circle cx="525.7" cy="366.7" r="2.6"/>
<circle cx="539.2" cy="382.3" r="2.6"/>
<circle cx="574.7" cy="367.9" r="2.6"/>
<circle cx="511.0" cy="398.0" r="2.6"/>
<circle cx="553.0" cy="381.7" r="2.6"/>
<circle cx="553.3" cy="361.0" r="2.6"/>
<circle cx="533.7" cy="359.8" r="2.6"/>
<circle cx="556.9" cy="349.5" r="2.6"/>
<circle cx="558.1" cy="393.3" r="2.6"/>
<circle cx="557.2" cy="373.0" r="2.6"/>
<circle cx="567.2" cy="392.4" r="2.6"/>
<circle cx="567.5" cy="394.4" r="2.6"/>
<circle cx="542.3" cy="355.4" r="2.6"/>
<circle cx="553.3" cy="375.8" r="2.6"/>
<circle cx="571.1" cy="366.4" r="2.6"/>
<circle cx="535.4" cy="358.3" r="2.6"/>
<circle cx="568.8" cy="368.6" r="2.6"/>
<circle cx="579.8" cy="350.9" r="2.6"/>
<circle cx="570.4" cy="376.8" r="2.6"/>
<circle cx="580.2" cy="347.0" r="2.6"/>
<circle cx="573.5" cy="353.8" r="2.6"/>
<circle cx="510.3" cy="375.9" r="2.6"/>
<circle cx="534.6" cy="400.8" r="2.6"/>
<circle cx="537.7" cy="363.6" r="2.6"/>
<circle cx="558.8" cy="349.6" r="2.6"/>
<circle cx="531.3" cy="370.4" r="2.6"/>
<circle cx="518.4" cy="382.8" r="2.6"/>
<circle cx="539.7" cy="388.4" r="2.6"/>
<circle cx="533.7" cy="399.9" r="2.6"/>
<circle cx="523.4" cy="378.4" r="2.6"/>
<circle cx="525.6" cy="362.6" r="2.6"/>
<circle cx="531.0" cy="395.2" r="2.6"/>
<circle cx="530.3" cy="374.5" r="2.6"/>
<circle cx="546.9" cy="359.7" r="2.6"/>
<circle cx="547.7" cy="353.7" r="2.6"/>
<circle cx="534.4" cy="365.2" r="2.6"/>
<circle cx="567.7" cy="378.5" r="2.6"/>
<circle cx="559.5" cy="371.7" r="2.6"/>
<circle cx="571.3" cy="374.1" r="2.6"/>
<circle cx="513.4" cy="369.6" r="2.6"/>
<circle cx="562.9" cy="386.9" r="2.6"/>
<circle cx="580.1" cy="356.8" r="2.6"/>
<circle cx="520.7" cy="380.7" r="2.6"/>
<circle cx="554.1" cy="373.7" r="2.6"/>
<circle cx="519.1" cy="400.6" r="2.6"/>
<circle cx="545.9" cy="360.2" r="2.6"/>
<circle cx="579.5" cy="345.3" r="2.6"/>
<circle cx="514.5" cy="387.3" r="2.6"/>
<circle cx="528.0" cy="365.6" r="2.6"/>
<circle cx="531.1" cy="379.7" r="2.6"/>
<circle cx="532.3" cy="382.3" r="2.6"/>
<circle cx="574.1" cy="389.1" r="2.6"/>
<circle cx="573.0" cy="385.1" r="2.6"/>
<circle cx="527.6" cy="391.7" r="2.6"/>
<circle cx="515.9" cy="383.0" r="2.6"/>
<circle cx="514.9" cy="368.4" r="2.6"/>
<circle cx="577.2" cy="341.4" r="2.6"/>
<circle cx="560.7" cy="367.4" r="2.6"/>
<circle cx="509.6" cy="394.8" r="2.6"/>
<circle cx="513.8" cy="398.0" r="2.6"/>
<circle cx="567.9" cy="361.8" r="2.6"/>
<circle cx="541.3" cy="355.9" r="2.6"/>
<circle cx="559.5" cy="348.2" r="2.6"/>
<circle cx="547.0" cy="395.3" r="2.6"/>
<circle cx="557.9" cy="350.5" r="2.6"/>
<circle cx="561.0" cy="378.1" r="2.6"/>
<circle cx="533.0" cy="387.8" r="2.6"/>
<circle cx="550.8" cy="364.5" r="2.6"/>
<circle cx="547.0" cy="360.1" r="2.6"/>
<circle cx="530.0" cy="394.9" r="2.6"/>
<circle cx="534.4" cy="387.5" r="2.6"/>
<circle cx="535.7" cy="361.7" r="2.6"/>
<circle cx="509.6" cy="403.4" r="2.6"/>
<circle cx="563.1" cy="397.3" r="2.6"/>
<circle cx="551.5" cy="352.0" r="2.6"/>
<circle cx="521.1" cy="365.0" r="2.6"/>
<circle cx="553.2" cy="374.9" r="2.6"/>
<circle cx="577.7" cy="344.4" r="2.6"/>
<circle cx="526.1" cy="366.5" r="2.6"/>
<circle cx="520.0" cy="365.2" r="2.6"/>
<circle cx="544.7" cy="366.8" r="2.6"/>
<circle cx="535.8" cy="398.1" r="2.6"/>
<circle cx="531.9" cy="391.1" r="2.6"/>
<circle cx="547.5" cy="354.6" r="2.6"/>
<circle cx="511.6" cy="385.8" r="2.6"/>
<circle cx="571.9" cy="342.9" r="2.6"/>
<circle cx="559.6" cy="353.6" r="2.6"/>
<circle cx="558.5" cy="387.6" r="2.6"/>
<circle cx="561.4" cy="353.3" r="2.6"/>
<circle cx="520.6" cy="400.4" r="2.6"/>
<circle cx="574.9" cy="383.7" r="2.6"/>
<circle cx="548.1" cy="353.3" r="2.6"/>
<circle cx="535.8" cy="395.5" r="2.6"/>
<circle cx="514.3" cy="373.4" r="2.6"/>
<circle cx="512.5" cy="398.1" r="2.6"/>
<circle cx="534.7" cy="359.6" r="2.6"/>
<circle cx="534.9" cy="362.4" r="2.6"/>
<circle cx="540.4" cy="377.7" r="2.6"/>
<circle cx="556.5" cy="350.6" r="2.6"/>
<circle cx="547.6" cy="353.6" r="2.6"/>
<circle cx="541.0" cy="388.5" r="2.6"/>
<circle cx="528.2" cy="391.5" r="2.6"/>
<circle cx="526.9" cy="371.8" r="2.6"/>
<circle cx="566.1" cy="344.9" r="2.6"/>
<circle cx="549.0" cy="371.2" r="2.6"/>
<circle cx="560.5" cy="395.9" r="2.6"/>
<circle cx="559.1" cy="353.4" r="2.6"/>
<circle cx="523.7" cy="376.3" r="2.6"/>
<circle cx="529.6" cy="377.6" r="2.6"/>
<circle cx="515.9" cy="387.9" r="2.6"/>
<circle cx="539.2" cy="357.1" r="2.6"/>
<circle cx="518.1" cy="399.1" r="2.6"/>
<circle cx="570.1" cy="384.4" r="2.6"/>
<circle cx="537.3" cy="400.0" r="2.6"/>
<circle cx="521.6" cy="387.7" r="2.6"/>
<circle cx="576.7" cy="343.6" r="2.6"/>
<circle cx="509.8" cy="371.1" r="2.6"/>
<circle cx="515.4" cy="393.3" r="2.6"/>
<circle cx="552.8" cy="367.0" r="2.6"/>
<circle cx="517.7" cy="385.0" r="2.6"/>
<circle cx="519.3" cy="367.2" r="2.6"/>
<circle cx="551.9" cy="376.5" r="2.6"/>
<circle cx="566.7" cy="383.1" r="2.6"/>
<circle cx="519.3" cy="371.6" r="2.6"/>
<circle cx="519.8" cy="377.9" r="2.6"/>
<circle cx="511.5" cy="397.8" r="2.6"/>
<circle cx="558.2" cy="385.9" r="2.6"/>
<circle cx="544.3" cy="394.7" r="2.6"/>
<circle cx="569.1" cy="381.5" r="2.6"/>
<circle cx="567.0" cy="349.6" r="2.6"/>
<circle cx="534.1" cy="359.4" r="2.6"/>
<circle cx="564.1" cy="362.8" r="2.6"/>
<circle cx="579.9" cy="342.9" r="2.6"/>
<circle cx="519.9" cy="327.2" r="2.6"/>
<circle cx="547.2" cy="339.3" r="2.6"/>
<circle cx="547.4" cy="351.8" r="2.6"/>
<circle cx="532.8" cy="321.7" r="2.6"/>
<circle cx="545.1" cy="329.9" r="2.6"/>
<circle cx="543.1" cy="339.6" r="2.6"/>
<circle cx="540.4" cy="325.3" r="2.6"/>
<circle cx="542.2" cy="331.3" r="2.6"/>
<circle cx="541.4" cy="330.7" r="2.6"/>
<circle cx="539.6" cy="351.4" r="2.6"/>
<circle cx="539.5" cy="345.1" r="2.6"/>
<circle cx="531.8" cy="334.7" r="2.6"/>
<circle cx="536.7" cy="349.0" r="2.6"/>
<circle cx="530.5" cy="332.8" r="2.6"/>
<circle cx="531.5" cy="335.0" r="2.6"/>
<circle cx="536.6" cy="333.1" r="2.6"/>
<circle cx="530.4" cy="333.4" r="2.6"/>
<circle cx="539.3" cy="348.5" r="2.6"/>
<circle cx="540.9" cy="345.7" r="2.6"/>
<circle cx="537.6" cy="328.9" r="2.6"/>
<circle cx="539.8" cy="347.6" r="2.6"/>
<circle cx="527.5" cy="347.6" r="2.6"/>
<circle cx="539.2" cy="333.9" r="2.6"/>
<circle cx="520.5" cy="327.6" r="2.6"/>
<circle cx="544.1" cy="340.8" r="2.6"/>
<circle cx="534.1" cy="332.7" r="2.6"/>
<circle cx="526.7" cy="339.8" r="2.6"/>
<circle cx="539.1" cy="338.9" r="2.6"/>
<circle cx="534.6" cy="334.2" r="2.6"/>
<circle cx="548.3" cy="332.6" r="2.6"/>
<circle cx="537.4" cy="340.3" r="2.6"/>
<circle cx="544.5" cy="334.6" r="2.6"/>
<circle cx="534.5" cy="321.6" r="2.6"/>
<circle cx="545.3" cy="345.0" r="2.6"/>
<circle cx="532.2" cy="322.0" r="2.6"/>
<circle cx="531.0" cy="319.0" r="2.6"/>
<circle cx="533.4" cy="315.0" r="2.6"/>
<circle cx="527.0" cy="355.6" r="2.6"/>
<circle cx="523.2" cy="314.7" r="2.6"/>
<circle cx="529.0" cy="339.9" r="2.6"/>
<circle cx="530.1" cy="343.1" r="2.6"/>
<circle cx="535.9" cy="334.0" r="2.6"/>
<circle cx="529.7" cy="340.9" r="2.6"/>
<circle cx="545.2" cy="325.4" r="2.6"/>
<circle cx="542.5" cy="322.4" r="2.6"/>
<circle cx="533.2" cy="326.2" r="2.6"/>
<circle cx="547.7" cy="344.0" r="2.6"/>
<circle cx="545.4" cy="361.0" r="2.6"/>
<circle cx="519.6" cy="350.7" r="2.6"/>
<circle cx="526.8" cy="345.5" r="2.6"/>
<circle cx="530.8" cy="326.9" r="2.6"/>
<circle cx="528.9" cy="339.3" r="2.6"/>
<circle cx="524.4" cy="352.1" r="2.6"/>
<circle cx="533.2" cy="343.2" r="2.6"/>
<circle cx="541.6" cy="334.2" r="2.6"/>
<circle cx="520.3" cy="327.9" r="2.6"/>
<circle cx="525.2" cy="339.6" r="2.6"/>
<circle cx="526.4" cy="344.1" r="2.6"/>
<circle cx="529.9" cy="347.9" r="2.6"/>
<circle cx="528.8" cy="338.4" r="2.6"/>
<circle cx="540.3" cy="328.1" r="2.6"/>
<circle cx="548.6" cy="352.4" r="2.6"/>
<circle cx="531.5" cy="322.9" r="2.6"/>
<circle cx="525.6" cy="337.3" r="2.6"/>
<circle cx="540.3" cy="319.5" r="2.6"/>
<circle cx="539.1" cy="332.1" r="2.6"/>
<circle cx="533.3" cy="329.1" r="2.6"/>
<circle cx="535.3" cy="332.0" r="2.6"/>
<circle cx="529.5" cy="336.9" r="2.6"/>
<circle cx="527.6" cy="346.9" r="2.6"/>
<circle cx="527.9" cy="344.3" r="2.6"/>
<circle cx="529.2" cy="341.6" r="2.6"/>
<circle cx="522.5" cy="332.4" r="2.6"/>
<circle cx="537.0" cy="319.5" r="2.6"/>
<circle cx="515.9" cy="350.3" r="2.6"/>
<circle cx="526.9" cy="344.7" r="2.6"/>
<circle cx="535.0" cy="344.4" r="2.6"/>
<circle cx="528.4" cy="328.0" r="2.6"/>
<circle cx="533.0" cy="352.4" r="2.6"/>
<circle cx="541.9" cy="312.3" r="2.6"/>
<circle cx="543.4" cy="337.3" r="2.6"/>
<circle cx="545.2" cy="336.3" r="2.6"/>
<circle cx="531.7" cy="333.0" r="2.6"/>
<circle cx="544.7" cy="334.4" r="2.6"/>
<circle cx="532.1" cy="350.0" r="2.6"/>
<circle cx="536.0" cy="346.8" r="2.6"/>
<circle cx="533.7" cy="350.0" r="2.6"/>
<circle cx="527.6" cy="345.7" r="2.6"/>
<circle cx="529.2" cy="347.5" r="2.6"/>
<circle cx="544.2" cy="327.6" r="2.6"/>
<circle cx="531.8" cy="346.4" r="2.6"/>
<circle cx="543.1" cy="338.2" r="2.6"/>
<circle cx="538.9" cy="325.2" r="2.6"/>
<circle cx="531.3" cy="331.1" r="2.6"/>
<circle cx="538.0" cy="340.1" r="2.6"/>
<circle cx="533.1" cy="342.1" r="2.6"/>
<circle cx="507.8" cy="339.7" r="2.6"/>
<circle cx="547.4" cy="325.1" r="2.6"/>
<circle cx="555.8" cy="334.9" r="2.6"/>
<circle cx="541.4" cy="342.1" r="2.6"/>
<circle cx="528.6" cy="344.7" r="2.6"/>
<circle cx="538.0" cy="327.6" r="2.6"/>
<circle cx="519.4" cy="328.4" r="2.6"/>
<circle cx="541.6" cy="327.5" r="2.6"/>
<circle cx="524.4" cy="333.6" r="2.6"/>
<circle cx="537.0" cy="349.5" r="2.6"/>
<circle cx="525.5" cy="312.8" r="2.6"/>
<circle cx="529.2" cy="340.7" r="2.6"/>
<circle cx="519.1" cy="342.1" r="2.6"/>
<circle cx="545.1" cy="331.6" r="2.6"/>
<circle cx="527.8" cy="335.3" r="2.6"/>
<circle cx="537.3" cy="329.6" r="2.6"/>
<circle cx="526.6" cy="331.8" r="2.6"/>
<circle cx="529.2" cy="340.8" r="2.6"/>
<circle cx="527.7" cy="344.0" r="2.6"/>
<circle cx="538.2" cy="353.9" r="2.6"/>
<circle cx="536.0" cy="307.6" r="2.6"/>
<circle cx="527.4" cy="338.6" r="2.6"/>
<circle cx="533.9" cy="319.6" r="2.6"/>
<circle cx="523.2" cy="329.8" r="2.6"/>
<circle cx="533.6" cy="315.4" r="2.6"/>
<circle cx="532.8" cy="315.1" r="2.6"/>
<circle cx="526.9" cy="332.0" r="2.6"/>
<circle cx="525.8" cy="341.9" r="2.6"/>
<circle cx="524.6" cy="339.9" r="2.6"/>
<circle cx="546.5" cy="341.2" r="2.6"/>
<circle cx="553.7" cy="319.0" r="2.6"/>
<circle cx="536.8" cy="335.6" r="2.6"/>
<circle cx="536.9" cy="343.5" r="2.6"/>
<circle cx="539.0" cy="334.8" r="2.6"/>
<circle cx="519.1" cy="335.3" r="2.6"/>
<circle cx="538.9" cy="335.2" r="2.6"/>
<circle cx="536.8" cy="335.7" r="2.6"/>
<circle cx="530.6" cy="324.9" r="2.6"/>
<circle cx="545.4" cy="338.9" r="2.6"/>
<circle cx="540.7" cy="346.9" r="2.6"/>
<circle cx="544.2" cy="344.2" r="2.6"/>
<circle cx="534.7" cy="325.9" r="2.6"/>
<circle cx="530.5" cy="335.3" r="2.6"/>
<circle cx="542.2" cy="341.4" r="2.6"/>
<circle cx="537.0" cy="324.5" r="2.6"/>
<circle cx="536.4" cy="343.7" r="2.6"/>
<circle cx="531.3" cy="338.3" r="2.6"/>
<circle cx="534.5" cy="329.3" r="2.6"/>
<circle cx="522.3" cy="336.5" r="2.6"/>
<circle cx="535.9" cy="320.2" r="2.6"/>
<circle cx="523.0" cy="344.8" r="2.6"/>
<circle cx="541.3" cy="336.2" r="2.6"/>
<circle cx="542.9" cy="336.2" r="2.6"/>
<circle cx="529.3" cy="336.3" r="2.6"/>
<circle cx="544.0" cy="328.3" r="2.6"/>
<circle cx="535.9" cy="334.3" r="2.6"/>
<circle cx="542.7" cy="329.4" r="2.6"/>
<circle cx="536.3" cy="328.3" r="2.6"/>
<circle cx="535.1" cy="347.2" r="2.6"/>
<circle cx="541.4" cy="323.4" r="2.6"/>
<circle cx="545.2" cy="336.4" r="2.6"/>
<circle cx="525.0" cy="331.6" r="2.6"/>
<circle cx="529.8" cy="354.9" r="2.6"/>
<circle cx="535.5" cy="343.6" r="2.6"/>
<circle cx="534.9" cy="340.7" r="2.6"/>
<circle cx="540.7" cy="327.0" r="2.6"/>
<circle cx="538.3" cy="323.7" r="2.6"/>
<circle cx="530.2" cy="311.6" r="2.6"/>
<circle cx="521.0" cy="328.2" r="2.6"/>
<circle cx="542.3" cy="339.8" r="2.6"/>
<circle cx="535.3" cy="347.9" r="2.6"/>
<circle cx="531.0" cy="332.8" r="2.6"/>
<circle cx="524.6" cy="355.6" r="2.6"/>
<circle cx="531.6" cy="344.3" r="2.6"/>
<circle cx="526.9" cy="337.5" r="2.6"/>
<circle cx="523.7" cy="324.7" r="2.6"/>
<circle cx="543.2" cy="335.4" r="2.6"/>
<circle cx="529.8" cy="336.4" r="2.6"/>
<circle cx="533.6" cy="343.8" r="2.6"/>
<circle cx="529.4" cy="331.5" r="2.6"/>
<circle cx="527.4" cy="342.3" r="2.6"/>
<circle cx="530.9" cy="345.9" r="2.6"/>
<circle cx="536.3" cy="348.8" r="2.6"/>
<circle cx="541.5" cy="328.5" r="2.6"/>
<circle cx="534.1" cy="327.2" r="2.6"/>
<circle cx="542.7" cy="339.7" r="2.6"/>
<circle cx="533.9" cy="342.0" r="2.6"/>
<circle cx="531.5" cy="339.7" r="2.6"/>
<circle cx="535.0" cy="330.6" r="2.6"/>
<circle cx="551.2" cy="332.4" r="2.6"/>
<circle cx="541.6" cy="338.1" r="2.6"/>
<circle cx="547.0" cy="334.6" r="2.6"/>
<circle cx="533.0" cy="338.6" r="2.6"/>
<circle cx="534.5" cy="339.8" r="2.6"/>
<circle cx="535.7" cy="318.0" r="2.6"/>
<circle cx="534.9" cy="343.5" r="2.6"/>
<circle cx="520.2" cy="336.9" r="2.6"/>
<circle cx="526.6" cy="343.6" r="2.6"/>
<circle cx="535.4" cy="332.4" r="2.6"/>
<circle cx="537.9" cy="324.2" r="2.6"/>
<circle cx="527.0" cy="342.5" r="2.6"/>
<circle cx="527.6" cy="346.0" r="2.6"/>
<circle cx="529.3" cy="344.4" r="2.6"/>
<circle cx="539.5" cy="346.6" r="2.6"/>
<circle cx="551.0" cy="356.6" r="2.6"/>
<circle cx="540.6" cy="351.7" r="2.6"/>
<circle cx="530.6" cy="348.2" r="2.6"/>
<circle cx="534.3" cy="331.1" r="2.6"/>
<circle cx="531.1" cy="342.6" r="2.6"/>
<circle cx="526.7" cy="344.4" r="2.6"/>
<circle cx="527.7" cy="342.8" r="2.6"/>
<circle cx="534.7" cy="327.1" r="2.6"/>
<circle cx="528.9" cy="356.4" r="2.6"/>
<circle cx="531.4" cy="327.8" r="2.6"/>
<circle cx="526.4" cy="332.4" r="2.6"/>
<circle cx="525.3" cy="348.8" r="2.6"/>
<circle cx="535.8" cy="354.7" r="2.6"/>
<circle cx="531.0" cy="363.3" r="2.6"/>
<circle cx="526.1" cy="332.4" r="2.6"/>
<circle cx="530.3" cy="343.3" r="2.6"/>
<circle cx="538.1" cy="345.4" r="2.6"/>
<circle cx="525.3" cy="340.3" r="2.6"/>
<circle cx="533.5" cy="334.8" r="2.6"/>
<circle cx="532.7" cy="324.3" r="2.6"/>
<circle cx="538.3" cy="337.6" r="2.6"/>
<circle cx="551.5" cy="351.9" r="2.6"/>
<circle cx="535.9" cy="344.1" r="2.6"/>
<circle cx="550.3" cy="333.4" r="2.6"/>
<circle cx="540.2" cy="332.3" r="2.6"/>
<circle cx="545.1" cy="341.8" r="2.6"/>
<circle cx="540.9" cy="353.5" r="2.6"/>
<circle cx="538.3" cy="324.9" r="2.6"/>
<circle cx="540.6" cy="330.3" r="2.6"/>
<circle cx="519.8" cy="335.4" r="2.6"/>
<circle cx="531.4" cy="321.0" r="2.6"/>
<circle cx="538.1" cy="329.8" r="2.6"/>
<circle cx="543.9" cy="331.0" r="2.6"/>
<circle cx="523.6" cy="344.4" r="2.6"/>
<circle cx="518.1" cy="324.2" r="2.6"/>
<circle cx="532.5" cy="349.2" r="2.6"/>
<circle cx="537.7" cy="340.6" r="2.6"/>
<circle cx="531.6" cy="323.3" r="2.6"/>
<circle cx="518.3" cy="351.1" r="2.6"/>
<circle cx="533.2" cy="338.8" r="2.6"/>
<circle cx="542.5" cy="339.9" r="2.6"/>
<circle cx="537.9" cy="319.0" r="2.6"/>
<circle cx="523.5" cy="350.6" r="2.6"/>
<circle cx="528.5" cy="338.5" r="2.6"/>
<circle cx="525.6" cy="333.8" r="2.6"/>
<circle cx="528.0" cy="325.0" r="2.6"/>
<circle cx="537.8" cy="329.6" r="2.6"/>
<circle cx="535.6" cy="334.3" r="2.6"/>
<circle cx="521.5" cy="338.6" r="2.6"/>
<circle cx="520.4" cy="323.1" r="2.6"/>
<circle cx="525.3" cy="345.5" r="2.6"/>
<circle cx="530.4" cy="314.3" r="2.6"/>
<circle cx="525.5" cy="319.6" r="2.6"/>
<circle cx="535.0" cy="310.4" r="2.6"/>
<circle cx="532.2" cy="341.9" r="2.6"/>
<circle cx="533.7" cy="341.9" r="2.6"/>
<circle cx="528.5" cy="329.3" r="2.6"/>
<circle cx="530.5" cy="327.5" r="2.6"/>
<circle cx="538.5" cy="327.1" r="2.6"/>
<circle cx="545.9" cy="325.7" r="2.6"/>
<circle cx="526.7" cy="322.9" r="2.6"/>
<circle cx="515.1" cy="323.6" r="2.6"/>
<circle cx="543.2" cy="347.1" r="2.6"/>
<circle cx="543.6" cy="355.3" r="2.6"/>
<circle cx="541.6" cy="340.5" r="2.6"/>
<circle cx="531.8" cy="338.1" r="2.6"/>
<circle cx="529.6" cy="329.0" r="2.6"/>
<circle cx="533.5" cy="336.8" r="2.6"/>
<circle cx="534.3" cy="340.0" r="2.6"/>
<circle cx="526.2" cy="330.4" r="2.6"/>
<circle cx="540.3" cy="348.2" r="2.6"/>
<circle cx="541.2" cy="323.6" r="2.6"/>
<circle cx="535.2" cy="321.6" r="2.6"/>
<circle cx="517.4" cy="322.5" r="2.6"/>
<circle cx="528.3" cy="333.3" r="2.6"/>
<circle cx="527.0" cy="311.7" r="2.6"/>
<circle cx="530.8" cy="329.6" r="2.6"/>
<circle cx="522.8" cy="339.3" r="2.6"/>
<circle cx="537.2" cy="337.5" r="2.6"/>
<circle cx="528.2" cy="321.3" r="2.6"/>
<circle cx="522.2" cy="335.5" r="2.6"/>
<circle cx="532.7" cy="340.0" r="2.6"/>
<circle cx="538.9" cy="333.9" r="2.6"/>
<circle cx="532.6" cy="329.7" r="2.6"/>
<circle cx="533.3" cy="331.0" r="2.6"/>
<circle cx="543.7" cy="333.9" r="2.6"/>
<circle cx="534.5" cy="342.0" r="2.6"/>
<circle cx="544.8" cy="326.6" r="2.6"/>
<circle cx="538.0" cy="333.2" r="2.6"/>
<circle cx="527.6" cy="335.4" r="2.6"/>
<circle cx="536.3" cy="348.0" r="2.6"/>
<circle cx="526.7" cy="337.4" r="2.6"/>
<circle cx="548.6" cy="332.6" r="2.6"/>
<circle cx="522.9" cy="323.5" r="2.6"/>
<circle cx="540.8" cy="329.1" r="2.6"/>
<circle cx="529.8" cy="337.4" r="2.6"/>
<circle cx="550.7" cy="325.0" r="2.6"/>
<circle cx="568.9" cy="354.6" r="2.6"/>
<circle cx="522.0" cy="340.6" r="2.6"/>
<circle cx="527.0" cy="343.0" r="2.6"/>
<circle cx="539.5" cy="322.8" r="2.6"/>
<circle cx="523.1" cy="330.5" r="2.6"/>
<circle cx="540.6" cy="333.7" r="2.6"/>
<circle cx="544.3" cy="324.5" r="2.6"/>
<circle cx="527.8" cy="334.8" r="2.6"/>
<circle cx="536.1" cy="348.3" r="2.6"/>
<circle cx="532.3" cy="325.9" r="2.6"/>
<circle cx="537.0" cy="335.9" r="2.6"/>
<circle cx="553.8" cy="329.9" r="2.6"/>
<circle cx="541.3" cy="344.9" r="2.6"/>
<circle cx="543.3" cy="340.6" r="2.6"/>
<circle cx="532.7" cy="340.4" r="2.6"/>
<circle cx="524.3" cy="330.4" r="2.6"/>
<circle cx="524.6" cy="327.8" r="2.6"/>
<circle cx="527.9" cy="323.3" r="2.6"/>
<circle cx="536.6" cy="324.3" r="2.6"/>
<circle cx="525.6" cy="330.4" r="2.6"/>
<circle cx="539.7" cy="333.3" r="2.6"/>
<circle cx="533.2" cy="342.0" r="2.6"/>
<circle cx="509.2" cy="331.0" r="2.6"/>
<circle cx="524.4" cy="346.7" r="2.6"/>
<circle cx="536.9" cy="363.0" r="2.6"/>
<circle cx="528.2" cy="329.2" r="2.6"/>
<circle cx="534.3" cy="338.3" r="2.6"/>
<circle cx="528.1" cy="334.3" r="2.6"/>
<circle cx="522.3" cy="341.8" r="2.6"/>
<circle cx="540.2" cy="345.4" r="2.6"/>
<circle cx="533.1" cy="339.9" r="2.6"/>
<circle cx="524.5" cy="356.1" r="2.6"/>
<circle cx="527.4" cy="343.9" r="2.6"/>
<circle cx="562.6" cy="327.6" r="2.6"/>
<circle cx="573.8" cy="319.9" r="2.6"/>
<circle cx="574.2" cy="340.3" r="2.6"/>
<circle cx="582.9" cy="323.0" r="2.6"/>
<circle cx="577.4" cy="341.6" r="2.6"/>
<circle cx="580.3" cy="300.9" r="2.6"/>
<circle cx="575.6" cy="314.2" r="2.6"/>
<circle cx="566.4" cy="325.1" r="2.6"/>
<circle cx="570.8" cy="319.4" r="2.6"/>
<circle cx="572.6" cy="323.9" r="2.6"/>
<circle cx="563.6" cy="340.4" r="2.6"/>
<circle cx="571.1" cy="298.2" r="2.6"/>
<circle cx="563.0" cy="320.9" r="2.6"/>
<circle cx="582.5" cy="334.2" r="2.6"/>
<circle cx="557.5" cy="322.7" r="2.6"/>
<circle cx="570.9" cy="336.8" r="2.6"/>
<circle cx="584.0" cy="318.8" r="2.6"/>
<circle cx="571.2" cy="342.5" r="2.6"/>
<circle cx="581.9" cy="313.9" r="2.6"/>
<circle cx="578.3" cy="308.3" r="2.6"/>
<circle cx="562.6" cy="338.3" r="2.6"/>
<circle cx="578.6" cy="321.8" r="2.6"/>
<circle cx="570.9" cy="332.4" r="2.6"/>
<circle cx="579.9" cy="323.9" r="2.6"/>
<circle cx="578.6" cy="339.9" r="2.6"/>
<circle cx="571.8" cy="322.0" r="2.6"/>
<circle cx="579.9" cy="345.9" r="2.6"/>
<circle cx="569.6" cy="334.4" r="2.6"/>
<circle cx="571.4" cy="328.4" r="2.6"/>
<circle cx="574.9" cy="317.8" r="2.6"/>
<circle cx="573.6" cy="327.6" r="2.6"/>
<circle cx="578.8" cy="310.8" r="2.6"/>
<circle cx="571.9" cy="336.0" r="2.6"/>
<circle cx="586.3" cy="316.3" r="2.6"/>
<circle cx="589.8" cy="331.5" r="2.6"/>
<circle cx="568.1" cy="328.8" r="2.6"/>
<circle cx="570.6" cy="343.6" r="2.6"/>
<circle cx="578.4" cy="343.9" r="2.6"/>
<circle cx="547.9" cy="327.4" r="2.6"/>
<circle cx="562.3" cy="323.8" r="2.6"/>
<circle cx="561.5" cy="342.4" r="2.6"/>
<circle cx="554.0" cy="341.3" r="2.6"/>
<circle cx="568.9" cy="302.3" r="2.6"/>
<circle cx="577.1" cy="334.2" r="2.6"/>
<circle cx="582.8" cy="324.0" r="2.6"/>
<circle cx="555.5" cy="346.9" r="2.6"/>
<circle cx="558.5" cy="333.5" r="2.6"/>
<circle cx="571.7" cy="333.9" r="2.6"/>
<circle cx="566.8" cy="337.6" r="2.6"/>
<circle cx="572.8" cy="317.7" r="2.6"/>
<circle cx="562.3" cy="312.4" r="2.6"/>
<circle cx="564.2" cy="330.1" r="2.6"/>
<circle cx="585.5" cy="319.9" r="2.6"/>
<circle cx="571.8" cy="348.9" r="2.6"/>
<circle cx="572.1" cy="330.9" r="2.6"/>
<circle cx="569.5" cy="314.1" r="2.6"/>
<circle cx="566.7" cy="306.1" r="2.6"/>
<circle cx="571.8" cy="324.9" r="2.6"/>
<circle cx="568.7" cy="325.7" r="2.6"/>
<circle cx="582.9" cy="324.0" r="2.6"/>
<circle cx="562.9" cy="335.7" r="2.6"/>
<circle cx="581.3" cy="320.4" r="2.6"/>
<circle cx="564.1" cy="328.2" r="2.6"/>
<circle cx="572.2" cy="320.1" r="2.6"/>
<circle cx="563.2" cy="325.6" r="2.6"/>
<circle cx="560.3" cy="335.7" r="2.6"/>
<circle cx="569.4" cy="311.1" r="2.6"/>
<circle cx="570.6" cy="307.6" r="2.6"/>
<circle cx="574.6" cy="311.8" r="2.6"/>
<circle cx="570.0" cy="347.6" r="2.6"/>
<circle cx="552.8" cy="331.7" r="2.6"/>
<circle cx="586.5" cy="328.6" r="2.6"/>
<circle cx="567.1" cy="319.7" r="2.6"/>
<circle cx="568.2" cy="331.2" r="2.6"/>
<circle cx="573.1" cy="322.2" r="2.6"/>
<circle cx="566.4" cy="336.2" r="2.6"/>
<circle cx="585.0" cy="336.8" r="2.6"/>
<circle cx="563.7" cy="328.9" r="2.6"/>
<circle cx="570.2" cy="323.4" r="2.6"/>
<circle cx="584.7" cy="311.7" r="2.6"/>
<circle cx="571.0" cy="325.4" r="2.6"/>
<circle cx="579.7" cy="328.2" r="2.6"/>
<circle cx="572.8" cy="339.4" r="2.6"/>
<circle cx="574.8" cy="327.7" r="2.6"/>
<circle cx="559.2" cy="324.0" r="2.6"/>
<circle cx="590.3" cy="322.8" r="2.6"/>
<circle cx="564.6" cy="311.9" r="2.6"/>
<circle cx="574.4" cy="324.6" r="2.6"/>
<circle cx="584.3" cy="316.2" r="2.6"/>
<circle cx="589.2" cy="336.0" r="2.6"/>
<circle cx="567.7" cy="327.8" r="2.6"/>
<circle cx="573.1" cy="340.4" r="2.6"/>
<circle cx="573.8" cy="342.9" r="2.6"/>
<circle cx="566.6" cy="329.7" r="2.6"/>
<circle cx="573.6" cy="323.1" r="2.6"/>
<circle cx="564.9" cy="322.8" r="2.6"/>
<circle cx="574.0" cy="327.9" r="2.6"/>
<circle cx="571.6" cy="332.7" r="2.6"/>
<circle cx="586.8" cy="310.9" r="2.6"/>
<circle cx="573.5" cy="311.5" r="2.6"/>
<circle cx="563.9" cy="332.8" r="2.6"/>
<circle cx="568.6" cy="321.6" r="2.6"/>
<circle cx="568.6" cy="337.4" r="2.6"/>
<circle cx="558.6" cy="339.5" r="2.6"/>
<circle cx="579.3" cy="321.2" r="2.6"/>
<circle cx="559.4" cy="305.3" r="2.6"/>
<circle cx="567.2" cy="332.1" r="2.6"/>
<circle cx="569.9" cy="326.3" r="2.6"/>
<circle cx="568.1" cy="327.2" r="2.6"/>
<circle cx="578.0" cy="316.3" r="2.6"/>
<circle cx="565.6" cy="328.7" r="2.6"/>
<circle cx="564.9" cy="331.8" r="2.6"/>
<circle cx="570.5" cy="330.5" r="2.6"/>
<circle cx="576.4" cy="337.5" r="2.6"/>
<circle cx="574.7" cy="318.3" r="2.6"/>
<circle cx="568.7" cy="330.5" r="2.6"/>
<circle cx="576.5" cy="331.1" r="2.6"/>
<circle cx="568.5" cy="324.4" r="2.6"/>
<circle cx="550.3" cy="318.8" r="2.6"/>
<circle cx="573.4" cy="320.1" r="2.6"/>
<circle cx="559.6" cy="331.6" r="2.6"/>
<circle cx="575.1" cy="320.4" r="2.6"/>
<circle cx="566.3" cy="332.0" r="2.6"/>
<circle cx="584.4" cy="323.7" r="2.6"/>
<circle cx="581.9" cy="342.3" r="2.6"/>
<circle cx="575.0" cy="333.2" r="2.6"/>
<circle cx="567.1" cy="312.2" r="2.6"/>
<circle cx="562.4" cy="337.7" r="2.6"/>
<circle cx="565.5" cy="329.6" r="2.6"/>
<circle cx="571.6" cy="321.9" r="2.6"/>
<circle cx="581.9" cy="321.4" r="2.6"/>
<circle cx="586.4" cy="314.5" r="2.6"/>
<circle cx="576.0" cy="328.5" r="2.6"/>
<circle cx="583.1" cy="330.3" r="2.6"/>
<circle cx="579.8" cy="326.4" r="2.6"/>
<circle cx="566.6" cy="319.2" r="2.6"/>
<circle cx="577.2" cy="323.3" r="2.6"/>
<circle cx="580.7" cy="325.4" r="2.6"/>
<circle cx="565.2" cy="325.8" r="2.6"/>
<circle cx="587.2" cy="337.9" r="2.6"/>
<circle cx="555.9" cy="326.8" r="2.6"/>
<circle cx="562.7" cy="311.3" r="2.6"/>
<circle cx="572.7" cy="337.5" r="2.6"/>
<circle cx="570.9" cy="337.6" r="2.6"/>
<circle cx="575.5" cy="316.1" r="2.6"/>
<circle cx="581.7" cy="314.7" r="2.6"/>
<circle cx="571.3" cy="313.2" r="2.6"/>
<circle cx="575.5" cy="341.4" r="2.6"/>
<circle cx="582.9" cy="336.9" r="2.6"/>
<circle cx="566.4" cy="344.7" r="2.6"/>
<circle cx="564.4" cy="351.1" r="2.6"/>
<circle cx="560.9" cy="336.4" r="2.6"/>
<circle cx="561.3" cy="331.2" r="2.6"/>
<circle cx="578.1" cy="330.4" r="2.6"/>
<circle cx="575.1" cy="314.1" r="2.6"/>
<circle cx="566.2" cy="309.8" r="2.6"/>
<circle cx="571.0" cy="327.4" r="2.6"/>
<circle cx="574.4" cy="311.2" r="2.6"/>
<circle cx="561.1" cy="316.2" r="2.6"/>
<circle cx="567.3" cy="325.7" r="2.6"/>
<circle cx="562.8" cy="355.9" r="2.6"/>
<circle cx="581.3" cy="318.0" r="2.6"/>
<circle cx="562.4" cy="337.3" r="2.6"/>
<circle cx="561.2" cy="327.3" r="2.6"/>
<circle cx="588.7" cy="328.4" r="2.6"/>
<circle cx="557.0" cy="318.3" r="2.6"/>
<circle cx="563.7" cy="345.1" r="2.6"/>
<circle cx="574.7" cy="326.9" r="2.6"/>
<circle cx="572.8" cy="318.6" r="2.6"/>
<circle cx="579.5" cy="350.8" r="2.6"/>
<circle cx="572.8" cy="313.6" r="2.6"/>
<circle cx="581.9" cy="338.7" r="2.6"/>
<circle cx="555.9" cy="339.6" r="2.6"/>
<circle cx="574.7" cy="329.2" r="2.6"/>
<circle cx="578.3" cy="328.9" r="2.6"/>
<circle cx="560.6" cy="339.6" r="2.6"/>
<circle cx="569.4" cy="317.2" r="2.6"/>
<circle cx="583.9" cy="338.3" r="2.6"/>
<circle cx="575.1" cy="327.6" r="2.6"/>
<circle cx="561.5" cy="340.4" r="2.6"/>
<circle cx="584.6" cy="331.9" r="2.6"/>
<circle cx="570.6" cy="321.5" r="2.6"/>
<circle cx="574.4" cy="318.8" r="2.6"/>
<circle cx="564.5" cy="331.2" r="2.6"/>
<circle cx="573.5" cy="322.8" r="2.6"/>
<circle cx="565.2" cy="346.4" r="2.6"/>
<circle cx="578.7" cy="317.0" r="2.6"/>
<circle cx="579.4" cy="328.2" r="2.6"/>
<circle cx="556.1" cy="331.4" r="2.6"/>
<circle cx="588.6" cy="323.3" r="2.6"/>
<circle cx="573.5" cy="345.6" r="2.6"/>
<circle cx="565.9" cy="315.5" r="2.6"/>
<circle cx="574.2" cy="328.3" r="2.6"/>
<circle cx="582.0" cy="318.6" r="2.6"/>
<circle cx="576.0" cy="328.8" r="2.6"/>
<circle cx="574.9" cy="314.9" r="2.6"/>
<circle cx="574.0" cy="341.3" r="2.6"/>
<circle cx="569.9" cy="330.0" r="2.6"/>
<circle cx="574.9" cy="312.2" r="2.6"/>
<circle cx="570.8" cy="331.8" r="2.6"/>
<circle cx="577.6" cy="321.4" r="2.6"/>
<circle cx="564.7" cy="321.5" r="2.6"/>
<circle cx="573.0" cy="322.8" r="2.6"/>
<circle cx="558.4" cy="349.6" r="2.6"/>
<circle cx="558.6" cy="346.3" r="2.6"/>
<circle cx="579.6" cy="315.3" r="2.6"/>
<circle cx="560.4" cy="309.9" r="2.6"/>
<circle cx="561.7" cy="336.1" r="2.6"/>
<circle cx="589.7" cy="341.7" r="2.6"/>
<circle cx="577.3" cy="317.3" r="2.6"/>
<circle cx="580.8" cy="319.2" r="2.6"/>
<circle cx="573.5" cy="309.1" r="2.6"/>
<circle cx="570.7" cy="325.7" r="2.6"/>
<circle cx="574.8" cy="330.7" r="2.6"/>
<circle cx="570.2" cy="312.8" r="2.6"/>
<circle cx="585.2" cy="319.8" r="2.6"/>
<circle cx="570.5" cy="332.5" r="2.6"/>
<circle cx="568.1" cy="331.0" r="2.6"/>
<circle cx="567.6" cy="327.8" r="2.6"/>
<circle cx="569.5" cy="314.4" r="2.6"/>
<circle cx="559.4" cy="331.5" r="2.6"/>
<circle cx="578.3" cy="331.5" r="2.6"/>
<circle cx="567.9" cy="320.4" r="2.6"/>
<circle cx="570.7" cy="337.9" r="2.6"/>
<circle cx="572.7" cy="319.4" r="2.6"/>
<circle cx="557.0" cy="316.2" r="2.6"/>
<circle cx="556.8" cy="318.7" r="2.6"/>
<circle cx="560.2" cy="324.1" r="2.6"/>
<circle cx="571.1" cy="314.9" r="2.6"/>
<circle cx="570.8" cy="331.6" r="2.6"/>
<circle cx="565.1" cy="324.3" r="2.6"/>
<circle cx="569.4" cy="316.6" r="2.6"/>
<circle cx="575.0" cy="312.4" r="2.6"/>
<circle cx="577.5" cy="324.7" r="2.6"/>
<circle cx="570.9" cy="319.5" r="2.6"/>
<circle cx="578.0" cy="342.1" r="2.6"/>
<circle cx="574.8" cy="330.8" r="2.6"/>
<circle cx="574.2" cy="317.5" r="2.6"/>
<circle cx="555.1" cy="328.0" r="2.6"/>
<circle cx="580.0" cy="346.7" r="2.6"/>
<circle cx="573.4" cy="326.5" r="2.6"/>
<circle cx="566.7" cy="316.3" r="2.6"/>
<circle cx="579.3" cy="326.4" r="2.6"/>
<circle cx="583.5" cy="309.8" r="2.6"/>
<circle cx="573.2" cy="316.9" r="2.6"/>
<circle cx="578.9" cy="306.7" r="2.6"/>
<circle cx="578.4" cy="318.7" r="2.6"/>
<circle cx="572.5" cy="318.2" r="2.6"/>
<circle cx="584.9" cy="327.4" r="2.6"/>
<circle cx="570.7" cy="337.7" r="2.6"/>
<circle cx="593.3" cy="331.1" r="2.6"/>
<circle cx="567.3" cy="333.1" r="2.6"/>
<circle cx="581.6" cy="322.4" r="2.6"/>
<circle cx="554.3" cy="324.8" r="2.6"/>
<circle cx="587.1" cy="327.0" r="2.6"/>
<circle cx="572.6" cy="293.3" r="2.6"/>
<circle cx="569.5" cy="328.9" r="2.6"/>
<circle cx="577.0" cy="298.5" r="2.6"/>
<circle cx="575.3" cy="345.1" r="2.6"/>
<circle cx="570.4" cy="328.9" r="2.6"/>
<circle cx="578.0" cy="330.6" r="2.6"/>
<circle cx="572.8" cy="341.1" r="2.6"/>
<circle cx="560.9" cy="325.8" r="2.6"/>
<circle cx="585.5" cy="337.6" r="2.6"/>
<circle cx="558.2" cy="312.8" r="2.6"/>
<circle cx="575.0" cy="317.2" r="2.6"/>
<circle cx="570.2" cy="323.6" r="2.6"/>
<circle cx="570.9" cy="326.4" r="2.6"/>
<circle cx="586.9" cy="331.0" r="2.6"/>
<circle cx="568.3" cy="326.3" r="2.6"/>
<circle cx="570.1" cy="306.9" r="2.6"/>
<circle cx="570.3" cy="321.8" r="2.6"/>
<circle cx="561.3" cy="320.1" r="2.6"/>
<circle cx="577.2" cy="318.7" r="2.6"/>
<circle cx="558.1" cy="333.5" r="2.6"/>
<circle cx="549.3" cy="307.1" r="2.6"/>
<circle cx="570.8" cy="307.5" r="2.6"/>
<circle cx="588.1" cy="314.5" r="2.6"/>
<circle cx="566.3" cy="328.8" r="2.6"/>
<circle cx="578.4" cy="348.9" r="2.6"/>
<circle cx="583.5" cy="309.3" r="2.6"/>
<circle cx="579.1" cy="329.6" r="2.6"/>
<circle cx="574.8" cy="344.8" r="2.6"/>
<circle cx="563.6" cy="331.5" r="2.6"/>
<circle cx="565.3" cy="307.1" r="2.6"/>
<circle cx="575.6" cy="354.2" r="2.6"/>
<circle cx="581.5" cy="320.5" r="2.6"/>
<circle cx="569.7" cy="334.6" r="2.6"/>
<circle cx="589.3" cy="323.6" r="2.6"/>
<circle cx="574.0" cy="344.8" r="2.6"/>
<circle cx="566.8" cy="316.0" r="2.6"/>
<circle cx="572.8" cy="331.6" r="2.6"/>
<circle cx="569.1" cy="344.8" r="2.6"/>
<circle cx="550.8" cy="320.2" r="2.6"/>
<circle cx="559.3" cy="344.5" r="2.6"/>
<circle cx="574.4" cy="315.6" r="2.6"/>
<circle cx="568.7" cy="313.6" r="2.6"/>
<circle cx="572.0" cy="362.6" r="2.6"/>
<circle cx="585.5" cy="339.0" r="2.6"/>
<circle cx="585.1" cy="329.7" r="2.6"/>
<circle cx="571.1" cy="331.9" r="2.6"/>
<circle cx="563.1" cy="319.4" r="2.6"/>
<circle cx="585.9" cy="311.4" r="2.6"/>
<circle cx="566.9" cy="320.6" r="2.6"/>
<circle cx="580.6" cy="319.7" r="2.6"/>
<circle cx="560.6" cy="302.6" r="2.6"/>
<circle cx="565.3" cy="336.0" r="2.6"/>
<circle cx="572.8" cy="323.7" r="2.6"/>
<circle cx="566.9" cy="341.6" r="2.6"/>
<circle cx="561.2" cy="326.4" r="2.6"/>
<circle cx="555.6" cy="313.3" r="2.6"/>
<circle cx="577.2" cy="323.9" r="2.6"/>
<circle cx="573.4" cy="336.5" r="2.6"/>
<circle cx="566.9" cy="316.0" r="2.6"/>
<circle cx="567.2" cy="308.0" r="2.6"/>
<circle cx="580.4" cy="318.4" r="2.6"/>
<circle cx="569.6" cy="337.2" r="2.6"/>
<circle cx="570.3" cy="337.6" r="2.6"/>
<circle cx="568.5" cy="330.6" r="2.6"/>
<circle cx="566.8" cy="313.2" r="2.6"/>
<circle cx="564.0" cy="335.2" r="2.6"/>
<circle cx="581.7" cy="323.5" r="2.6"/>
<circle cx="575.9" cy="333.7" r="2.6"/>
<circle cx="574.5" cy="311.2" r="2.6"/>
<circle cx="571.8" cy="321.5" r="2.6"/>
<circle cx="582.1" cy="319.5" r="2.6"/>
<circle cx="582.2" cy="340.3" r="2.6"/>
<circle cx="556.6" cy="339.5" r="2.6"/>
<circle cx="575.3" cy="334.3" r="2.6"/>
<circle cx="554.4" cy="305.5" r="2.6"/>
<circle cx="544.3" cy="372.5" r="2.6"/>
<circle cx="515.2" cy="372.9" r="2.6"/>
<circle cx="577.7" cy="329.2" r="2.6"/>
<circle cx="580.4" cy="363.7" r="2.6"/>
<circle cx="504.8" cy="398.3" r="2.6"/>
<circle cx="528.5" cy="348.4" r="2.6"/>
<circle cx="610.2" cy="316.2" r="2.6"/>
<circle cx="558.7" cy="344.9" r="2.6"/>
<circle cx="545.6" cy="363.9" r="2.6"/>
<circle cx="596.9" cy="338.6" r="2.6"/>
<circle cx="573.9" cy="315.6" r="2.6"/>
<circle cx="580.4" cy="323.2" r="2.6"/>
<circle cx="548.0" cy="364.1" r="2.6"/>
<circle cx="572.8" cy="279.4" r="2.6"/>
<circle cx="585.1" cy="359.6" r="2.6"/>
<circle cx="549.7" cy="349.7" r="2.6"/>
<circle cx="536.4" cy="360.9" r="2.6"/>
<circle cx="584.9" cy="325.1" r="2.6"/>
<circle cx="514.8" cy="352.7" r="2.6"/>
<circle cx="594.9" cy="345.6" r="2.6"/>
<circle cx="528.5" cy="385.1" r="2.6"/>
<circle cx="563.6" cy="325.9" r="2.6"/>
<circle cx="508.4" cy="367.9" r="2.6"/>
<circle cx="518.1" cy="354.8" r="2.6"/>
<circle cx="559.6" cy="337.2" r="2.6"/>
<circle cx="529.9" cy="353.2" r="2.6"/>
<circle cx="614.4" cy="319.8" r="2.6"/>
<circle cx="528.0" cy="366.2" r="2.6"/>
<circle cx="606.2" cy="317.9" r="2.6"/>
<circle cx="579.6" cy="338.0" r="2.6"/>
<circle cx="541.4" cy="370.1" r="2.6"/>
<circle cx="589.4" cy="301.8" r="2.6"/>
<circle cx="592.7" cy="327.3" r="2.6"/>
<circle cx="553.5" cy="375.5" r="2.6"/>
<circle cx="570.9" cy="323.2" r="2.6"/>
<circle cx="507.7" cy="379.7" r="2.6"/>
<circle cx="556.4" cy="331.1" r="2.6"/>
<circle cx="560.4" cy="366.2" r="2.6"/>
<circle cx="612.5" cy="324.1" r="2.6"/>
<circle cx="585.7" cy="348.1" r="2.6"/>
<circle cx="554.6" cy="348.3" r="2.6"/>
<circle cx="602.6" cy="314.4" r="2.6"/>
<circle cx="539.8" cy="355.2" r="2.6"/>
<circle cx="529.8" cy="376.9" r="2.6"/>
<circle cx="579.7" cy="363.7" r="2.6"/>
<circle cx="609.8" cy="315.5" r="2.6"/>
<circle cx="551.0" cy="342.5" r="2.6"/>
<circle cx="596.2" cy="335.4" r="2.6"/>
<circle cx="565.9" cy="347.0" r="2.6"/>
<circle cx="564.8" cy="376.0" r="2.6"/>
<circle cx="583.1" cy="318.4" r="2.6"/>
<circle cx="522.9" cy="388.7" r="2.6"/>
<circle cx="508.2" cy="378.4" r="2.6"/>
<circle cx="526.6" cy="391.6" r="2.6"/>
<circle cx="602.9" cy="328.3" r="2.6"/>
<circle cx="522.6" cy="373.8" r="2.6"/>
<circle cx="580.7" cy="345.5" r="2.6"/>
<circle cx="609.5" cy="332.7" r="2.6"/>
<circle cx="529.6" cy="340.8" r="2.6"/>
<circle cx="518.7" cy="400.3" r="2.6"/>
<circle cx="556.0" cy="360.6" r="2.6"/>
<circle cx="552.3" cy="347.5" r="2.6"/>
<circle cx="541.7" cy="323.6" r="2.6"/>
<circle cx="506.9" cy="363.3" r="2.6"/>
<circle cx="588.2" cy="321.3" r="2.6"/>
<circle cx="572.9" cy="346.4" r="2.6"/>
<circle cx="552.5" cy="321.7" r="2.6"/>
<circle cx="561.7" cy="334.1" r="2.6"/>
<circle cx="597.3" cy="321.6" r="2.6"/>
<circle cx="531.3" cy="357.9" r="2.6"/>
<circle cx="598.9" cy="327.0" r="2.6"/>
<circle cx="548.3" cy="352.1" r="2.6"/>
<circle cx="549.3" cy="333.5" r="2.6"/>
<circle cx="532.4" cy="386.6" r="2.6"/>
<circle cx="590.4" cy="351.9" r="2.6"/>
<circle cx="580.9" cy="316.3" r="2.6"/>
<circle cx="512.8" cy="385.3" r="2.6"/>
<circle cx="557.7" cy="345.2" r="2.6"/>
<circle cx="568.8" cy="349.8" r="2.6"/>
<circle cx="564.7" cy="361.2" r="2.6"/>
<circle cx="600.2" cy="334.5" r="2.6"/>
<circle cx="520.6" cy="374.6" r="2.6"/>
<circle cx="536.1" cy="342.3" r="2.6"/>
<circle cx="606.2" cy="332.3" r="2.6"/>
<circle cx="616.1" cy="328.0" r="2.6"/>
<circle cx="590.7" cy="349.2" r="2.6"/>
<circle cx="562.7" cy="327.6" r="2.6"/>
<circle cx="578.2" cy="345.3" r="2.6"/>
<circle cx="583.8" cy="344.3" r="2.6"/>
<circle cx="570.3" cy="350.6" r="2.6"/>
<circle cx="554.2" cy="362.2" r="2.6"/>
<circle cx="528.5" cy="387.2" r="2.6"/>
<circle cx="547.4" cy="354.7" r="2.6"/>
<circle cx="561.3" cy="304.6" r="2.6"/>
<circle cx="556.7" cy="320.7" r="2.6"/>
<circle cx="603.9" cy="334.7" r="2.6"/>
<circle cx="562.8" cy="335.1" r="2.6"/>
<circle cx="514.4" cy="356.0" r="2.6"/>
<circle cx="550.9" cy="369.6" r="2.6"/>
<circle cx="566.2" cy="339.6" r="2.6"/>
<circle cx="583.2" cy="328.4" r="2.6"/>
<circle cx="564.3" cy="362.0" r="2.6"/>
<circle cx="552.0" cy="340.6" r="2.6"/>
<circle cx="583.0" cy="341.9" r="2.6"/>
<circle cx="561.9" cy="349.6" r="2.6"/>
<circle cx="533.6" cy="375.2" r="2.6"/>
<circle cx="592.5" cy="342.5" r="2.6"/>
<circle cx="616.1" cy="324.2" r="2.6"/>
<circle cx="563.3" cy="369.1" r="2.6"/>
<circle cx="517.8" cy="367.4" r="2.6"/>
<circle cx="548.5" cy="363.5" r="2.6"/>
<circle cx="572.1" cy="345.3" r="2.6"/>
<circle cx="567.8" cy="311.2" r="2.6"/>
<circle cx="542.0" cy="352.8" r="2.6"/>
<circle cx="571.1" cy="355.9" r="2.6"/>
<circle cx="555.6" cy="368.4" r="2.6"/>
<circle cx="568.7" cy="323.6" r="2.6"/>
<circle cx="535.8" cy="347.7" r="2.6"/>
<circle cx="513.4" cy="373.6" r="2.6"/>
<circle cx="566.8" cy="317.0" r="2.6"/>
<circle cx="598.9" cy="347.9" r="2.6"/>
<circle cx="575.2" cy="354.6" r="2.6"/>
<circle cx="523.8" cy="364.3" r="2.6"/>
<circle cx="555.8" cy="338.8" r="2.6"/>
<circle cx="597.1" cy="352.7" r="2.6"/>
<circle cx="552.9" cy="356.6" r="2.6"/>
<circle cx="609.4" cy="320.7" r="2.6"/>
<circle cx="608.8" cy="335.2" r="2.6"/>
<circle cx="582.9" cy="355.0" r="2.6"/>
<circle cx="553.4" cy="329.3" r="2.6"/>
<circle cx="584.8" cy="360.1" r="2.6"/>
<circle cx="611.0" cy="325.9" r="2.6"/>
<circle cx="607.5" cy="343.0" r="2.6"/>
<circle cx="587.2" cy="333.6" r="2.6"/>
<circle cx="581.7" cy="321.6" r="2.6"/>
<circle cx="537.0" cy="346.5" r="2.6"/>
<circle cx="579.5" cy="332.0" r="2.6"/>
<circle cx="533.8" cy="346.9" r="2.6"/>
<circle cx="537.1" cy="387.9" r="2.6"/>
<circle cx="578.7" cy="352.6" r="2.6"/>
<circle cx="579.3" cy="337.9" r="2.6"/>
<circle cx="554.1" cy="366.6" r="2.6"/>
<circle cx="579.9" cy="331.4" r="2.6"/>
<circle cx="530.6" cy="345.7" r="2.6"/>
<circle cx="519.7" cy="376.5" r="2.6"/>
<circle cx="525.4" cy="372.9" r="2.6"/>
<circle cx="574.9" cy="361.1" r="2.6"/>
<circle cx="563.8" cy="350.6" r="2.6"/>
<circle cx="575.9" cy="336.0" r="2.6"/>
<circle cx="586.2" cy="362.2" r="2.6"/>
<circle cx="600.2" cy="353.2" r="2.6"/>
<circle cx="517.7" cy="361.6" r="2.6"/>
<circle cx="514.1" cy="391.6" r="2.6"/>
<circle cx="531.8" cy="352.5" r="2.6"/>
<circle cx="615.5" cy="328.0" r="2.6"/>
<circle cx="558.8" cy="329.3" r="2.6"/>
<circle cx="577.9" cy="329.3" r="2.6"/>
<circle cx="546.5" cy="358.3" r="2.6"/>
<circle cx="610.6" cy="318.0" r="2.6"/>
<circle cx="555.8" cy="360.4" r="2.6"/>
<circle cx="612.7" cy="330.4" r="2.6"/>
<circle cx="516.9" cy="368.4" r="2.6"/>
<circle cx="566.1" cy="350.7" r="2.6"/>
<circle cx="542.2" cy="338.3" r="2.6"/>
<circle cx="601.6" cy="334.8" r="2.6"/>
<circle cx="508.1" cy="365.9" r="2.6"/>
<circle cx="547.4" cy="304.5" r="2.6"/>
<circle cx="509.1" cy="370.7" r="2.6"/>
<circle cx="565.6" cy="329.3" r="2.6"/>
<circle cx="548.8" cy="358.8" r="2.6"/>
<circle cx="558.9" cy="330.3" r="2.6"/>
<circle cx="525.8" cy="384.1" r="2.6"/>
<circle cx="570.9" cy="345.2" r="2.6"/>
<circle cx="590.1" cy="345.3" r="2.6"/>
<circle cx="613.6" cy="320.7" r="2.6"/>
<circle cx="518.3" cy="371.5" r="2.6"/>
<circle cx="552.4" cy="334.6" r="2.6"/>
<circle cx="529.1" cy="352.0" r="2.6"/>
<circle cx="567.9" cy="354.9" r="2.6"/>
<circle cx="575.0" cy="328.9" r="2.6"/>
<circle cx="520.0" cy="352.1" r="2.6"/>
<circle cx="567.3" cy="348.4" r="2.6"/>
<circle cx="517.8" cy="389.8" r="2.6"/>
<circle cx="547.9" cy="346.5" r="2.6"/>
<circle cx="512.5" cy="367.2" r="2.6"/>
<circle cx="549.6" cy="362.5" r="2.6"/>
<circle cx="561.9" cy="376.6" r="2.6"/>
<circle cx="603.8" cy="327.3" r="2.6"/>
<circle cx="586.5" cy="353.0" r="2.6"/>
<circle cx="564.3" cy="318.6" r="2.6"/>
<circle cx="602.2" cy="305.9" r="2.6"/>
<circle cx="607.7" cy="324.0" r="2.6"/>
<circle cx="509.2" cy="341.2" r="2.6"/>
<circle cx="562.4" cy="352.9" r="2.6"/>
<circle cx="548.9" cy="333.7" r="2.6"/>
<circle cx="568.2" cy="369.6" r="2.6"/>
<circle cx="580.7" cy="327.2" r="2.6"/>
<circle cx="536.8" cy="353.8" r="2.6"/>
<circle cx="542.4" cy="343.6" r="2.6"/>
<circle cx="553.8" cy="378.5" r="2.6"/>
<circle cx="618.1" cy="322.8" r="2.6"/>
<circle cx="534.9" cy="364.1" r="2.6"/>
<circle cx="505.5" cy="352.1" r="2.6"/>
<circle cx="578.0" cy="318.0" r="2.6"/>
<circle cx="572.5" cy="336.8" r="2.6"/>
<circle cx="548.9" cy="338.0" r="2.6"/>
<circle cx="506.7" cy="371.7" r="2.6"/>
<circle cx="517.1" cy="364.7" r="2.6"/>
<circle cx="590.1" cy="307.3" r="2.6"/>
<circle cx="545.6" cy="346.5" r="2.6"/>
<circle cx="531.1" cy="366.8" r="2.6"/>
<circle cx="570.6" cy="371.6" r="2.6"/>
<circle cx="540.4" cy="362.1" r="2.6"/>
<circle cx="608.8" cy="343.3" r="2.6"/>
<circle cx="571.0" cy="361.4" r="2.6"/>
<circle cx="529.2" cy="397.6" r="2.6"/>
<circle cx="506.5" cy="386.4" r="2.6"/>
<circle cx="542.8" cy="359.6" r="2.6"/>
<circle cx="593.8" cy="320.9" r="2.6"/>
<circle cx="579.6" cy="321.8" r="2.6"/>
<circle cx="512.3" cy="346.1" r="2.6"/>
<circle cx="606.4" cy="324.5" r="2.6"/>
<circle cx="568.2" cy="360.9" r="2.6"/>
<circle cx="570.1" cy="343.7" r="2.6"/>
<circle cx="558.5" cy="364.0" r="2.6"/>
<circle cx="606.7" cy="324.7" r="2.6"/>
<circle cx="539.5" cy="376.1" r="2.6"/>
<circle cx="539.4" cy="333.0" r="2.6"/>
<circle cx="512.9" cy="371.3" r="2.6"/>
<circle cx="564.8" cy="365.6" r="2.6"/>
<circle cx="537.4" cy="347.5" r="2.6"/>
<circle cx="534.7" cy="355.2" r="2.6"/>
<circle cx="607.2" cy="346.9" r="2.6"/>
<circle cx="554.9" cy="355.7" r="2.6"/>
<circle cx="546.7" cy="361.2" r="2.6"/>
<circle cx="557.5" cy="350.9" r="2.6"/>
<circle cx="535.1" cy="340.5" r="2.6"/>
<circle cx="513.6" cy="370.4" r="2.6"/>
<circle cx="581.4" cy="335.3" r="2.6"/>
<circle cx="515.7" cy="354.9" r="2.6"/>
<circle cx="536.1" cy="366.1" r="2.6"/>
<circle cx="568.2" cy="350.9" r="2.6"/>
<circle cx="539.8" cy="330.6" r="2.6"/>
<circle cx="611.0" cy="319.7" r="2.6"/>
<circle cx="606.6" cy="325.7" r="2.6"/>
<circle cx="584.2" cy="339.0" r="2.6"/>
<circle cx="546.3" cy="329.8" r="2.6"/>
<circle cx="563.4" cy="349.3" r="2.6"/>
<circle cx="579.6" cy="318.5" r="2.6"/>
<circle cx="602.4" cy="329.8" r="2.6"/>
<circle cx="570.2" cy="321.5" r="2.6"/>
<circle cx="611.5" cy="320.9" r="2.6"/>
<circle cx="551.8" cy="387.4" r="2.6"/>
<circle cx="571.6" cy="318.1" r="2.6"/>
<circle cx="566.0" cy="341.0" r="2.6"/>
<circle cx="564.5" cy="367.8" r="2.6"/>
<circle cx="580.7" cy="339.7" r="2.6"/>
<circle cx="505.7" cy="355.2" r="2.6"/>
<circle cx="587.9" cy="323.2" r="2.6"/>
<circle cx="591.9" cy="322.1" r="2.6"/>
<circle cx="611.1" cy="316.0" r="2.6"/>
<circle cx="517.1" cy="345.0" r="2.6"/>
<circle cx="521.7" cy="384.8" r="2.6"/>
<circle cx="528.9" cy="363.9" r="2.6"/>
<circle cx="508.2" cy="394.2" r="2.6"/>
<circle cx="565.9" cy="332.6" r="2.6"/>
<circle cx="566.6" cy="314.2" r="2.6"/>
<circle cx="506.2" cy="373.0" r="2.6"/>
<circle cx="609.3" cy="324.5" r="2.6"/>
<circle cx="607.1" cy="327.1" r="2.6"/>
<circle cx="613.0" cy="325.4" r="2.6"/>
<circle cx="535.2" cy="374.9" r="2.6"/>
<circle cx="569.2" cy="366.4" r="2.6"/>
<circle cx="518.1" cy="365.1" r="2.6"/>
<circle cx="519.0" cy="338.6" r="2.6"/>
<circle cx="548.2" cy="337.2" r="2.6"/>
<circle cx="522.3" cy="371.1" r="2.6"/>
<circle cx="579.8" cy="356.0" r="2.6"/>
<circle cx="546.9" cy="329.5" r="2.6"/>
<circle cx="600.4" cy="325.1" r="2.6"/>
<circle cx="567.8" cy="353.4" r="2.6"/>
<circle cx="556.2" cy="323.0" r="2.6"/>
<circle cx="544.2" cy="328.9" r="2.6"/>
<circle cx="575.3" cy="303.0" r="2.6"/>
<circle cx="583.7" cy="320.5" r="2.6"/>
<circle cx="558.8" cy="330.1" r="2.6"/>
<circle cx="559.4" cy="345.9" r="2.6"/>
<circle cx="602.2" cy="319.7" r="2.6"/>
<circle cx="574.5" cy="341.7" r="2.6"/>
<circle cx="551.1" cy="378.7" r="2.6"/>
<circle cx="568.2" cy="351.8" r="2.6"/>
<circle cx="554.4" cy="327.1" r="2.6"/>
<circle cx="595.2" cy="336.3" r="2.6"/>
<circle cx="514.2" cy="351.9" r="2.6"/>
<circle cx="509.2" cy="369.1" r="2.6"/>
<circle cx="553.7" cy="347.3" r="2.6"/>
<circle cx="548.5" cy="348.9" r="2.6"/>
<circle cx="618.4" cy="325.3" r="2.6"/>
<circle cx="515.7" cy="359.4" r="2.6"/>
<circle cx="533.1" cy="373.0" r="2.6"/>
<circle cx="606.7" cy="325.5" r="2.6"/>
<circle cx="590.1" cy="330.7" r="2.6"/>
<circle cx="609.1" cy="328.6" r="2.6"/>
<circle cx="594.4" cy="355.8" r="2.6"/>
<circle cx="612.2" cy="327.7" r="2.6"/>
<circle cx="595.3" cy="321.3" r="2.6"/>
<circle cx="599.8" cy="322.2" r="2.6"/>
<circle cx="600.3" cy="330.7" r="2.6"/>
<circle cx="604.1" cy="321.2" r="2.6"/>
<circle cx="597.7" cy="330.8" r="2.6"/>
<circle cx="598.8" cy="339.9" r="2.6"/>
<circle cx="610.1" cy="336.7" r="2.6"/>
<circle cx="587.2" cy="330.9" r="2.6"/>
<circle cx="608.8" cy="318.0" r="2.6"/>
<circle cx="611.2" cy="329.0" r="2.6"/>
<circle cx="609.6" cy="337.5" r="2.6"/>
<circle cx="602.4" cy="326.7" r="2.6"/>
<circle cx="589.8" cy="345.7" r="2.6"/>
<circle cx="591.3" cy="333.3" r="2.6"/>
<circle cx="601.6" cy="326.2" r="2.6"/>
<circle cx="615.4" cy="322.0" r="2.6"/>
<circle cx="597.8" cy="336.9" r="2.6"/>
<circle cx="605.4" cy="315.4" r="2.6"/>
<circle cx="595.6" cy="324.6" r="2.6"/>
<circle cx="609.4" cy="336.0" r="2.6"/>
<circle cx="586.3" cy="341.9" r="2.6"/>
<circle cx="607.2" cy="323.9" r="2.6"/>
<circle cx="601.9" cy="323.7" r="2.6"/>
<circle cx="604.7" cy="336.2" r="2.6"/>
<circle cx="587.8" cy="330.7" r="2.6"/>
<circle cx="598.0" cy="325.1" r="2.6"/>
<circle cx="592.1" cy="337.0" r="2.6"/>
<circle cx="591.8" cy="315.6" r="2.6"/>
<circle cx="599.6" cy="334.0" r="2.6"/>
<circle cx="597.0" cy="340.5" r="2.6"/>
<circle cx="589.7" cy="341.9" r="2.6"/>
<circle cx="598.0" cy="316.6" r="2.6"/>
<circle cx="586.9" cy="336.7" r="2.6"/>
<circle cx="616.3" cy="325.7" r="2.6"/>
<circle cx="591.9" cy="335.5" r="2.6"/>
<circle cx="587.3" cy="340.8" r="2.6"/>
<circle cx="595.4" cy="334.8" r="2.6"/>
<circle cx="598.5" cy="323.2" r="2.6"/>
<circle cx="596.7" cy="325.2" r="2.6"/>
<circle cx="585.8" cy="320.4" r="2.6"/>
<circle cx="604.2" cy="320.9" r="2.6"/>
<circle cx="595.7" cy="324.1" r="2.6"/>
<circle cx="601.6" cy="314.3" r="2.6"/>
<circle cx="600.5" cy="332.4" r="2.6"/>
<circle cx="607.6" cy="318.9" r="2.6"/>
<circle cx="612.2" cy="323.8" r="2.6"/>
<circle cx="610.6" cy="332.6" r="2.6"/>
<circle cx="597.1" cy="315.9" r="2.6"/>
<circle cx="613.3" cy="326.1" r="2.6"/>
<circle cx="604.3" cy="317.5" r="2.6"/>
<circle cx="618.5" cy="324.1" r="2.6"/>
<circle cx="600.9" cy="320.2" r="2.6"/>
<circle cx="603.5" cy="328.2" r="2.6"/>
<circle cx="605.0" cy="340.6" r="2.6"/>
<circle cx="614.9" cy="325.9" r="2.6"/>
<circle cx="591.9" cy="333.8" r="2.6"/>
<circle cx="599.6" cy="337.5" r="2.6"/>
<circle cx="589.6" cy="311.1" r="2.6"/>
<circle cx="610.6" cy="336.3" r="2.6"/>
<circle cx="605.3" cy="318.9" r="2.6"/>
<circle cx="597.0" cy="325.2" r="2.6"/>
<circle cx="588.6" cy="338.1" r="2.6"/>
<circle cx="599.9" cy="322.0" r="2.6"/>
<circle cx="588.0" cy="319.0" r="2.6"/>
<circle cx="604.8" cy="310.4" r="2.6"/>
<circle cx="487.2" cy="365.2" r="2.6"/>
<circle cx="493.4" cy="361.0" r="2.6"/>
<circle cx="484.6" cy="352.2" r="2.6"/>
<circle cx="520.6" cy="342.5" r="2.6"/>
<circle cx="521.8" cy="332.1" r="2.6"/>
<circle cx="501.7" cy="355.7" r="2.6"/>
<circle cx="509.0" cy="358.9" r="2.6"/>
<circle cx="479.8" cy="368.4" r="2.6"/>
<circle cx="515.0" cy="342.5" r="2.6"/>
<circle cx="478.1" cy="350.6" r="2.6"/>
<circle cx="478.4" cy="366.1" r="2.6"/>
<circle cx="484.6" cy="372.0" r="2.6"/>
<circle cx="487.2" cy="357.7" r="2.6"/>
<circle cx="510.0" cy="333.2" r="2.6"/>
<circle cx="500.2" cy="371.4" r="2.6"/>
<circle cx="478.0" cy="380.7" r="2.6"/>
<circle cx="482.3" cy="376.8" r="2.6"/>
<circle cx="490.3" cy="374.0" r="2.6"/>
<circle cx="516.6" cy="355.9" r="2.6"/>
<circle cx="499.0" cy="343.7" r="2.6"/>
<circle cx="484.8" cy="364.1" r="2.6"/>
<circle cx="478.1" cy="367.7" r="2.6"/>
<circle cx="520.3" cy="345.5" r="2.6"/>
<circle cx="490.5" cy="355.3" r="2.6"/>
<circle cx="500.1" cy="357.5" r="2.6"/>
<circle cx="506.5" cy="344.4" r="2.6"/>
<circle cx="518.5" cy="324.0" r="2.6"/>
<circle cx="521.9" cy="332.3" r="2.6"/>
<circle cx="508.7" cy="338.7" r="2.6"/>
<circle cx="485.4" cy="374.9" r="2.6"/>
<circle cx="516.3" cy="353.1" r="2.6"/>
<circle cx="477.1" cy="355.5" r="2.6"/>
<circle cx="482.5" cy="373.9" r="2.6"/>
<circle cx="520.0" cy="359.9" r="2.6"/>
<circle cx="515.5" cy="359.6" r="2.6"/>
<circle cx="513.9" cy="356.3" r="2.6"/>
<circle cx="502.9" cy="347.4" r="2.6"/>
<circle cx="510.3" cy="363.7" r="2.6"/>
<circle cx="508.1" cy="365.8" r="2.6"/>
<circle cx="487.8" cy="349.0" r="2.6"/>
<circle cx="483.4" cy="368.3" r="2.6"/>
<circle cx="481.6" cy="361.7" r="2.6"/>
<circle cx="484.5" cy="369.9" r="2.6"/>
<circle cx="522.8" cy="349.8" r="2.6"/>
<circle cx="500.0" cy="371.9" r="2.6"/>
<circle cx="488.7" cy="375.7" r="2.6"/>
<circle cx="505.7" cy="367.1" r="2.6"/>
<circle cx="484.6" cy="376.6" r="2.6"/>
<circle cx="511.4" cy="345.3" r="2.6"/>
<circle cx="490.1" cy="369.2" r="2.6"/>
<circle cx="489.3" cy="360.0" r="2.6"/>
<circle cx="503.3" cy="368.7" r="2.6"/>
<circle cx="483.5" cy="358.8" r="2.6"/>
<circle cx="489.5" cy="354.2" r="2.6"/>
<circle cx="484.5" cy="377.6" r="2.6"/>
<circle cx="479.5" cy="348.2" r="2.6"/>
<circle cx="501.7" cy="371.3" r="2.6"/>
<circle cx="493.1" cy="354.3" r="2.6"/>
<circle cx="486.6" cy="346.5" r="2.6"/>
<circle cx="476.4" cy="366.6" r="2.6"/>
<circle cx="503.5" cy="367.2" r="2.6"/>
<circle cx="523.1" cy="345.3" r="2.6"/>
<circle cx="482.4" cy="352.6" r="2.6"/>
<circle cx="477.5" cy="358.6" r="2.6"/>
<circle cx="515.9" cy="344.0" r="2.6"/>
<circle cx="477.3" cy="381.4" r="2.6"/>
<circle cx="515.7" cy="332.9" r="2.6"/>
<circle cx="489.0" cy="339.8" r="2.6"/>
<circle cx="514.9" cy="364.2" r="2.6"/>
<circle cx="518.3" cy="364.1" r="2.6"/>
<circle cx="491.6" cy="371.8" r="2.6"/>
<circle cx="486.2" cy="363.5" r="2.6"/>
<circle cx="478.3" cy="342.2" r="2.6"/>
<circle cx="486.2" cy="354.8" r="2.6"/>
<circle cx="492.9" cy="338.8" r="2.6"/>
<circle cx="502.8" cy="356.4" r="2.6"/>
<circle cx="512.4" cy="349.2" r="2.6"/>
<circle cx="497.6" cy="370.2" r="2.6"/>
<circle cx="514.2" cy="345.2" r="2.6"/>
<circle cx="498.2" cy="332.1" r="2.6"/>
<circle cx="498.3" cy="346.4" r="2.6"/>
<circle cx="483.9" cy="370.2" r="2.6"/>
<circle cx="506.2" cy="364.0" r="2.6"/>
<circle cx="523.6" cy="320.9" r="2.6"/>
<circle cx="506.9" cy="343.8" r="2.6"/>
<circle cx="489.1" cy="348.8" r="2.6"/>
<circle cx="517.1" cy="351.7" r="2.6"/>
<circle cx="503.1" cy="348.8" r="2.6"/>
<circle cx="488.0" cy="377.0" r="2.6"/>
<circle cx="484.8" cy="363.0" r="2.6"/>
<circle cx="506.5" cy="336.4" r="2.6"/>
<circle cx="488.9" cy="374.1" r="2.6"/>
<circle cx="496.1" cy="371.1" r="2.6"/>
<circle cx="488.5" cy="363.0" r="2.6"/>
<circle cx="508.8" cy="366.9" r="2.6"/>
<circle cx="484.4" cy="365.5" r="2.6"/>
<circle cx="501.0" cy="368.6" r="2.6"/>
<circle cx="507.6" cy="351.2" r="2.6"/>
<circle cx="522.0" cy="323.8" r="2.6"/>
<circle cx="506.0" cy="368.4" r="2.6"/>
<circle cx="501.0" cy="365.8" r="2.6"/>
<circle cx="489.4" cy="375.9" r="2.6"/>
<circle cx="509.1" cy="346.1" r="2.6"/>
<circle cx="489.2" cy="372.2" r="2.6"/>
<circle cx="523.4" cy="344.8" r="2.6"/>
<circle cx="509.4" cy="363.0" r="2.6"/>
<circle cx="521.0" cy="337.7" r="2.6"/>
<circle cx="500.4" cy="370.4" r="2.6"/>
<circle cx="496.9" cy="373.3" r="2.6"/>
<circle cx="486.2" cy="349.5" r="2.6"/>
<circle cx="481.5" cy="376.4" r="2.6"/>
<circle cx="492.4" cy="335.9" r="2.6"/>
<circle cx="484.0" cy="368.0" r="2.6"/>
<circle cx="501.5" cy="371.1" r="2.6"/>
<circle cx="503.0" cy="370.1" r="2.6"/>
<circle cx="491.4" cy="368.3" r="2.6"/>
<circle cx="523.6" cy="349.8" r="2.6"/>
<circle cx="490.4" cy="368.5" r="2.6"/>
<circle cx="490.4" cy="373.6" r="2.6"/>
<circle cx="491.2" cy="352.1" r="2.6"/>
<circle cx="539.7" cy="324.4" r="2.6"/>
<circle cx="512.8" cy="317.4" r="2.6"/>
<circle cx="535.0" cy="325.6" r="2.6"/>
<circle cx="582.1" cy="280.4" r="2.6"/>
<circle cx="556.7" cy="319.6" r="2.6"/>
<circle cx="581.1" cy="290.4" r="2.6"/>
<circle cx="511.0" cy="336.5" r="2.6"/>
<circle cx="581.0" cy="301.2" r="2.6"/>
<circle cx="524.6" cy="297.4" r="2.6"/>
<circle cx="527.7" cy="330.9" r="2.6"/>
<circle cx="569.0" cy="276.8" r="2.6"/>
<circle cx="570.1" cy="314.0" r="2.6"/>
<circle cx="511.2" cy="337.8" r="2.6"/>
<circle cx="566.5" cy="278.3" r="2.6"/>
<circle cx="519.4" cy="318.7" r="2.6"/>
<circle cx="567.3" cy="315.2" r="2.6"/>
<circle cx="586.8" cy="303.6" r="2.6"/>
<circle cx="541.6" cy="298.9" r="2.6"/>
<circle cx="556.0" cy="302.5" r="2.6"/>
<circle cx="514.4" cy="323.9" r="2.6"/>
<circle cx="522.3" cy="308.9" r="2.6"/>
<circle cx="575.8" cy="295.9" r="2.6"/>
<circle cx="564.7" cy="277.7" r="2.6"/>
<circle cx="580.5" cy="292.4" r="2.6"/>
<circle cx="540.3" cy="327.1" r="2.6"/>
<circle cx="595.2" cy="303.0" r="2.6"/>
<circle cx="513.2" cy="325.8" r="2.6"/>
<circle cx="594.5" cy="301.4" r="2.6"/>
<circle cx="527.4" cy="332.7" r="2.6"/>
<circle cx="523.3" cy="328.5" r="2.6"/>
<circle cx="539.4" cy="323.6" r="2.6"/>
<circle cx="584.8" cy="279.3" r="2.6"/>
<circle cx="593.3" cy="303.3" r="2.6"/>
<circle cx="569.2" cy="313.0" r="2.6"/>
<circle cx="549.1" cy="311.2" r="2.6"/>
<circle cx="536.5" cy="302.5" r="2.6"/>
<circle cx="528.3" cy="306.4" r="2.6"/>
<circle cx="575.1" cy="296.8" r="2.6"/>
<circle cx="516.0" cy="337.0" r="2.6"/>
<circle cx="578.6" cy="280.3" r="2.6"/>
<circle cx="530.0" cy="312.8" r="2.6"/>
<circle cx="574.4" cy="284.9" r="2.6"/>
<circle cx="521.1" cy="333.4" r="2.6"/>
<circle cx="514.9" cy="320.5" r="2.6"/>
<circle cx="540.2" cy="305.3" r="2.6"/>
<circle cx="523.6" cy="317.8" r="2.6"/>
<circle cx="532.8" cy="321.4" r="2.6"/>
<circle cx="560.0" cy="281.2" r="2.6"/>
<circle cx="525.9" cy="309.0" r="2.6"/>
<circle cx="513.8" cy="337.2" r="2.6"/>
<circle cx="569.2" cy="314.0" r="2.6"/>
<circle cx="581.5" cy="284.4" r="2.6"/>
<circle cx="528.3" cy="311.7" r="2.6"/>
<circle cx="565.1" cy="277.5" r="2.6"/>
<circle cx="551.9" cy="315.1" r="2.6"/>
<circle cx="584.7" cy="305.0" r="2.6"/>
<circle cx="587.7" cy="302.6" r="2.6"/>
<circle cx="544.4" cy="294.8" r="2.6"/>
<circle cx="574.3" cy="310.5" r="2.6"/>
<circle cx="565.9" cy="276.4" r="2.6"/>
<circle cx="543.8" cy="310.8" r="2.6"/>
<circle cx="565.7" cy="293.7" r="2.6"/>
<circle cx="542.9" cy="318.5" r="2.6"/>
<circle cx="524.6" cy="317.8" r="2.6"/>
<circle cx="537.8" cy="301.6" r="2.6"/>
<circle cx="513.3" cy="318.4" r="2.6"/>
<circle cx="523.2" cy="305.7" r="2.6"/>
<circle cx="580.0" cy="304.8" r="2.6"/>
<circle cx="518.0" cy="334.7" r="2.6"/>
<circle cx="527.3" cy="295.9" r="2.6"/>
<circle cx="561.8" cy="275.4" r="2.6"/>
<circle cx="566.6" cy="275.4" r="2.6"/>
<circle cx="547.6" cy="279.5" r="2.6"/>
<circle cx="552.3" cy="277.8" r="2.6"/>
<circle cx="585.6" cy="277.8" r="2.6"/>
<circle cx="533.3" cy="282.8" r="2.6"/>
<circle cx="509.5" cy="297.8" r="2.6"/>
<circle cx="500.0" cy="304.4" r="2.6"/>
<circle cx="591.6" cy="287.8" r="2.6"/>
<circle cx="467.8" cy="315.2" r="2.6"/>
<circle cx="542.8" cy="285.3" r="2.6"/>
<circle cx="547.6" cy="291.9" r="2.6"/>
<circle cx="400.0" cy="347.6" r="2.6"/>
<circle cx="394.1" cy="355.9" r="2.6"/>
<circle cx="402.4" cy="354.2" r="2.6"/>
</g>
<line x1="388.7" y1="422.5" x2="618.7" y2="321.7" stroke="#9a9a9a" stroke-width="2.2" stroke-linecap="round"/>
<rect x="376.2" y="254.2" width="261.8" height="183.0" fill="none" stroke="#4a4a4a" stroke-width="0.9"/>
<g stroke="#4a4a4a" stroke-width="0.9">
<line x1="376.2" y1="437.2" x2="376.2" y2="439.8"/>
<line x1="423.8" y1="437.2" x2="423.8" y2="439.8"/>
<line x1="471.4" y1="437.2" x2="471.4" y2="439.8"/>
<line x1="519.0" y1="437.2" x2="519.0" y2="439.8"/>
<line x1="566.6" y1="437.2" x2="566.6" y2="439.8"/>
<line x1="614.2" y1="437.2" x2="614.2" y2="439.8"/>
<line x1="373.6" y1="437.2" x2="376.2" y2="437.2"/>
<line x1="373.6" y1="420.6" x2="376.2" y2="420.6"/>
<line x1="373.6" y1="404.0" x2="376.2" y2="404.0"/>
<line x1="373.6" y1="387.4" x2="376.2" y2="387.4"/>
<line x1="373.6" y1="370.8" x2="376.2" y2="370.8"/>
<line x1="373.6" y1="354.2" x2="376.2" y2="354.2"/>
<line x1="373.6" y1="337.6" x2="376.2" y2="337.6"/>
<line x1="373.6" y1="321.0" x2="376.2" y2="321.0"/>
<line x1="373.6" y1="304.4" x2="376.2" y2="304.4"/>
<line x1="373.6" y1="287.8" x2="376.2" y2="287.8"/>
<line x1="373.6" y1="271.2" x2="376.2" y2="271.2"/>
<line x1="373.6" y1="254.6" x2="376.2" y2="254.6"/>
</g>
<g font-family='"Liberation Sans", Arial, sans-serif' font-size="7.4" fill="#222">
<text x="376.2" y="450.4" text-anchor="middle">0</text>
<text x="423.8" y="450.4" text-anchor="middle">200</text>
<text x="471.4" y="450.4" text-anchor="middle">400</text>
<text x="519.0" y="450.4" text-anchor="middle">600</text>
<text x="566.6" y="450.4" text-anchor="middle">800</text>
<text x="614.2" y="450.4" text-anchor="middle">1000</text>
<text x="370.4" y="439.8" text-anchor="end">0.2</text>
<text x="370.4" y="423.2" text-anchor="end">0.4</text>
<text x="370.4" y="406.6" text-anchor="end">0.6</text>
<text x="370.4" y="390.0" text-anchor="end">0.8</text>
<text x="370.4" y="373.4" text-anchor="end">1.0</text>
<text x="370.4" y="356.8" text-anchor="end">1.2</text>
<text x="370.4" y="340.2" text-anchor="end">1.4</text>
<text x="370.4" y="323.6" text-anchor="end">1.6</text>
<text x="370.4" y="307.0" text-anchor="end">1.8</text>
<text x="370.4" y="290.4" text-anchor="end">2.0</text>
<text x="370.4" y="273.8" text-anchor="end">2.2</text>
<text x="370.4" y="257.2" text-anchor="end">2.4</text>
<text x="583.5" y="375.5" font-size="7.25">(r<tspan dy="-2.5" font-size="4.5">2</tspan><tspan dy="2.5">=0.6; p&lt;0.01)</tspan></text>
</g>
<text x="507.5" y="465.6" text-anchor="middle" font-family='"Liberation Sans", Arial, sans-serif' font-size="9.4" fill="#222">MLD (m) during DC period</text>
<text transform="translate(352.3,346.2) rotate(-90)" text-anchor="middle" font-family='"Liberation Sans", Arial, sans-serif' font-size="8.9" fill="#222">MODIS chlorophyll during blooming season (mg m<tspan dy="-3" font-size="6">-3</tspan><tspan dy="3">)</tspan></text>
<text x="328" y="248.9" font-family='"Liberation Sans", Arial, sans-serif' font-size="12.6" font-weight="bold" fill="#111">d)</text>
</g>
</svg></body></html>
